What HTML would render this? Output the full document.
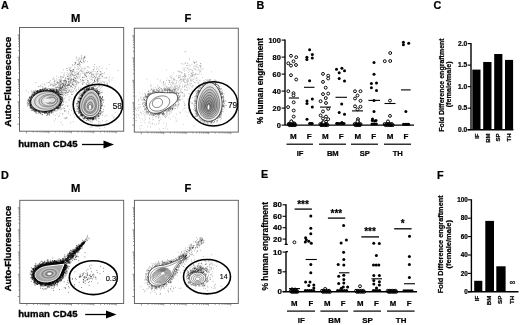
<!DOCTYPE html>
<html><head><meta charset="utf-8"><style>
html,body{margin:0;padding:0;background:#fff;width:520px;height:325px;overflow:hidden}
svg{display:block;will-change:transform}
text{font-family:"Liberation Sans", sans-serif;fill:#000;stroke:#000;stroke-width:0.22px;stroke-linejoin:round}
</style></head><body>
<svg width="520" height="325" viewBox="0 0 520 325">
<rect width="520" height="325" fill="#fff"/>
<text x="1" y="8.9" font-size="10.8" font-weight="bold" text-anchor="start">A</text>
<text x="256.5" y="8.9" font-size="10.8" font-weight="bold" text-anchor="start">B</text>
<text x="433.6" y="8.9" font-size="10.8" font-weight="bold" text-anchor="start">C</text>
<text x="1.1" y="178.5" font-size="10.8" font-weight="bold" text-anchor="start">D</text>
<text x="261.1" y="177.9" font-size="10.8" font-weight="bold" text-anchor="start">E</text>
<text x="437.1" y="179.1" font-size="10.8" font-weight="bold" text-anchor="start">F</text>
<g id="flowA">
<path d="M70.8 71.0h0M79.0 58.9h0M75.1 64.4h0M62.6 87.3h0M61.1 82.5h0M81.5 62.5h0M59.3 92.9h0M84.1 68.0h0M74.5 62.5h0M70.8 80.6h0M63.4 84.2h0M63.1 85.1h0M57.7 82.2h0M66.0 78.4h0M71.4 78.9h0M70.3 75.1h0M85.0 56.3h0M77.2 64.8h0M75.9 75.1h0M84.6 56.5h0M54.2 81.5h0M58.1 86.9h0M66.6 68.7h0M46.8 82.7h0M56.5 90.1h0M73.4 79.8h0M68.2 78.8h0M79.3 57.7h0M70.1 70.3h0M72.8 79.4h0M69.4 77.9h0M62.6 86.3h0M57.9 91.7h0M61.3 87.9h0M77.0 71.4h0M63.2 89.0h0M66.1 82.7h0M54.3 89.2h0M80.5 64.7h0M58.0 87.0h0M66.5 88.3h0M77.8 59.2h0M68.8 76.7h0M79.7 63.0h0M69.3 69.0h0M80.9 71.0h0M64.4 94.3h0M68.8 74.8h0M71.5 78.8h0M81.5 62.6h0M56.7 76.1h0M72.6 74.1h0M58.5 90.9h0M66.1 81.7h0M60.7 81.1h0M59.4 88.2h0M78.3 64.0h0M69.5 84.6h0M85.0 57.6h0M71.6 73.9h0M76.5 76.6h0M71.5 70.7h0M73.2 69.5h0M54.0 84.2h0M72.2 83.3h0M65.5 88.8h0M69.2 83.2h0M61.7 92.0h0M84.1 57.7h0M62.4 87.7h0M73.4 70.0h0M63.0 84.0h0M80.8 61.9h0M78.0 74.1h0M61.9 90.9h0M79.5 63.0h0M81.7 57.5h0M80.1 59.3h0M75.7 78.2h0M62.0 90.4h0M61.4 87.9h0M81.7 58.7h0M67.2 72.9h0M60.7 87.9h0M83.1 62.9h0M72.0 70.9h0M70.3 74.2h0M64.9 81.4h0M66.8 80.9h0M56.8 82.3h0M57.5 90.9h0M78.6 60.1h0M70.8 80.6h0M68.0 73.8h0M66.1 85.2h0M80.7 70.2h0M57.1 90.9h0M63.5 80.6h0M59.0 92.1h0M59.8 89.6h0M81.6 55.8h0M75.0 72.1h0M73.3 84.8h0M68.9 75.9h0M80.1 61.5h0M61.3 80.4h0M72.5 74.6h0M71.0 67.4h0M61.4 79.9h0M73.4 79.5h0M74.7 64.8h0M84.5 62.1h0M65.6 92.9h0M83.3 59.5h0M60.0 93.5h0M81.9 71.0h0M78.0 64.2h0M58.0 87.7h0M62.4 77.2h0M78.8 64.5h0M63.4 95.8h0M75.5 74.4h0M75.5 63.5h0M66.7 74.9h0M74.4 67.2h0M62.9 87.5h0M60.6 87.1h0M65.9 82.9h0M61.9 88.9h0M63.8 82.2h0M83.1 58.3h0M71.7 75.0h0M64.4 82.9h0M64.6 86.7h0M87.7 61.5h0M69.3 80.8h0M84.4 57.0h0M64.3 73.0h0M70.7 77.4h0M76.7 57.2h0M72.6 64.7h0M73.8 76.1h0M69.1 81.8h0M80.4 61.3h0M61.1 76.6h0M81.4 58.9h0M56.4 89.1h0M69.0 81.5h0M76.3 81.7h0M83.8 58.7h0M59.8 84.1h0M75.4 62.5h0M74.1 70.2h0M75.0 68.3h0M69.5 69.8h0M84.3 57.5h0M60.7 80.6h0M69.7 83.8h0M65.0 90.2h0M62.4 94.2h0M60.0 86.0h0M83.3 60.8h0M79.2 63.0h0M58.2 88.9h0M71.0 72.6h0M64.4 75.2h0M67.5 70.5h0M75.9 72.7h0M63.2 83.8h0M84.2 58.2h0M71.1 81.0h0M67.8 68.6h0M70.7 70.4h0M61.6 88.5h0M60.1 92.1h0M65.3 79.8h0M79.7 68.7h0M79.2 64.8h0M72.7 65.6h0M56.3 87.4h0M83.9 61.4h0M79.5 65.9h0M76.1 58.1h0M73.7 79.5h0M83.5 61.0h0M63.3 94.9h0M56.9 90.6h0M57.1 91.0h0M58.7 83.1h0M71.0 92.5h0M60.5 87.5h0M75.6 78.3h0M56.1 89.7h0M72.1 74.2h0M54.8 84.2h0M73.2 69.5h0M61.7 94.4h0M59.8 81.0h0M85.4 60.7h0M71.1 76.7h0M75.9 62.5h0M72.3 70.0h0M70.9 72.0h0M61.0 87.7h0M69.6 73.3h0M55.4 89.2h0M77.5 64.4h0M81.2 56.1h0M76.8 60.3h0M58.4 91.1h0M67.5 85.4h0M59.1 80.1h0M59.6 89.9h0M70.8 71.0h0M75.6 63.3h0M66.8 86.1h0M79.0 61.3h0M82.0 68.1h0M57.2 87.4h0M78.1 67.3h0M80.4 61.0h0M58.7 85.7h0M72.8 75.8h0M72.6 71.6h0M73.9 74.4h0M59.1 90.2h0M70.7 68.7h0M72.6 72.0h0M79.1 64.1h0M80.8 66.8h0M58.6 91.1h0M55.6 99.0h0M50.6 84.0h0M68.9 91.4h0M50.3 89.8h0M55.5 85.1h0M64.5 80.1h0M62.3 92.9h0M61.5 92.4h0M53.6 86.0h0M59.5 105.2h0M63.7 89.0h0M65.4 86.9h0M72.7 94.5h0M51.8 84.9h0M52.9 85.7h0M73.3 85.4h0M53.0 85.2h0M67.9 94.4h0M47.6 104.7h0M61.6 97.0h0M56.5 90.9h0M50.8 90.2h0M77.7 81.8h0M58.9 84.3h0M50.4 95.1h0M64.5 85.8h0M60.0 81.4h0M64.4 86.2h0M81.1 87.1h0M61.1 83.3h0M62.2 83.6h0M59.7 90.0h0M60.1 94.8h0M65.2 87.8h0M60.9 83.7h0M57.5 90.4h0M62.1 90.2h0M59.7 79.8h0M60.3 79.4h0M59.6 88.2h0M51.0 98.4h0M65.4 84.4h0M60.6 86.7h0M57.2 90.4h0M61.5 89.6h0M57.6 94.0h0M65.4 84.5h0M64.1 91.1h0M55.3 97.7h0M67.8 85.9h0M65.1 80.8h0M65.7 90.4h0M68.8 84.5h0M56.6 97.2h0M77.0 83.9h0M60.6 77.5h0M70.9 79.9h0M49.0 102.4h0M49.7 88.7h0M65.5 95.5h0M63.5 89.4h0M83.2 83.2h0M63.4 85.5h0M53.6 90.1h0M69.5 85.4h0M69.6 89.9h0M59.5 90.2h0M72.3 84.5h0M73.9 81.6h0M64.3 89.5h0M51.8 84.3h0M68.8 82.4h0M60.6 76.4h0M60.2 85.4h0M50.3 80.6h0M66.2 92.1h0M65.3 81.0h0M67.8 89.6h0M45.5 101.4h0M71.4 86.0h0M81.1 81.4h0M68.3 85.6h0M68.3 79.0h0M68.2 90.4h0M77.9 73.9h0M65.4 87.2h0M74.1 78.1h0M71.4 73.1h0M63.0 86.2h0M74.5 86.3h0M51.1 90.5h0M64.8 81.0h0M58.5 99.6h0M70.3 85.4h0M65.7 93.5h0M67.6 92.4h0M55.4 87.3h0M63.7 81.6h0M70.7 83.3h0M58.9 91.7h0M66.1 92.2h0M58.9 87.6h0M82.0 89.3h0M79.0 74.7h0M72.4 91.8h0M60.4 82.2h0M67.5 87.4h0M52.9 83.2h0M57.7 97.4h0M59.2 89.7h0M68.9 87.6h0M64.6 90.2h0M57.5 89.5h0M62.3 97.1h0M62.0 82.8h0M61.7 87.0h0M63.7 74.6h0M56.4 90.3h0M86.1 75.7h0M67.0 89.9h0M78.3 73.0h0M67.1 93.7h0M71.0 86.2h0M68.9 97.8h0M79.0 78.7h0M61.9 72.7h0M68.6 81.4h0M70.6 86.6h0M56.1 80.2h0M64.7 80.5h0M60.4 85.1h0M53.7 77.4h0M74.4 80.1h0M80.3 88.7h0M58.2 77.6h0M54.2 85.6h0M61.8 89.3h0M52.5 99.2h0M55.7 96.1h0M63.0 85.2h0M62.4 83.9h0M54.3 81.8h0M71.9 94.7h0M83.8 80.6h0M67.3 78.8h0M74.7 77.4h0M63.4 85.1h0M64.0 83.5h0M60.2 81.5h0M71.2 98.6h0M63.6 85.3h0M71.4 86.2h0M56.5 91.5h0M72.4 81.9h0M71.8 92.4h0M60.6 90.3h0M67.2 95.9h0M49.0 94.2h0M63.9 92.1h0M74.6 88.9h0M57.0 98.6h0M60.4 84.6h0M65.2 78.6h0M49.3 96.3h0M52.2 91.7h0M68.8 85.3h0M75.2 75.9h0M51.5 91.4h0M54.0 85.7h0M65.5 80.5h0M54.1 100.6h0M65.6 88.3h0M68.2 88.3h0M70.0 91.5h0M69.4 85.3h0M62.2 76.9h0M62.9 85.8h0M61.2 78.6h0M76.7 77.0h0M50.1 85.2h0M62.7 87.2h0M60.4 90.6h0M62.7 92.2h0M59.9 90.0h0M81.7 92.2h0M56.3 89.7h0M62.2 94.5h0M55.2 90.4h0M61.0 81.7h0M56.6 89.4h0M44.9 91.5h0M62.7 89.1h0M56.9 78.9h0M64.9 92.4h0M68.5 82.4h0M61.3 94.0h0M56.5 84.0h0M65.1 97.3h0M71.0 90.1h0M65.3 93.1h0M60.2 88.8h0M85.1 75.1h0M61.2 88.5h0M71.9 89.7h0M54.9 80.8h0M63.1 87.7h0M70.8 91.4h0M70.3 87.9h0M60.8 96.4h0M82.4 77.4h0M67.3 85.2h0M73.7 71.4h0M66.0 88.8h0M68.4 79.7h0M66.0 82.9h0M65.3 84.7h0M57.0 92.5h0M67.3 76.5h0M65.9 90.5h0M58.3 93.0h0M62.1 97.3h0M88.7 81.9h0M66.3 90.7h0M66.2 85.8h0M70.6 71.0h0M72.1 79.7h0M75.4 78.7h0M61.4 91.2h0M70.2 81.9h0M66.4 80.8h0M53.8 102.5h0M70.4 82.6h0M69.5 90.4h0M59.1 85.4h0M68.3 92.6h0M60.0 99.5h0M56.3 84.6h0M73.3 78.3h0M54.7 91.9h0M76.0 86.1h0M63.6 90.3h0M67.4 78.9h0M67.3 83.8h0M59.4 86.8h0M65.6 85.7h0M59.5 87.3h0M73.5 80.5h0M75.7 86.4h0M77.8 93.0h0M62.4 94.5h0M70.0 96.4h0M69.2 67.2h0M60.9 94.7h0M73.3 84.8h0M66.3 88.5h0M69.2 81.9h0M63.4 69.7h0M65.4 77.6h0M70.7 79.4h0M60.3 92.9h0M55.2 87.1h0M54.1 94.9h0M72.4 87.8h0M68.1 91.6h0M64.8 85.5h0M73.0 87.5h0M61.7 86.9h0M64.2 87.3h0M62.8 95.9h0M64.0 90.4h0M60.7 92.4h0M66.1 81.8h0M80.4 76.0h0M80.9 80.1h0M59.0 88.1h0M68.2 83.8h0M64.2 84.4h0M51.7 95.4h0M51.1 100.5h0M57.2 86.9h0M64.5 88.5h0M48.4 86.2h0M49.8 82.8h0M64.5 98.9h0M60.2 95.1h0M56.7 95.3h0M62.6 87.6h0M75.7 90.8h0M66.8 85.4h0M60.5 94.3h0M66.5 91.2h0M71.4 94.3h0M50.2 96.1h0M69.7 79.3h0M58.5 89.4h0M55.9 94.5h0M86.2 77.1h0M54.0 88.4h0M66.1 93.0h0M56.7 87.6h0M74.4 84.9h0M58.1 83.0h0M51.6 91.8h0M52.5 102.4h0M62.5 91.9h0M82.4 80.6h0M60.4 96.7h0M70.1 75.9h0M58.0 91.0h0M59.6 102.0h0M44.1 94.8h0M62.3 86.5h0M67.2 86.3h0M67.9 92.5h0M50.2 98.4h0M60.6 90.7h0M63.0 80.5h0M63.6 93.4h0M64.8 80.9h0M88.0 84.8h0M56.1 95.8h0M85.3 75.1h0M65.7 83.8h0M60.4 88.2h0M64.1 92.6h0M60.6 86.3h0M56.5 92.7h0M58.1 90.3h0M73.6 81.7h0M89.5 78.3h0M84.3 77.1h0M82.7 83.3h0M76.6 89.3h0M82.8 73.7h0M78.0 75.9h0M84.0 73.4h0M93.1 69.7h0M61.1 81.7h0M65.0 84.6h0M95.3 78.0h0M69.9 78.3h0M101.4 73.7h0M86.2 83.9h0M109.7 76.9h0M86.0 79.5h0M88.5 72.4h0M74.2 81.9h0M75.0 80.9h0M89.7 90.9h0M75.8 80.2h0M83.4 81.0h0M92.8 71.7h0M72.9 71.6h0M76.4 84.2h0M82.3 72.1h0M80.6 79.5h0M87.5 72.9h0M77.9 68.6h0M76.5 91.1h0M62.7 83.6h0M85.3 75.1h0M76.3 80.4h0M83.8 77.6h0M66.1 83.6h0M74.8 77.8h0M87.4 80.8h0M91.4 72.1h0M95.1 81.5h0M97.5 81.9h0M82.3 77.5h0M88.9 67.5h0M84.9 74.3h0M77.0 69.4h0M75.6 80.9h0M94.4 80.5h0M82.9 77.2h0M77.0 83.1h0M82.9 82.3h0M100.4 71.8h0M68.2 78.3h0M67.8 76.2h0M96.7 74.8h0M71.1 86.9h0M95.1 71.7h0M77.0 78.4h0M88.0 80.6h0M97.6 80.8h0M97.9 81.6h0M87.1 67.1h0M83.4 80.2h0M82.3 84.4h0M78.7 74.0h0M98.9 76.8h0M88.0 82.5h0M94.7 76.3h0M59.5 82.6h0M77.7 74.0h0M88.3 84.0h0M77.1 73.3h0M102.1 68.5h0M72.9 83.6h0M86.6 72.6h0M90.4 72.5h0M75.7 82.2h0M89.9 71.8h0M86.9 76.3h0M109.1 64.3h0M96.9 73.0h0M84.3 82.5h0M95.0 82.1h0M85.9 73.5h0M80.0 82.7h0M92.3 83.9h0M90.1 82.5h0M98.6 73.7h0M67.6 76.4h0M73.8 91.9h0M78.6 87.8h0M93.0 85.7h0M93.2 74.0h0M82.3 79.2h0M84.6 74.4h0M87.0 87.2h0M68.5 85.3h0M75.9 82.2h0M91.8 74.8h0M88.0 66.4h0M93.2 70.8h0M90.2 76.9h0M58.2 82.6h0M89.3 86.0h0M87.2 78.5h0M73.7 90.9h0M101.0 72.0h0M78.6 69.6h0M97.8 90.2h0M93.3 82.7h0M87.1 70.6h0M94.0 66.5h0M82.6 80.3h0M93.2 77.3h0M86.1 72.4h0M72.0 82.8h0M74.6 73.1h0M71.1 79.6h0M63.8 76.7h0M69.0 84.6h0M92.0 87.9h0M68.5 79.3h0M92.1 73.7h0M84.4 88.8h0M78.4 72.6h0M72.3 84.4h0M84.1 69.2h0M75.8 84.4h0M88.1 72.4h0M91.0 79.1h0M66.6 82.3h0M86.7 73.3h0M63.3 83.7h0M94.3 84.3h0M68.8 100.2h0M75.4 87.3h0M97.6 79.3h0M83.0 70.9h0M88.4 71.8h0M66.1 102.6h0M94.4 85.8h0M78.4 89.4h0M102.1 81.3h0M81.3 71.3h0M77.8 66.2h0M68.2 84.3h0M74.3 80.5h0M86.9 89.3h0M96.1 73.3h0M93.8 69.5h0M82.7 84.3h0M71.8 80.7h0M71.8 83.2h0M97.8 68.2h0M84.3 72.2h0M70.7 75.0h0M102.5 86.3h0M87.1 72.3h0M89.9 73.7h0M92.1 76.9h0M87.9 80.5h0M77.7 77.7h0M66.9 81.4h0M70.3 82.0h0M75.2 81.8h0M85.3 68.4h0M74.4 75.5h0M94.5 85.1h0M91.3 73.1h0M94.7 64.5h0M96.7 69.2h0M63.3 102.5h0M96.7 66.8h0M85.1 76.2h0M81.9 69.3h0M78.6 83.0h0M88.6 84.0h0M89.6 91.0h0M77.8 81.9h0M63.4 77.5h0M94.5 68.1h0M88.9 75.8h0M73.5 79.6h0M78.2 77.0h0M92.4 79.1h0M76.7 74.9h0M86.4 76.5h0M99.1 89.5h0M91.8 74.9h0M80.6 73.8h0M73.4 75.4h0M79.4 76.9h0M90.2 73.2h0M79.6 71.8h0M100.5 75.2h0M102.4 76.4h0M97.5 71.5h0M96.3 90.8h0M74.9 88.8h0M100.8 74.6h0M93.8 82.6h0M78.6 82.6h0M94.7 76.5h0M96.2 79.3h0M100.9 82.3h0M91.3 90.1h0M107.1 83.7h0M97.8 79.5h0M103.4 82.1h0M89.7 83.8h0M117.9 70.5h0M106.1 81.9h0M99.3 87.0h0M92.7 80.8h0M109.0 79.0h0M97.4 80.6h0M97.3 87.9h0M94.4 84.5h0M92.3 83.4h0M99.4 66.7h0M100.0 74.5h0M97.3 87.9h0M93.1 74.6h0M108.9 80.6h0M109.5 81.7h0M94.6 79.7h0M107.6 84.8h0M100.0 80.3h0M99.3 77.0h0M111.9 80.0h0M93.0 77.5h0M104.5 83.3h0M99.2 76.6h0M100.1 71.4h0M92.0 84.1h0M97.0 81.9h0M107.5 83.3h0M100.1 90.9h0M104.1 78.2h0M104.5 82.1h0M94.7 80.4h0M99.0 69.9h0M98.9 78.5h0M97.3 71.5h0M97.8 79.8h0M100.6 74.2h0M103.9 73.8h0M98.6 86.7h0M95.7 77.4h0M106.6 78.0h0M98.2 81.1h0M106.5 68.7h0M94.9 74.8h0M93.3 75.6h0M94.8 81.5h0M94.5 80.6h0M102.5 76.3h0M100.8 88.4h0M102.0 76.7h0M99.6 75.3h0M101.7 84.4h0M95.0 78.9h0M106.8 77.5h0M101.2 74.8h0M95.0 77.4h0M113.1 78.0h0M96.8 77.2h0M99.0 83.3h0M101.1 90.3h0M101.3 87.2h0M101.7 83.0h0M91.3 79.4h0M99.6 78.8h0M87.1 84.4h0M97.7 77.8h0M98.5 78.9h0M102.4 73.6h0M94.4 81.5h0M100.9 78.1h0M96.6 75.8h0M99.6 85.9h0M93.7 87.6h0M105.1 77.7h0M104.7 72.7h0M89.6 73.6h0M97.5 78.4h0M96.9 80.5h0M87.2 82.5h0M91.5 76.7h0M97.5 74.2h0M91.8 75.0h0M99.9 82.9h0M55.6 84.0h0M42.1 84.3h0M54.5 79.9h0M62.4 86.1h0M42.2 89.4h0M60.3 89.4h0M60.5 88.5h0M62.3 93.0h0M49.0 93.8h0M51.6 88.3h0M40.8 86.8h0M57.8 82.7h0M56.5 89.4h0M52.8 79.2h0M49.0 90.6h0M42.4 88.4h0M26.2 90.7h0M43.4 91.5h0M31.6 90.8h0M47.6 91.2h0M40.7 85.5h0M72.4 84.7h0M42.9 86.9h0M39.8 92.8h0M67.3 85.2h0M32.7 92.7h0M61.1 91.3h0M61.6 84.5h0M48.3 82.5h0M35.8 91.9h0M43.3 97.1h0M50.7 85.4h0M58.0 95.2h0M54.9 83.1h0M53.7 93.5h0M45.1 84.9h0M60.2 88.6h0M39.0 86.5h0M42.4 89.2h0M51.1 92.6h0M57.1 81.7h0M54.1 91.6h0M54.6 92.1h0M44.5 84.2h0M59.3 83.7h0M28.4 92.1h0M42.8 86.8h0M36.0 82.7h0M38.4 86.6h0M53.7 78.8h0M57.5 83.3h0M39.3 90.7h0M49.3 81.9h0M68.4 84.6h0M52.5 88.8h0M64.1 86.2h0M60.1 85.0h0M61.2 84.9h0M46.4 95.6h0M53.2 88.4h0M82.9 114.2h0M58.5 116.4h0M55.5 118.8h0M74.6 108.6h0M60.0 113.1h0M65.1 106.1h0M69.5 99.7h0M61.5 109.6h0M62.8 113.8h0M55.2 115.5h0M63.6 108.1h0M54.1 104.9h0M67.9 106.2h0M65.5 118.4h0M73.3 121.4h0M62.6 105.5h0M73.2 113.9h0M74.0 112.1h0M74.6 117.1h0M70.7 115.0h0M68.2 113.4h0M66.8 117.9h0M60.9 122.4h0M64.2 117.9h0M64.3 110.5h0M81.3 110.1h0M54.8 107.7h0M62.5 124.9h0M66.7 117.6h0M57.0 114.1h0M70.4 122.8h0M59.4 115.6h0M67.4 105.9h0M64.8 110.4h0M46.4 115.6h0M69.3 109.4h0M54.3 120.9h0M67.1 118.1h0M76.3 108.9h0M71.5 110.6h0M64.5 111.5h0M65.0 118.7h0M66.0 111.1h0M62.8 114.0h0M57.8 109.0h0M64.6 108.6h0M64.1 108.3h0M81.0 120.0h0M68.6 111.7h0M82.5 113.9h0M99.1 121.2h0M103.1 125.6h0M99.8 128.4h0M91.2 122.8h0M90.0 127.3h0M96.7 119.8h0M109.2 125.0h0M88.9 118.6h0M86.1 120.5h0M99.0 118.6h0M93.2 118.5h0M92.5 122.1h0M115.2 112.3h0M98.8 118.3h0M104.9 116.2h0M98.5 115.8h0M107.0 120.4h0M98.4 121.5h0M97.5 113.8h0M106.0 121.2h0M98.5 123.9h0M112.2 115.6h0M92.2 126.2h0M114.2 117.0h0M88.2 117.4h0M95.0 113.7h0M100.3 114.9h0M87.9 123.7h0M93.2 119.7h0M106.3 123.3h0M96.6 120.2h0M91.7 127.0h0M106.5 115.6h0M100.0 122.9h0M104.8 127.3h0M113.7 117.8h0M99.1 114.9h0M102.5 120.6h0M79.1 117.3h0" stroke="#000" stroke-opacity="0.35" stroke-width="0.9" stroke-linecap="round" fill="none"/>
<path d="M31.1 101.8h0M49.8 111.8h0M49.8 111.1h0M35.2 109.4h0M47.4 89.7h0M61.2 103.0h0M51.9 90.2h0M63.0 98.0h0M30.1 97.9h0M37.6 111.1h0M47.5 111.1h0M52.1 110.6h0M40.9 110.4h0M53.0 89.6h0M62.4 99.8h0M47.3 89.6h0M37.7 91.6h0M62.5 101.3h0M59.3 104.9h0M43.1 91.6h0M37.7 90.6h0M41.7 111.2h0M53.0 92.1h0M49.5 111.4h0M31.4 110.3h0M57.5 108.3h0M35.8 91.9h0M58.6 106.8h0M51.8 111.1h0M45.3 89.9h0M30.1 103.4h0M37.9 93.2h0M42.6 89.4h0M33.5 95.4h0M51.8 112.2h0M40.4 91.9h0M56.3 107.9h0M45.3 111.2h0M30.1 108.3h0M56.9 108.0h0M57.8 107.8h0M37.0 92.5h0M44.0 91.4h0M36.5 110.7h0M34.9 111.1h0M50.0 112.2h0M29.3 101.1h0M32.2 96.4h0M58.7 94.5h0M60.8 103.1h0M57.0 92.1h0M62.0 98.3h0M38.7 113.3h0M42.6 91.5h0M50.8 89.2h0M36.8 93.8h0M43.1 111.6h0M34.0 92.4h0M55.3 89.1h0M58.5 109.1h0M31.2 104.5h0M60.5 101.1h0M51.9 91.3h0M46.7 91.0h0M60.8 103.3h0M44.1 88.1h0M39.6 91.8h0M55.8 108.9h0M29.1 100.4h0M39.7 91.5h0M39.9 110.5h0M30.4 102.2h0M61.6 97.0h0M35.8 93.0h0M27.3 102.7h0M60.4 105.6h0M57.6 110.1h0M52.5 91.6h0M43.5 90.3h0M51.1 91.1h0M31.5 96.0h0M31.3 96.5h0M29.9 100.1h0M43.1 89.7h0M39.8 111.8h0M30.8 103.0h0M30.4 106.2h0M37.2 92.2h0M49.2 110.3h0M61.5 102.4h0M58.2 106.3h0M52.6 111.1h0M53.7 90.1h0M41.3 89.5h0M44.6 90.3h0M31.2 107.5h0M57.6 107.8h0M31.9 105.3h0M53.1 91.7h0M29.8 102.2h0M34.5 92.8h0M35.9 112.7h0M54.7 109.8h0M33.2 91.4h0M30.9 104.2h0M38.7 110.9h0M46.6 112.4h0M39.7 89.6h0M40.7 112.9h0M32.6 97.3h0M46.6 111.6h0M44.8 91.0h0M36.5 109.7h0M30.1 104.6h0M58.1 94.2h0M42.5 92.1h0M43.5 90.4h0M39.6 111.9h0M51.2 91.7h0M36.3 109.7h0M62.2 98.7h0M56.4 91.3h0M37.3 93.2h0M50.9 89.9h0M29.9 99.0h0M42.9 90.0h0M56.6 108.4h0M60.5 98.9h0M48.6 91.5h0M54.7 109.2h0M46.8 112.1h0M32.4 97.2h0M45.3 88.3h0M56.1 111.2h0M59.3 96.5h0M39.3 111.0h0M61.9 98.9h0M44.7 89.6h0M27.8 104.9h0M37.3 110.8h0M59.8 108.5h0M58.7 105.9h0M35.0 93.9h0M46.1 90.5h0M56.8 93.0h0M37.3 111.6h0M58.2 94.5h0M43.5 110.6h0M58.4 95.7h0M58.4 92.5h0M54.1 110.4h0M53.8 90.5h0M40.9 91.2h0M41.0 92.0h0M51.6 90.4h0M30.7 100.2h0M29.5 102.3h0M38.1 110.1h0M53.8 91.6h0M56.7 92.3h0M53.7 108.9h0M46.0 87.7h0M44.7 111.1h0M53.2 114.1h0M50.9 112.0h0M31.8 97.1h0M44.4 111.8h0M47.2 115.5h0M57.5 107.0h0M40.1 110.6h0M45.6 88.1h0M62.5 101.9h0M28.3 105.0h0M34.0 95.3h0M60.6 104.0h0M42.3 114.8h0M56.7 93.4h0M60.6 99.0h0M52.3 91.3h0M52.5 109.3h0M44.5 89.4h0M30.5 106.6h0M53.2 110.7h0M29.7 104.7h0M58.3 93.1h0M55.1 90.7h0M35.4 108.8h0M60.4 105.8h0M56.5 91.4h0M61.7 98.0h0M29.6 102.1h0M48.3 110.5h0M30.5 99.1h0M40.1 92.2h0M31.6 104.0h0M38.5 111.3h0M46.6 111.8h0M42.4 114.5h0M60.0 103.6h0M46.2 112.4h0M60.8 94.7h0M61.3 100.3h0M42.7 90.5h0M47.3 90.0h0M34.2 109.0h0M33.3 96.1h0M48.5 111.0h0M37.3 91.1h0M40.9 89.9h0M43.3 90.6h0M27.3 103.7h0M60.4 96.7h0M53.6 92.2h0M31.3 96.8h0M39.3 92.3h0M44.9 113.2h0M59.4 94.8h0M36.5 93.7h0M56.0 93.1h0M43.4 110.9h0M61.3 97.8h0M58.1 107.9h0M30.4 100.4h0M56.4 107.1h0M51.7 110.8h0M45.7 90.5h0M59.7 105.5h0M36.4 109.7h0M51.0 110.7h0M52.3 91.6h0M60.1 107.1h0M39.0 111.9h0M52.5 90.8h0M39.6 91.9h0M40.1 89.8h0M59.9 98.5h0M61.0 101.5h0M37.7 90.8h0M44.3 90.3h0M44.1 90.4h0M41.4 91.5h0M58.9 105.1h0M59.5 107.0h0M46.3 90.6h0M33.6 94.1h0M45.2 112.0h0M63.3 100.2h0M31.2 99.7h0M57.6 106.4h0M43.7 90.8h0M38.8 111.3h0M48.9 90.8h0M57.7 106.6h0M28.7 103.7h0M57.6 107.6h0M46.7 90.2h0M32.0 98.3h0M48.1 113.2h0M59.7 96.4h0M38.9 91.0h0M39.6 111.9h0M53.0 92.2h0M35.4 111.9h0M58.8 94.8h0M43.0 112.4h0M59.7 98.2h0M59.4 104.6h0M43.5 90.1h0M43.4 112.3h0M33.0 108.7h0M35.9 93.3h0M63.3 104.3h0M48.2 111.0h0M57.1 106.6h0M43.2 90.4h0M49.6 113.1h0M29.3 102.6h0M40.4 111.0h0M47.8 111.5h0M59.8 93.7h0M27.4 102.1h0M36.1 93.0h0M40.4 90.8h0M50.7 90.3h0M45.6 111.6h0M59.0 105.9h0M32.1 105.4h0M53.5 112.0h0M61.0 101.3h0M58.0 93.7h0M34.3 92.9h0M33.2 108.8h0M55.5 108.7h0M45.1 90.7h0M28.1 99.2h0M52.5 111.1h0M60.3 98.4h0M59.3 95.3h0M57.5 94.6h0M50.6 90.0h0M30.8 100.0h0M42.1 111.6h0M35.3 90.4h0M53.8 108.7h0M34.3 94.5h0M59.2 104.8h0M61.7 101.1h0M40.8 90.0h0M38.8 111.2h0M39.9 90.3h0M47.0 89.9h0M50.4 91.6h0M34.4 94.1h0M52.8 90.2h0M37.1 92.6h0M58.9 93.7h0M55.8 92.4h0M61.0 103.0h0M45.1 111.9h0M35.5 111.7h0M46.9 111.1h0M52.1 109.9h0M54.3 92.2h0M61.5 101.8h0M52.2 110.6h0M45.6 89.0h0M48.7 111.0h0M46.3 113.1h0M60.7 96.5h0M45.5 90.9h0M30.9 108.1h0M55.0 108.5h0M45.0 112.6h0M60.3 98.3h0M47.8 90.3h0M59.8 104.9h0M40.8 91.0h0M36.5 110.8h0M41.9 90.1h0M42.8 111.7h0M54.9 107.5h0M60.5 101.2h0M43.0 111.6h0M53.5 90.4h0M56.0 92.5h0M38.5 91.9h0M44.2 89.7h0M51.4 112.9h0M38.4 111.0h0M56.5 91.0h0M60.7 98.3h0M32.0 107.2h0M47.0 90.9h0M59.3 93.5h0M61.8 99.3h0M43.1 112.0h0M37.5 92.6h0M35.1 110.8h0M31.0 105.2h0M30.3 106.2h0M44.6 111.4h0M62.0 100.8h0M46.0 89.4h0M39.9 91.0h0M52.1 90.1h0M54.6 109.9h0M48.2 113.0h0M33.5 96.1h0M59.1 94.1h0M31.4 105.1h0M50.5 111.3h0M31.9 94.7h0M59.7 96.2h0M54.3 91.2h0M55.9 93.4h0M32.7 110.5h0M46.0 112.4h0M53.9 91.1h0M47.1 90.3h0M52.3 91.7h0M34.9 110.2h0M43.4 111.7h0M47.5 113.5h0M54.1 90.7h0M57.5 93.2h0M37.9 110.6h0M54.2 91.9h0M35.9 110.5h0M31.6 107.2h0M30.1 96.2h0M49.3 113.0h0M45.1 111.5h0M46.5 111.4h0M45.8 110.9h0M30.8 101.0h0M57.2 107.1h0M46.5 90.2h0M52.8 110.1h0M32.3 106.5h0M36.0 94.0h0M55.0 108.6h0M34.5 108.6h0M30.8 96.7h0M31.5 99.3h0M55.8 92.8h0M47.1 91.6h0M57.3 108.4h0M51.0 90.5h0M30.4 98.0h0M39.1 92.3h0M54.4 110.3h0M29.9 105.5h0M40.8 92.0h0M47.9 90.5h0M48.6 88.5h0M49.2 112.7h0M50.7 91.3h0M32.2 97.8h0M37.6 91.1h0M52.6 91.3h0M33.8 109.7h0M59.3 92.0h0M55.0 90.9h0M48.8 91.4h0M35.9 110.6h0M28.9 99.8h0M52.6 109.9h0M44.8 90.4h0M56.7 90.1h0M53.4 110.4h0M43.4 90.9h0M40.0 91.5h0M59.7 102.3h0M58.2 92.7h0M30.4 104.7h0M45.1 111.6h0M60.9 102.0h0M46.9 89.5h0M39.0 111.8h0M30.4 101.1h0M51.2 110.7h0M33.1 94.3h0M35.5 109.6h0M48.8 90.9h0M37.9 93.0h0M42.5 91.3h0M46.4 112.1h0M60.9 105.8h0M56.3 89.2h0M58.7 94.9h0M36.1 93.2h0M57.2 94.2h0M40.9 89.7h0M34.1 94.9h0M34.4 108.3h0M38.7 110.8h0M31.1 103.6h0M48.7 112.4h0M33.0 109.0h0M29.1 102.1h0M61.1 101.9h0M35.5 110.0h0M44.2 112.5h0M36.4 94.5h0M49.7 90.0h0M33.9 93.7h0M37.5 92.4h0M34.5 95.4h0M46.0 110.6h0M36.7 109.9h0M52.2 90.5h0M60.7 94.4h0M51.7 110.5h0M62.4 100.2h0M61.2 95.1h0M53.6 89.5h0M33.2 94.5h0M49.9 88.8h0M32.5 94.2h0M57.1 91.7h0M46.8 111.3h0M32.1 107.3h0M37.2 90.6h0M48.8 111.0h0M41.5 90.6h0M45.6 111.2h0M40.8 91.1h0M48.9 91.1h0M33.7 108.1h0M60.9 99.1h0M36.2 93.8h0M44.8 88.5h0M59.7 101.0h0M56.6 107.7h0M41.1 91.3h0M59.6 94.7h0M34.8 93.1h0M57.7 92.4h0M60.8 104.8h0M55.2 93.1h0M54.3 92.4h0M34.3 92.3h0M31.2 110.0h0M40.8 91.7h0M47.0 112.9h0M37.5 91.2h0M40.3 91.5h0M30.6 99.4h0M46.0 113.8h0M61.8 99.6h0M51.5 112.7h0M51.5 89.3h0M49.7 112.5h0M58.8 105.5h0M47.5 114.5h0M28.6 101.0h0M33.4 96.2h0M54.9 91.6h0M52.7 91.4h0M60.1 96.9h0M55.0 92.6h0M30.7 107.6h0M55.9 110.5h0M61.7 94.7h0M48.5 112.1h0M33.5 92.5h0M45.2 111.3h0M50.3 89.3h0M50.3 110.3h0M33.8 108.1h0M48.9 110.6h0M53.5 91.3h0M35.1 93.9h0M35.1 94.0h0M41.4 111.3h0M52.6 110.5h0M52.9 91.0h0M45.5 90.9h0M43.1 89.8h0M60.5 99.8h0M31.5 97.5h0M51.5 111.0h0M34.0 94.6h0M43.4 112.5h0M30.4 101.7h0M30.2 107.2h0M29.6 97.1h0M57.1 94.3h0M49.7 90.7h0M33.8 109.4h0M49.6 90.8h0M52.8 92.4h0M46.6 89.0h0M29.2 97.8h0M55.9 93.3h0M29.7 103.8h0M57.3 107.9h0M45.0 112.9h0M36.8 91.7h0M36.6 110.2h0M33.5 108.8h0M34.9 108.9h0M51.3 111.6h0M58.0 107.2h0M62.5 104.9h0M38.1 91.4h0M40.3 113.6h0M31.6 106.4h0M57.9 95.1h0M34.9 92.8h0M49.0 90.6h0M45.3 90.2h0M59.3 95.7h0M59.5 105.1h0M35.4 110.3h0M58.7 96.2h0M30.2 106.0h0M58.7 95.8h0M51.5 110.5h0M59.6 104.7h0M56.5 91.8h0M33.5 110.8h0M30.5 101.8h0M58.6 95.0h0M49.5 114.6h0M59.8 97.1h0M35.2 109.9h0M47.5 114.4h0M48.2 111.7h0M29.5 101.1h0M30.3 105.7h0M55.5 92.7h0M60.5 104.1h0M61.1 103.3h0M54.8 111.1h0M33.3 95.4h0M47.1 88.5h0M30.8 104.1h0M34.1 94.6h0M36.4 93.7h0M62.5 101.7h0M46.6 110.9h0M61.3 99.3h0M40.4 112.8h0M58.8 95.4h0M29.1 103.5h0M48.7 112.2h0M62.9 99.6h0M49.3 111.9h0M40.2 113.8h0M30.9 107.9h0M31.9 106.7h0M30.7 98.9h0M29.8 105.3h0M61.4 102.8h0M45.3 111.3h0M59.8 96.9h0M61.7 102.3h0M42.8 91.4h0M30.5 104.5h0M41.5 91.7h0M39.9 112.0h0M36.2 113.0h0M30.3 101.4h0M55.9 94.1h0M40.0 110.6h0M58.1 106.0h0M61.0 102.7h0M55.0 91.5h0M42.2 111.2h0M56.7 107.4h0M32.8 94.6h0M52.2 91.2h0M33.2 95.3h0M54.2 109.8h0M33.6 110.0h0M44.9 111.7h0M62.2 100.7h0M59.5 96.9h0M30.0 106.8h0M55.4 108.7h0M55.1 92.4h0M62.6 98.4h0M49.6 90.5h0M46.8 113.0h0M51.3 110.6h0M29.6 100.5h0M31.7 95.9h0M53.7 93.4h0M60.2 97.4h0M56.7 94.1h0M39.6 111.9h0M32.8 95.8h0M56.3 108.2h0M30.2 100.9h0M59.7 105.9h0M56.3 108.0h0M57.1 108.7h0M42.3 112.6h0M41.8 114.1h0M40.6 91.8h0M60.7 107.4h0M57.2 107.7h0M37.0 91.9h0M38.9 92.8h0M40.7 90.0h0M42.1 91.9h0M38.1 92.4h0M31.2 98.4h0M43.7 91.3h0M61.9 108.6h0M49.3 110.9h0M43.8 90.6h0M51.1 111.3h0M30.4 100.7h0M46.1 111.7h0M32.7 108.2h0M50.8 91.4h0M36.6 91.4h0M31.9 107.4h0M45.0 110.7h0M48.9 90.4h0M36.6 91.0h0M32.2 108.0h0M53.5 91.5h0M40.1 91.7h0M62.2 97.5h0M37.9 92.8h0M56.8 93.2h0M29.5 97.9h0M41.0 90.9h0M51.9 90.2h0M58.8 106.9h0M27.4 105.9h0M33.7 95.4h0M61.5 105.2h0M47.5 90.7h0M42.1 90.4h0M58.8 94.8h0M36.8 110.1h0M30.4 105.5h0M58.4 91.9h0M34.0 109.5h0M51.4 90.7h0M32.3 109.6h0M39.6 112.3h0M44.6 112.8h0M49.6 111.2h0M32.9 107.8h0M53.4 109.6h0M50.8 89.4h0M61.0 97.8h0M57.8 106.9h0M59.7 104.7h0M61.0 99.9h0M58.9 94.1h0M59.6 105.8h0M38.6 91.0h0M42.3 112.6h0M51.2 111.9h0M46.5 111.6h0M39.5 91.1h0M63.9 101.5h0M53.7 90.6h0M31.7 97.6h0M47.3 110.8h0M50.3 111.3h0M36.0 91.1h0M35.3 93.3h0M41.0 111.8h0M39.8 112.1h0M30.2 105.6h0M57.5 92.8h0M28.6 99.2h0M52.0 90.4h0M34.7 91.4h0M32.2 98.1h0M29.8 103.8h0M38.6 90.9h0M28.5 103.9h0M42.1 89.8h0M52.6 112.3h0M40.4 111.5h0M54.5 90.2h0M35.0 110.0h0M52.5 89.3h0M58.3 94.8h0M31.5 96.6h0M58.7 108.5h0M44.7 88.7h0M37.8 92.3h0M44.0 111.4h0M53.2 91.0h0M30.7 104.5h0M60.3 105.0h0M59.2 105.4h0M49.0 114.2h0M34.1 94.6h0M49.0 91.5h0M60.1 109.9h0M61.3 101.5h0M34.5 94.4h0M34.2 109.0h0M31.5 108.3h0M49.5 90.8h0M58.8 92.0h0M61.3 96.8h0M47.2 90.9h0M61.7 99.6h0M54.2 108.6h0M31.9 95.0h0M60.1 96.3h0M58.7 106.0h0M29.4 101.3h0M35.2 109.7h0M35.1 108.6h0M44.9 112.9h0M44.9 112.6h0M47.6 111.9h0M58.3 107.7h0M30.7 97.5h0M30.6 107.7h0M41.7 91.5h0M35.3 93.1h0M60.6 94.6h0M39.1 111.5h0M55.3 91.6h0M35.8 110.9h0M36.8 91.9h0M48.7 90.2h0M34.4 110.5h0M31.0 108.1h0M33.8 91.0h0M56.8 107.4h0M30.9 100.2h0M58.7 107.3h0M48.9 110.1h0M34.9 94.7h0M60.6 97.1h0M61.3 99.4h0M45.5 112.6h0M54.6 109.4h0M28.6 101.7h0M31.5 107.7h0M36.3 111.3h0M46.2 90.5h0M40.5 89.9h0M31.7 97.7h0M34.2 92.4h0M31.8 96.6h0M38.4 92.4h0M58.1 94.4h0M61.8 93.2h0M60.3 98.2h0M52.7 91.6h0M58.5 108.5h0M31.7 106.0h0M46.9 90.2h0M42.9 112.6h0M35.2 95.4h0M59.9 104.5h0M50.9 113.6h0M34.0 111.1h0M59.7 105.2h0M32.7 109.1h0M48.5 114.1h0M54.1 89.5h0M41.1 112.4h0M36.7 110.3h0M48.8 90.5h0M29.9 97.5h0M60.1 103.9h0M49.4 112.3h0M31.8 92.1h0M50.7 110.6h0M47.1 111.9h0M34.7 94.7h0M31.0 103.3h0M45.1 112.8h0M29.7 97.2h0M34.6 93.0h0M61.2 103.2h0M44.4 113.1h0M41.5 112.1h0M54.7 91.6h0M60.4 104.2h0M38.4 112.8h0M50.6 110.9h0M40.5 91.2h0M49.6 90.8h0M59.9 104.1h0M53.9 90.1h0M40.0 91.8h0M49.6 115.1h0M57.0 93.2h0M43.1 111.2h0M47.7 90.0h0M58.8 105.3h0M31.7 106.4h0M30.0 102.2h0M55.4 93.1h0M51.6 91.1h0M30.6 98.7h0M60.2 104.0h0M32.7 108.0h0M36.2 110.4h0M62.8 98.8h0M38.9 91.1h0M34.3 109.6h0M37.2 110.1h0M45.9 90.5h0M58.8 107.6h0M50.1 89.8h0M37.7 92.0h0M32.8 107.6h0M40.8 89.9h0M34.4 111.6h0M55.0 109.5h0M33.0 110.1h0M60.2 103.9h0M60.1 108.0h0M31.8 108.6h0M50.2 91.3h0M50.1 110.6h0M30.4 102.1h0M60.8 97.2h0M50.7 90.8h0M57.5 92.0h0M38.3 91.1h0M32.3 95.6h0M32.3 95.7h0M32.2 93.8h0M30.6 106.0h0M37.9 110.5h0M47.7 113.2h0M59.2 105.2h0M37.2 110.8h0M45.7 91.6h0M29.7 98.1h0M53.5 110.1h0M50.0 89.5h0M60.1 103.1h0M58.6 93.9h0M36.6 92.0h0M30.8 97.7h0M33.8 108.5h0M50.3 90.7h0M61.4 99.7h0M60.5 100.3h0M27.4 100.4h0M42.2 110.9h0M34.5 110.0h0M30.4 99.4h0M60.4 103.0h0M62.1 98.1h0M39.2 92.5h0M58.8 107.9h0M43.3 88.4h0M29.0 100.0h0M39.4 91.1h0M43.3 91.7h0M60.9 98.8h0M56.4 107.8h0M60.6 99.4h0M30.4 105.2h0M51.1 111.8h0M36.8 111.7h0M36.8 113.2h0M56.7 92.2h0M28.9 100.7h0M60.3 106.1h0M41.5 90.3h0M30.6 103.4h0M49.7 90.9h0M61.4 104.1h0M53.8 90.4h0M55.5 92.4h0M62.3 100.6h0M31.3 105.1h0M56.2 108.0h0M30.7 100.2h0M59.5 107.6h0M55.4 91.8h0M51.5 110.0h0M37.6 92.3h0M37.0 92.9h0M41.1 111.3h0M49.4 112.0h0M57.5 91.7h0M60.3 103.6h0" stroke="#000" stroke-opacity="0.45" stroke-width="0.9" stroke-linecap="round" fill="none"/>
<path d="M60.02 99.67 L60.05 100.18 L60.05 100.69 L60.00 101.20 L59.91 101.71 L59.79 102.22 L59.62 102.73 L59.42 103.23 L59.18 103.73 L58.90 104.22 L58.58 104.70 L58.23 105.17 L57.84 105.64 L57.42 106.08 L56.97 106.52 L56.48 106.94 L55.97 107.35 L55.43 107.74 L54.85 108.11 L54.26 108.46 L53.64 108.79 L53.00 109.10 L52.33 109.39 L51.65 109.66 L50.95 109.90 L50.24 110.12 L49.51 110.32 L48.77 110.49 L48.03 110.63 L47.27 110.75 L46.51 110.85 L45.75 110.91 L44.99 110.95 L44.23 110.97 L43.47 110.95 L42.72 110.91 L41.98 110.85 L41.24 110.75 L40.52 110.63 L39.81 110.49 L39.12 110.32 L38.44 110.12 L37.79 109.90 L37.15 109.66 L36.54 109.39 L35.95 109.10 L35.39 108.79 L34.85 108.46 L34.35 108.10 L33.87 107.73 L33.43 107.35 L33.02 106.94 L32.65 106.52 L32.31 106.08 L32.00 105.63 L31.74 105.17 L31.51 104.70 L31.32 104.22 L31.17 103.73 L31.05 103.23 L30.98 102.73 L30.95 102.22 L30.95 101.71 L31.00 101.20 L31.09 100.69 L31.21 100.18 L31.38 99.67 L31.58 99.17 L31.82 98.67 L32.10 98.18 L32.42 97.70 L32.77 97.23 L33.16 96.76 L33.58 96.32 L34.03 95.88 L34.52 95.46 L35.03 95.05 L35.57 94.66 L36.15 94.29 L36.74 93.94 L37.36 93.61 L38.00 93.30 L38.67 93.01 L39.35 92.74 L40.05 92.50 L40.76 92.28 L41.49 92.08 L42.23 91.91 L42.97 91.77 L43.73 91.65 L44.49 91.55 L45.25 91.49 L46.01 91.45 L46.77 91.43 L47.53 91.45 L48.28 91.49 L49.02 91.55 L49.76 91.65 L50.48 91.77 L51.19 91.91 L51.88 92.08 L52.56 92.28 L53.21 92.50 L53.85 92.74 L54.46 93.01 L55.05 93.30 L55.61 93.61 L56.15 93.94 L56.65 94.30 L57.13 94.67 L57.57 95.05 L57.98 95.46 L58.35 95.88 L58.69 96.32 L59.00 96.77 L59.26 97.23 L59.49 97.70 L59.68 98.18 L59.83 98.67 L59.95 99.17Z" fill="#d6d6d6" fill-opacity="1" stroke="#000" stroke-opacity="0.9" stroke-width="0.9" stroke-linejoin="round"/>
<path d="M59.00 99.78 L59.03 100.25 L59.03 100.73 L58.98 101.20 L58.90 101.68 L58.79 102.15 L58.63 102.62 L58.44 103.09 L58.22 103.55 L57.96 104.01 L57.67 104.46 L57.34 104.90 L56.98 105.33 L56.59 105.74 L56.17 106.15 L55.72 106.54 L55.24 106.92 L54.73 107.28 L54.20 107.62 L53.65 107.95 L53.07 108.26 L52.47 108.55 L51.85 108.82 L51.22 109.07 L50.57 109.29 L49.91 109.50 L49.23 109.68 L48.54 109.84 L47.85 109.97 L47.15 110.09 L46.44 110.17 L45.73 110.23 L45.03 110.27 L44.32 110.28 L43.61 110.27 L42.92 110.23 L42.22 110.17 L41.54 110.08 L40.87 109.97 L40.21 109.84 L39.56 109.68 L38.94 109.50 L38.33 109.29 L37.73 109.07 L37.17 108.82 L36.62 108.55 L36.10 108.26 L35.60 107.95 L35.13 107.62 L34.69 107.28 L34.28 106.91 L33.90 106.54 L33.55 106.15 L33.23 105.74 L32.95 105.32 L32.70 104.89 L32.49 104.45 L32.31 104.01 L32.17 103.55 L32.06 103.09 L32.00 102.62 L31.97 102.15 L31.97 101.67 L32.02 101.20 L32.10 100.72 L32.21 100.25 L32.37 99.78 L32.56 99.31 L32.78 98.85 L33.04 98.39 L33.33 97.94 L33.66 97.50 L34.02 97.07 L34.41 96.66 L34.83 96.25 L35.28 95.86 L35.76 95.48 L36.27 95.12 L36.80 94.78 L37.35 94.45 L37.93 94.14 L38.53 93.85 L39.15 93.58 L39.78 93.33 L40.43 93.11 L41.09 92.90 L41.77 92.72 L42.46 92.56 L43.15 92.43 L43.85 92.31 L44.56 92.23 L45.27 92.17 L45.97 92.13 L46.68 92.12 L47.39 92.13 L48.08 92.17 L48.78 92.23 L49.46 92.32 L50.13 92.43 L50.79 92.56 L51.44 92.72 L52.06 92.90 L52.67 93.11 L53.27 93.33 L53.83 93.58 L54.38 93.85 L54.90 94.14 L55.40 94.45 L55.87 94.78 L56.31 95.12 L56.72 95.49 L57.10 95.86 L57.45 96.25 L57.77 96.66 L58.05 97.08 L58.30 97.51 L58.51 97.95 L58.69 98.39 L58.83 98.85 L58.94 99.31Z" fill="none" fill-opacity="1" stroke="#fff" stroke-opacity="0.95" stroke-width="0.8" stroke-linejoin="round"/>
<path d="M59.03 99.69 L59.05 100.12 L59.05 100.54 L59.01 100.97 L58.94 101.40 L58.83 101.82 L58.69 102.25 L58.52 102.67 L58.32 103.08 L58.09 103.49 L57.83 103.89 L57.53 104.29 L57.21 104.67 L56.86 105.05 L56.48 105.41 L56.07 105.76 L55.64 106.10 L55.19 106.43 L54.71 106.74 L54.22 107.03 L53.70 107.31 L53.16 107.57 L52.61 107.81 L52.04 108.03 L51.45 108.24 L50.86 108.42 L50.25 108.58 L49.64 108.73 L49.01 108.85 L48.38 108.95 L47.75 109.02 L47.11 109.08 L46.48 109.11 L45.84 109.12 L45.21 109.11 L44.58 109.08 L43.96 109.02 L43.35 108.95 L42.74 108.85 L42.15 108.72 L41.57 108.58 L41.01 108.42 L40.46 108.23 L39.93 108.03 L39.42 107.81 L38.93 107.57 L38.46 107.31 L38.01 107.03 L37.59 106.73 L37.20 106.42 L36.83 106.10 L36.48 105.76 L36.17 105.41 L35.89 105.05 L35.63 104.67 L35.41 104.28 L35.22 103.89 L35.06 103.49 L34.93 103.08 L34.84 102.66 L34.78 102.24 L34.75 101.82 L34.76 101.39 L34.80 100.97 L34.87 100.54 L34.97 100.12 L35.11 99.69 L35.28 99.27 L35.48 98.86 L35.72 98.45 L35.98 98.05 L36.27 97.65 L36.60 97.27 L36.95 96.89 L37.33 96.53 L37.73 96.17 L38.16 95.84 L38.61 95.51 L39.09 95.20 L39.59 94.91 L40.11 94.63 L40.64 94.37 L41.20 94.13 L41.77 93.91 L42.35 93.70 L42.95 93.52 L43.55 93.35 L44.17 93.21 L44.79 93.09 L45.42 92.99 L46.06 92.91 L46.69 92.86 L47.33 92.82 L47.96 92.81 L48.60 92.82 L49.22 92.86 L49.84 92.91 L50.46 92.99 L51.06 93.09 L51.65 93.21 L52.23 93.36 L52.80 93.52 L53.34 93.70 L53.87 93.91 L54.39 94.13 L54.88 94.37 L55.35 94.63 L55.79 94.91 L56.21 95.20 L56.61 95.51 L56.98 95.84 L57.32 96.18 L57.63 96.53 L57.92 96.89 L58.17 97.27 L58.39 97.65 L58.59 98.05 L58.75 98.45 L58.87 98.86 L58.97 99.27Z" fill="none" fill-opacity="1" stroke="#222" stroke-opacity="0.85" stroke-width="0.5" stroke-linejoin="round"/>
<path d="M58.45 99.71 L58.48 100.08 L58.47 100.46 L58.44 100.84 L58.38 101.22 L58.28 101.59 L58.16 101.97 L58.01 102.34 L57.83 102.71 L57.62 103.07 L57.39 103.43 L57.13 103.78 L56.84 104.12 L56.53 104.45 L56.20 104.77 L55.84 105.09 L55.46 105.39 L55.06 105.67 L54.63 105.95 L54.19 106.21 L53.73 106.45 L53.26 106.68 L52.77 106.90 L52.26 107.10 L51.74 107.28 L51.22 107.44 L50.68 107.58 L50.13 107.71 L49.58 107.82 L49.02 107.91 L48.46 107.97 L47.90 108.02 L47.33 108.05 L46.77 108.06 L46.21 108.05 L45.65 108.02 L45.10 107.97 L44.56 107.91 L44.03 107.82 L43.50 107.71 L42.99 107.58 L42.49 107.44 L42.00 107.28 L41.53 107.09 L41.08 106.90 L40.64 106.68 L40.23 106.45 L39.83 106.21 L39.46 105.95 L39.11 105.67 L38.78 105.38 L38.48 105.08 L38.20 104.77 L37.95 104.45 L37.72 104.12 L37.53 103.77 L37.36 103.42 L37.21 103.07 L37.10 102.71 L37.02 102.34 L36.97 101.97 L36.94 101.59 L36.95 101.21 L36.98 100.83 L37.04 100.46 L37.14 100.08 L37.26 99.70 L37.41 99.33 L37.59 98.96 L37.80 98.60 L38.03 98.24 L38.29 97.90 L38.58 97.55 L38.89 97.22 L39.22 96.90 L39.58 96.59 L39.96 96.29 L40.36 96.00 L40.79 95.72 L41.23 95.46 L41.69 95.22 L42.16 94.99 L42.65 94.77 L43.16 94.58 L43.68 94.40 L44.20 94.23 L44.74 94.09 L45.29 93.96 L45.84 93.85 L46.40 93.77 L46.96 93.70 L47.52 93.65 L48.09 93.62 L48.65 93.61 L49.21 93.62 L49.77 93.65 L50.32 93.70 L50.86 93.77 L51.39 93.86 L51.92 93.96 L52.43 94.09 L52.93 94.23 L53.42 94.40 L53.89 94.58 L54.34 94.78 L54.78 94.99 L55.19 95.22 L55.59 95.47 L55.96 95.73 L56.31 96.00 L56.64 96.29 L56.94 96.59 L57.22 96.90 L57.47 97.22 L57.70 97.56 L57.89 97.90 L58.06 98.25 L58.21 98.60 L58.32 98.97 L58.40 99.33Z" fill="none" fill-opacity="1" stroke="#fff" stroke-opacity="0.85" stroke-width="0.5" stroke-linejoin="round"/>
<path d="M57.88 99.72 L57.90 100.05 L57.90 100.37 L57.87 100.70 L57.81 101.03 L57.73 101.36 L57.63 101.69 L57.50 102.01 L57.34 102.33 L57.16 102.65 L56.96 102.96 L56.73 103.27 L56.48 103.56 L56.21 103.85 L55.91 104.13 L55.60 104.41 L55.27 104.67 L54.92 104.92 L54.55 105.16 L54.17 105.39 L53.77 105.60 L53.35 105.80 L52.92 105.99 L52.48 106.16 L52.03 106.32 L51.57 106.46 L51.10 106.58 L50.63 106.69 L50.15 106.79 L49.66 106.87 L49.17 106.93 L48.68 106.97 L48.19 106.99 L47.70 107.00 L47.21 106.99 L46.73 106.97 L46.25 106.92 L45.77 106.86 L45.31 106.79 L44.85 106.69 L44.40 106.58 L43.97 106.46 L43.54 106.32 L43.13 106.16 L42.74 105.99 L42.36 105.80 L42.00 105.60 L41.65 105.38 L41.33 105.16 L41.02 104.92 L40.73 104.67 L40.47 104.40 L40.23 104.13 L40.01 103.85 L39.81 103.56 L39.64 103.26 L39.49 102.96 L39.37 102.65 L39.27 102.33 L39.20 102.01 L39.15 101.69 L39.13 101.36 L39.14 101.03 L39.17 100.70 L39.22 100.37 L39.30 100.04 L39.41 99.72 L39.54 99.39 L39.70 99.07 L39.88 98.76 L40.08 98.44 L40.31 98.14 L40.56 97.84 L40.83 97.55 L41.12 97.27 L41.43 97.00 L41.76 96.74 L42.12 96.49 L42.48 96.25 L42.87 96.02 L43.27 95.81 L43.68 95.61 L44.11 95.42 L44.55 95.25 L45.00 95.09 L45.46 94.95 L45.93 94.82 L46.41 94.71 L46.89 94.62 L47.37 94.54 L47.86 94.48 L48.35 94.44 L48.85 94.41 L49.34 94.40 L49.82 94.41 L50.31 94.44 L50.79 94.48 L51.26 94.54 L51.73 94.62 L52.19 94.71 L52.63 94.82 L53.07 94.95 L53.49 95.09 L53.90 95.25 L54.30 95.42 L54.68 95.61 L55.04 95.81 L55.38 96.02 L55.71 96.25 L56.02 96.49 L56.30 96.74 L56.57 97.00 L56.81 97.27 L57.03 97.55 L57.22 97.84 L57.39 98.14 L57.54 98.45 L57.67 98.76 L57.76 99.07 L57.84 99.39Z" fill="none" fill-opacity="1" stroke="#222" stroke-opacity="0.85" stroke-width="0.5" stroke-linejoin="round"/>
<path d="M57.31 99.73 L57.33 100.01 L57.33 100.29 L57.30 100.57 L57.25 100.85 L57.18 101.13 L57.09 101.41 L56.98 101.69 L56.85 101.96 L56.69 102.23 L56.52 102.50 L56.33 102.76 L56.11 103.01 L55.88 103.26 L55.63 103.50 L55.37 103.73 L55.08 103.95 L54.78 104.17 L54.47 104.37 L54.14 104.56 L53.80 104.75 L53.45 104.92 L53.08 105.08 L52.71 105.22 L52.32 105.36 L51.93 105.48 L51.53 105.59 L51.13 105.68 L50.71 105.76 L50.30 105.82 L49.88 105.88 L49.46 105.91 L49.04 105.93 L48.63 105.94 L48.21 105.93 L47.80 105.91 L47.39 105.88 L46.98 105.82 L46.59 105.76 L46.20 105.68 L45.81 105.58 L45.44 105.48 L45.08 105.36 L44.73 105.22 L44.40 105.07 L44.07 104.92 L43.76 104.74 L43.47 104.56 L43.19 104.37 L42.93 104.16 L42.69 103.95 L42.46 103.73 L42.26 103.49 L42.07 103.26 L41.90 103.01 L41.76 102.75 L41.63 102.49 L41.52 102.23 L41.44 101.96 L41.38 101.69 L41.34 101.41 L41.32 101.13 L41.32 100.85 L41.35 100.57 L41.40 100.29 L41.47 100.01 L41.56 99.73 L41.67 99.45 L41.80 99.18 L41.96 98.91 L42.13 98.64 L42.32 98.38 L42.54 98.13 L42.77 97.88 L43.02 97.64 L43.28 97.41 L43.57 97.19 L43.87 96.97 L44.18 96.77 L44.51 96.58 L44.85 96.39 L45.20 96.22 L45.57 96.06 L45.94 95.92 L46.33 95.78 L46.72 95.66 L47.12 95.55 L47.52 95.46 L47.94 95.38 L48.35 95.32 L48.77 95.26 L49.19 95.23 L49.61 95.21 L50.02 95.20 L50.44 95.21 L50.85 95.23 L51.26 95.26 L51.67 95.32 L52.06 95.38 L52.45 95.46 L52.84 95.56 L53.21 95.66 L53.57 95.78 L53.92 95.92 L54.25 96.07 L54.58 96.22 L54.89 96.40 L55.18 96.58 L55.46 96.77 L55.72 96.98 L55.96 97.19 L56.19 97.41 L56.39 97.65 L56.58 97.88 L56.75 98.13 L56.89 98.39 L57.02 98.65 L57.13 98.91 L57.21 99.18 L57.27 99.45Z" fill="none" fill-opacity="1" stroke="#222" stroke-opacity="0.85" stroke-width="0.5" stroke-linejoin="round"/>
<path d="M56.74 99.74 L56.75 99.97 L56.75 100.21 L56.73 100.44 L56.69 100.67 L56.63 100.90 L56.56 101.13 L56.47 101.36 L56.36 101.59 L56.23 101.81 L56.08 102.03 L55.92 102.25 L55.75 102.46 L55.56 102.66 L55.35 102.86 L55.13 103.05 L54.90 103.23 L54.65 103.41 L54.39 103.58 L54.12 103.74 L53.84 103.89 L53.54 104.03 L53.24 104.16 L52.93 104.29 L52.61 104.40 L52.29 104.50 L51.96 104.59 L51.62 104.66 L51.28 104.73 L50.94 104.78 L50.59 104.83 L50.25 104.86 L49.90 104.87 L49.55 104.88 L49.21 104.87 L48.87 104.86 L48.53 104.83 L48.20 104.78 L47.87 104.73 L47.54 104.66 L47.23 104.59 L46.92 104.50 L46.62 104.40 L46.33 104.29 L46.05 104.16 L45.79 104.03 L45.53 103.89 L45.29 103.74 L45.06 103.58 L44.84 103.41 L44.64 103.23 L44.46 103.05 L44.28 102.86 L44.13 102.66 L43.99 102.45 L43.87 102.24 L43.77 102.03 L43.68 101.81 L43.61 101.59 L43.56 101.36 L43.53 101.13 L43.51 100.90 L43.51 100.67 L43.54 100.44 L43.57 100.20 L43.63 99.97 L43.71 99.74 L43.80 99.51 L43.91 99.29 L44.04 99.06 L44.18 98.84 L44.34 98.63 L44.52 98.42 L44.71 98.21 L44.91 98.02 L45.13 97.82 L45.37 97.64 L45.62 97.46 L45.88 97.29 L46.15 97.13 L46.43 96.98 L46.72 96.84 L47.02 96.71 L47.33 96.59 L47.65 96.48 L47.98 96.38 L48.31 96.29 L48.64 96.21 L48.98 96.14 L49.33 96.09 L49.67 96.05 L50.02 96.02 L50.36 96.00 L50.71 95.99 L51.05 96.00 L51.40 96.02 L51.74 96.05 L52.07 96.09 L52.40 96.14 L52.72 96.21 L53.04 96.29 L53.34 96.38 L53.64 96.48 L53.93 96.59 L54.21 96.71 L54.48 96.84 L54.73 96.98 L54.98 97.14 L55.21 97.30 L55.42 97.46 L55.62 97.64 L55.81 97.83 L55.98 98.02 L56.13 98.22 L56.27 98.42 L56.39 98.63 L56.50 98.85 L56.59 99.06 L56.65 99.29 L56.71 99.51Z" fill="none" fill-opacity="1" stroke="#fff" stroke-opacity="0.85" stroke-width="0.5" stroke-linejoin="round"/>
<path d="M56.17 99.75 L56.18 99.94 L56.18 100.12 L56.16 100.30 L56.13 100.49 L56.08 100.67 L56.02 100.85 L55.95 101.04 L55.86 101.21 L55.76 101.39 L55.65 101.56 L55.52 101.73 L55.38 101.90 L55.23 102.06 L55.07 102.22 L54.89 102.37 L54.71 102.52 L54.51 102.66 L54.31 102.79 L54.09 102.92 L53.87 103.04 L53.64 103.15 L53.40 103.25 L53.15 103.35 L52.90 103.44 L52.65 103.52 L52.38 103.59 L52.12 103.65 L51.85 103.70 L51.58 103.74 L51.31 103.78 L51.03 103.80 L50.76 103.82 L50.48 103.82 L50.21 103.82 L49.94 103.80 L49.67 103.78 L49.41 103.74 L49.15 103.70 L48.89 103.65 L48.64 103.59 L48.40 103.52 L48.16 103.44 L47.93 103.35 L47.71 103.25 L47.50 103.15 L47.30 103.04 L47.11 102.92 L46.93 102.79 L46.75 102.66 L46.60 102.52 L46.45 102.37 L46.31 102.22 L46.19 102.06 L46.08 101.90 L45.99 101.73 L45.90 101.56 L45.83 101.39 L45.78 101.21 L45.74 101.03 L45.71 100.85 L45.70 100.67 L45.70 100.49 L45.72 100.30 L45.75 100.12 L45.80 99.94 L45.86 99.75 L45.93 99.57 L46.02 99.39 L46.12 99.22 L46.23 99.04 L46.36 98.87 L46.50 98.71 L46.65 98.55 L46.81 98.39 L46.99 98.24 L47.17 98.09 L47.37 97.95 L47.57 97.82 L47.79 97.69 L48.01 97.57 L48.24 97.46 L48.48 97.35 L48.73 97.26 L48.98 97.17 L49.23 97.09 L49.50 97.02 L49.76 96.96 L50.03 96.91 L50.30 96.86 L50.57 96.83 L50.85 96.81 L51.12 96.79 L51.40 96.79 L51.67 96.79 L51.94 96.81 L52.21 96.83 L52.47 96.86 L52.73 96.91 L52.99 96.96 L53.24 97.02 L53.48 97.09 L53.72 97.17 L53.95 97.26 L54.17 97.36 L54.38 97.46 L54.58 97.57 L54.77 97.69 L54.95 97.82 L55.13 97.95 L55.28 98.09 L55.43 98.24 L55.57 98.39 L55.69 98.55 L55.80 98.71 L55.89 98.87 L55.98 99.04 L56.05 99.22 L56.10 99.39 L56.14 99.57Z" fill="none" fill-opacity="1" stroke="#222" stroke-opacity="0.85" stroke-width="0.5" stroke-linejoin="round"/>
<path d="M55.60 99.77 L55.60 99.90 L55.60 100.04 L55.59 100.17 L55.57 100.31 L55.53 100.44 L55.49 100.58 L55.44 100.71 L55.37 100.84 L55.30 100.97 L55.21 101.10 L55.12 101.22 L55.02 101.35 L54.91 101.47 L54.79 101.58 L54.66 101.69 L54.52 101.80 L54.38 101.90 L54.23 102.00 L54.07 102.09 L53.90 102.18 L53.73 102.27 L53.56 102.34 L53.38 102.41 L53.19 102.48 L53.00 102.54 L52.81 102.59 L52.61 102.63 L52.42 102.67 L52.22 102.70 L52.02 102.73 L51.81 102.75 L51.61 102.76 L51.41 102.76 L51.21 102.76 L51.01 102.74 L50.81 102.73 L50.62 102.70 L50.43 102.67 L50.24 102.63 L50.06 102.59 L49.88 102.54 L49.70 102.48 L49.53 102.41 L49.37 102.34 L49.22 102.26 L49.07 102.18 L48.93 102.09 L48.79 102.00 L48.67 101.90 L48.55 101.80 L48.44 101.69 L48.34 101.58 L48.25 101.46 L48.17 101.35 L48.10 101.22 L48.04 101.10 L47.99 100.97 L47.95 100.84 L47.92 100.71 L47.90 100.58 L47.89 100.44 L47.89 100.31 L47.91 100.17 L47.93 100.04 L47.96 99.90 L48.00 99.77 L48.06 99.63 L48.12 99.50 L48.20 99.37 L48.28 99.24 L48.37 99.12 L48.48 99.00 L48.59 98.88 L48.71 98.76 L48.84 98.65 L48.97 98.54 L49.12 98.44 L49.27 98.34 L49.43 98.25 L49.59 98.16 L49.76 98.08 L49.94 98.00 L50.12 97.93 L50.30 97.86 L50.49 97.81 L50.68 97.75 L50.88 97.71 L51.08 97.67 L51.28 97.64 L51.48 97.61 L51.68 97.60 L51.88 97.59 L52.08 97.58 L52.28 97.59 L52.48 97.60 L52.68 97.61 L52.88 97.64 L53.07 97.67 L53.25 97.71 L53.44 97.75 L53.62 97.81 L53.79 97.87 L53.96 97.93 L54.12 98.00 L54.28 98.08 L54.43 98.16 L54.57 98.25 L54.70 98.34 L54.83 98.44 L54.95 98.54 L55.05 98.65 L55.15 98.76 L55.24 98.88 L55.32 99.00 L55.39 99.12 L55.46 99.24 L55.51 99.37 L55.55 99.50 L55.58 99.63Z" fill="none" fill-opacity="1" stroke="#222" stroke-opacity="0.85" stroke-width="0.5" stroke-linejoin="round"/>
<path d="M55.02 99.78 L55.03 99.86 L55.03 99.95 L55.02 100.04 L55.01 100.13 L54.98 100.21 L54.96 100.30 L54.92 100.38 L54.88 100.47 L54.83 100.55 L54.78 100.63 L54.72 100.71 L54.65 100.79 L54.58 100.87 L54.50 100.94 L54.42 101.01 L54.33 101.08 L54.24 101.15 L54.15 101.21 L54.04 101.27 L53.94 101.33 L53.83 101.38 L53.72 101.43 L53.60 101.48 L53.48 101.52 L53.36 101.55 L53.24 101.59 L53.11 101.62 L52.98 101.64 L52.86 101.66 L52.73 101.68 L52.60 101.69 L52.47 101.70 L52.34 101.70 L52.21 101.70 L52.08 101.69 L51.96 101.68 L51.83 101.66 L51.71 101.64 L51.59 101.62 L51.47 101.59 L51.36 101.55 L51.24 101.52 L51.14 101.48 L51.03 101.43 L50.93 101.38 L50.84 101.33 L50.75 101.27 L50.66 101.21 L50.58 101.15 L50.50 101.08 L50.43 101.01 L50.37 100.94 L50.31 100.87 L50.26 100.79 L50.22 100.71 L50.18 100.63 L50.14 100.55 L50.12 100.47 L50.10 100.38 L50.09 100.30 L50.08 100.21 L50.08 100.12 L50.09 100.04 L50.10 99.95 L50.13 99.86 L50.15 99.78 L50.19 99.69 L50.23 99.61 L50.28 99.52 L50.33 99.44 L50.39 99.36 L50.46 99.28 L50.53 99.21 L50.61 99.13 L50.69 99.06 L50.78 98.99 L50.87 98.93 L50.96 98.86 L51.07 98.80 L51.17 98.75 L51.28 98.69 L51.39 98.65 L51.51 98.60 L51.63 98.56 L51.75 98.52 L51.87 98.49 L52.00 98.46 L52.13 98.43 L52.25 98.41 L52.38 98.40 L52.51 98.39 L52.64 98.38 L52.77 98.38 L52.90 98.38 L53.03 98.39 L53.15 98.40 L53.28 98.41 L53.40 98.43 L53.52 98.46 L53.64 98.49 L53.75 98.52 L53.87 98.56 L53.97 98.60 L54.08 98.65 L54.18 98.69 L54.27 98.75 L54.36 98.80 L54.45 98.86 L54.53 98.93 L54.61 98.99 L54.68 99.06 L54.74 99.13 L54.80 99.21 L54.85 99.28 L54.89 99.36 L54.93 99.44 L54.97 99.53 L54.99 99.61 L55.01 99.69Z" fill="none" fill-opacity="1" stroke="#fff" stroke-opacity="0.85" stroke-width="0.5" stroke-linejoin="round"/>
<ellipse cx="47" cy="100.6" rx="3" ry="1.8" fill="#fff" fill-opacity="0.8" transform="rotate(-10 47 100.6)"/>
<path d="M99.0 113.7h0M78.0 109.8h0M94.3 118.3h0M84.8 91.5h0M88.0 89.5h0M89.5 88.0h0M80.4 114.7h0M82.2 96.4h0M93.4 118.2h0M80.4 98.7h0M89.0 89.9h0M90.7 118.7h0M86.8 88.3h0M79.9 112.9h0M95.3 91.0h0M87.8 89.8h0M80.4 108.7h0M79.9 112.1h0M79.9 104.4h0M82.1 115.5h0M99.7 93.0h0M84.9 91.6h0M78.8 113.0h0M79.4 103.3h0M100.4 96.2h0M100.6 110.4h0M80.4 115.7h0M77.9 106.2h0M80.1 111.2h0M99.8 113.2h0M95.6 119.2h0M80.3 100.4h0M88.5 88.4h0M88.4 89.5h0M85.0 91.8h0M85.6 91.7h0M102.6 105.0h0M92.1 117.1h0M82.9 115.7h0M88.9 119.1h0M79.7 113.2h0M80.5 111.0h0M83.4 114.9h0M98.2 94.9h0M100.6 101.1h0M81.7 94.4h0M88.0 118.3h0M78.7 107.7h0M81.0 95.4h0M86.6 89.4h0M86.5 89.1h0M101.9 103.5h0M85.2 92.7h0M78.2 102.8h0M102.5 97.6h0M98.9 115.3h0M100.8 108.5h0M100.5 108.6h0M100.0 110.4h0M96.9 117.2h0M93.3 88.3h0M80.8 95.9h0M89.9 89.1h0M81.1 99.1h0M81.0 115.9h0M94.5 89.2h0M95.2 116.5h0M81.7 114.2h0M80.1 110.4h0M84.5 89.4h0M92.1 89.1h0M80.5 98.4h0M80.7 93.9h0M87.0 118.3h0M81.5 96.1h0M99.5 91.5h0M78.4 109.0h0M90.9 89.1h0M79.4 102.9h0M79.7 102.5h0M82.2 95.7h0M98.4 115.4h0M92.3 118.6h0M80.4 100.9h0M83.6 89.5h0M87.7 89.7h0M92.6 118.0h0M82.6 117.0h0M98.6 116.9h0M83.4 91.8h0M79.1 109.9h0M87.7 119.9h0M91.9 117.8h0M101.8 100.2h0M76.5 103.9h0M82.8 118.3h0M91.8 118.2h0M88.9 90.0h0M98.1 94.1h0M81.7 97.0h0M100.1 97.3h0M102.7 100.2h0M79.2 109.0h0M95.5 118.2h0M79.1 108.1h0M78.7 107.9h0M89.9 118.5h0M78.5 105.2h0M91.6 89.3h0M79.1 105.2h0M78.2 101.5h0M93.5 117.5h0M84.4 93.1h0M89.8 118.4h0M78.9 97.2h0M81.1 97.8h0M91.0 89.1h0M100.6 99.2h0M100.8 98.6h0M79.3 103.0h0M88.5 118.5h0M90.2 118.2h0M94.8 89.7h0M92.2 85.8h0M94.8 90.3h0M97.2 92.3h0M80.1 98.2h0M99.4 96.8h0M84.5 92.6h0M83.1 93.5h0M98.5 91.5h0M84.8 92.6h0M93.3 87.1h0M101.2 98.8h0M79.2 112.1h0M91.3 89.0h0M85.2 117.4h0M79.6 105.0h0M99.3 95.0h0M101.0 100.6h0M92.5 88.3h0M98.1 93.4h0M82.9 95.8h0M89.8 120.9h0M101.4 105.9h0M91.9 87.4h0M91.8 87.9h0M89.5 87.5h0M79.3 96.3h0M84.2 91.9h0M88.4 89.3h0M79.2 101.0h0M84.7 91.8h0M91.7 118.4h0M79.3 101.0h0M83.4 94.0h0M81.1 98.7h0M88.8 120.5h0M82.2 90.4h0M102.3 115.2h0M96.1 88.7h0M93.2 88.6h0M82.0 114.7h0M91.7 117.6h0M85.1 90.8h0M93.0 89.5h0M82.3 114.8h0M79.7 106.0h0M85.1 93.3h0M85.7 117.8h0M80.7 112.4h0M80.5 98.7h0M84.4 118.7h0M98.5 113.5h0M98.6 92.3h0M79.1 107.5h0M102.3 92.2h0M80.6 98.8h0M82.0 114.5h0M84.6 118.4h0M100.3 96.5h0M100.9 108.0h0M100.8 92.8h0M85.5 91.6h0M86.6 118.3h0M79.5 101.5h0M95.4 89.9h0M84.0 119.6h0M79.9 104.8h0M88.8 89.1h0M101.9 105.4h0M101.3 92.7h0M97.5 92.9h0M93.3 118.2h0M92.1 117.7h0M97.3 91.9h0M79.4 102.1h0M90.1 118.7h0M102.0 105.9h0M92.2 119.2h0M85.5 91.8h0M89.8 87.2h0M81.9 115.1h0M101.1 98.1h0M79.9 102.6h0M78.6 102.0h0M80.4 111.8h0M79.7 111.1h0M81.3 114.7h0M96.8 92.1h0M77.9 108.6h0M91.2 118.4h0M80.0 108.4h0M102.2 98.2h0M83.9 94.3h0M100.8 112.9h0M79.0 110.0h0M79.3 106.2h0M101.6 105.8h0M101.1 113.0h0M79.1 99.0h0M84.1 117.9h0M92.5 118.8h0M86.7 120.4h0M86.7 90.2h0M80.5 114.4h0M87.5 90.4h0M97.4 90.6h0M82.0 98.3h0M82.7 115.0h0M84.4 92.5h0M84.6 90.2h0M94.2 88.9h0M97.8 115.4h0M98.2 95.6h0M79.3 94.7h0M88.0 89.1h0M103.3 109.6h0M83.2 94.2h0M80.3 99.8h0M86.4 84.2h0M102.7 96.5h0M102.7 99.7h0M92.8 89.3h0M83.8 118.2h0M101.6 103.2h0M82.6 95.2h0M88.4 89.3h0M83.7 91.0h0M93.2 118.4h0M98.5 93.6h0M84.6 92.6h0M92.3 119.1h0M80.7 113.5h0M79.6 109.1h0M81.2 112.4h0M80.9 112.2h0M96.8 89.2h0M101.8 112.0h0M90.9 86.8h0M97.7 114.6h0M82.1 95.1h0M97.4 90.5h0M80.3 98.6h0M100.7 111.1h0M93.6 118.7h0M80.0 100.0h0M100.6 100.7h0M81.7 90.0h0M86.0 88.2h0M82.5 97.2h0M84.2 116.3h0M81.4 94.7h0M76.2 111.2h0M96.7 90.2h0M93.3 118.8h0M84.8 92.8h0M88.5 88.2h0M97.4 116.6h0M98.5 93.2h0M90.4 119.1h0M82.5 116.0h0M82.0 95.0h0M96.4 92.3h0M79.6 104.6h0M94.0 118.2h0M81.8 95.1h0M82.0 96.9h0M81.6 112.4h0M101.3 98.7h0M77.6 100.9h0M94.8 117.2h0M83.6 92.7h0M79.3 106.7h0M76.5 103.8h0M96.1 118.3h0M79.5 116.2h0M82.5 114.9h0M92.9 118.4h0M82.0 93.4h0M103.2 99.9h0M96.7 116.3h0M76.3 106.1h0M89.5 118.7h0M87.4 89.0h0M89.1 118.8h0M95.4 117.7h0M87.6 118.7h0M98.2 114.7h0M87.7 86.7h0M87.4 118.3h0M79.7 111.7h0M87.1 118.5h0M81.3 113.1h0M85.4 116.9h0M81.7 115.3h0M88.0 89.3h0M86.0 91.2h0M81.3 116.0h0M100.7 114.5h0M87.8 119.6h0M99.3 93.8h0M102.7 112.1h0M92.7 118.9h0M88.3 119.8h0M99.0 91.6h0M100.7 100.9h0M81.6 98.5h0M93.5 87.9h0M80.8 99.2h0M79.0 103.2h0M79.0 108.5h0M88.6 118.8h0M102.0 104.2h0M77.3 111.6h0M83.2 93.0h0M82.0 97.5h0M101.4 101.5h0M89.9 118.8h0M96.9 115.8h0M77.6 103.0h0M82.7 92.8h0M82.4 94.1h0M93.4 89.9h0M98.1 92.8h0M86.7 89.6h0M98.0 92.2h0M99.1 92.9h0M100.8 104.8h0M94.0 88.4h0M83.2 92.4h0M91.9 88.3h0M80.2 97.3h0M98.9 113.5h0M98.6 95.1h0M82.0 96.5h0M78.9 106.9h0M94.1 119.6h0M96.1 118.1h0M99.1 96.5h0M96.2 91.5h0M92.9 119.7h0M97.2 90.1h0M78.8 111.1h0M82.1 93.9h0M82.2 95.1h0M78.8 112.3h0M78.3 101.4h0M84.5 93.2h0M96.8 92.3h0M93.6 119.3h0M91.7 119.1h0M80.2 112.5h0M93.2 88.8h0M79.3 102.4h0M83.6 118.6h0M94.0 86.4h0M94.0 118.9h0M88.1 89.5h0M92.0 87.4h0M100.2 113.3h0M81.1 98.6h0M81.1 96.2h0M85.9 117.2h0M79.2 107.0h0M101.9 99.6h0M81.8 113.7h0M82.9 115.6h0M80.6 111.8h0M89.9 118.5h0M93.4 119.0h0M87.3 90.4h0M83.3 93.1h0M90.5 117.7h0M77.7 103.6h0M86.2 118.1h0M96.9 93.2h0M81.5 114.5h0M82.5 94.6h0M100.6 97.4h0M91.0 118.7h0M77.8 104.2h0M83.4 92.8h0M87.5 118.9h0M86.3 89.8h0M89.6 89.2h0M81.8 97.0h0M100.0 93.6h0M77.9 105.6h0M102.4 96.6h0M80.3 98.1h0M82.2 95.1h0M80.7 95.5h0M86.3 118.3h0M84.3 92.5h0M99.0 93.3h0M84.3 91.0h0M96.7 91.1h0M84.0 115.3h0M79.6 110.7h0M95.8 116.5h0M84.5 117.3h0M90.5 118.5h0M94.9 117.4h0M85.6 89.2h0M82.8 96.2h0M96.5 91.6h0M90.9 121.5h0M92.9 88.8h0M80.1 98.4h0M101.9 102.1h0M80.0 102.6h0M100.8 106.7h0M84.3 117.5h0M86.5 90.2h0M81.0 98.4h0M86.6 91.2h0M104.1 106.3h0M90.5 118.2h0M79.6 98.7h0M84.4 92.9h0M79.7 109.2h0M92.8 120.1h0M85.0 117.7h0M92.7 87.6h0M88.9 88.2h0M89.8 118.7h0M103.9 100.1h0M101.3 108.2h0M90.8 119.9h0M79.2 108.3h0M95.4 90.7h0M78.9 98.0h0M85.0 90.3h0M81.0 113.9h0M95.0 116.9h0M79.6 110.5h0M80.4 98.2h0M99.4 116.2h0M89.1 89.2h0M81.1 113.0h0M78.2 107.3h0M97.9 91.6h0M78.4 117.1h0M100.4 100.8h0M86.7 88.5h0M98.4 116.5h0M79.1 107.5h0M101.8 105.3h0M79.6 110.6h0M78.8 101.7h0M95.1 90.2h0M83.9 116.3h0M84.0 93.0h0M84.3 91.6h0M80.2 101.9h0M83.0 95.5h0M77.3 106.6h0M82.7 95.6h0M79.7 106.9h0M100.1 97.4h0M98.6 113.0h0M98.8 94.5h0M91.1 88.1h0M88.0 87.7h0M80.9 115.0h0M79.7 103.0h0M78.0 101.5h0M89.8 88.9h0M78.9 104.8h0M83.4 93.4h0M92.0 118.2h0M100.6 110.5h0M84.8 90.7h0M78.8 113.3h0M84.9 92.5h0M88.1 118.3h0M86.4 90.1h0M77.4 109.2h0M96.0 88.6h0M87.5 118.4h0M82.6 116.1h0M82.8 94.7h0M100.6 113.5h0M82.3 95.8h0M103.5 102.3h0M88.4 89.6h0M93.2 117.3h0M100.9 111.4h0M80.0 108.3h0M79.2 106.2h0M78.3 98.4h0M78.7 106.9h0M93.7 117.5h0M84.6 88.9h0M88.1 117.8h0M85.5 118.6h0M95.7 86.4h0M85.3 90.0h0M89.6 89.6h0M102.6 97.4h0M98.7 93.5h0M92.4 119.8h0M78.7 102.0h0M80.8 98.8h0M87.1 118.8h0M80.0 112.4h0M80.8 99.0h0M100.9 107.4h0M88.7 89.0h0M82.0 115.1h0M86.1 89.9h0M89.5 89.3h0M79.9 93.3h0M103.1 111.7h0M79.3 98.1h0M81.7 115.5h0M87.5 88.2h0M87.4 88.6h0M79.4 103.3h0M89.6 88.2h0M98.2 116.0h0M95.9 91.2h0M101.7 102.1h0M96.3 91.2h0M78.5 111.4h0M80.3 98.9h0M93.0 119.2h0M79.2 100.1h0M98.2 94.1h0M86.0 90.9h0M98.1 91.6h0M101.7 98.3h0M78.0 103.0h0" stroke="#000" stroke-opacity="0.5" stroke-width="0.9" stroke-linecap="round" fill="none"/>
<path d="M100.64 104.67 L100.64 105.40 L100.60 106.13 L100.54 106.86 L100.45 107.57 L100.33 108.28 L100.17 108.97 L99.99 109.64 L99.77 110.30 L99.53 110.94 L99.26 111.56 L98.95 112.16 L98.62 112.73 L98.26 113.27 L97.87 113.79 L97.45 114.28 L97.01 114.75 L96.54 115.17 L96.05 115.57 L95.54 115.94 L95.01 116.26 L94.46 116.56 L93.89 116.82 L93.31 117.04 L92.72 117.22 L92.12 117.37 L91.51 117.48 L90.89 117.55 L90.27 117.58 L89.65 117.57 L89.04 117.52 L88.42 117.44 L87.82 117.32 L87.22 117.16 L86.63 116.96 L86.06 116.73 L85.50 116.46 L84.96 116.16 L84.43 115.82 L83.93 115.45 L83.46 115.05 L83.01 114.62 L82.58 114.16 L82.19 113.67 L81.82 113.15 L81.48 112.61 L81.18 112.04 L80.90 111.45 L80.66 110.84 L80.45 110.21 L80.28 109.56 L80.14 108.90 L80.03 108.23 L79.96 107.54 L79.92 106.84 L79.92 106.13 L79.94 105.42 L80.00 104.70 L80.09 103.98 L80.21 103.26 L80.36 102.53 L80.53 101.82 L80.73 101.10 L80.96 100.40 L81.21 99.70 L81.49 99.01 L81.78 98.33 L82.10 97.67 L82.43 97.03 L82.78 96.40 L83.15 95.79 L83.53 95.20 L83.93 94.63 L84.33 94.09 L84.75 93.58 L85.17 93.09 L85.61 92.62 L86.05 92.19 L86.49 91.79 L86.94 91.42 L87.40 91.08 L87.86 90.78 L88.31 90.51 L88.77 90.28 L89.23 90.08 L89.69 89.92 L90.15 89.79 L90.61 89.71 L91.06 89.66 L91.52 89.65 L91.96 89.68 L92.41 89.74 L92.85 89.85 L93.28 89.99 L93.71 90.17 L94.13 90.38 L94.55 90.64 L94.96 90.93 L95.36 91.25 L95.75 91.61 L96.14 92.00 L96.51 92.43 L96.87 92.88 L97.23 93.37 L97.57 93.88 L97.90 94.42 L98.21 94.99 L98.51 95.58 L98.80 96.20 L99.06 96.83 L99.31 97.49 L99.55 98.16 L99.76 98.85 L99.95 99.55 L100.12 100.26 L100.27 100.98 L100.40 101.71 L100.50 102.45 L100.57 103.19 L100.62 103.93Z" fill="#bdbdbd" fill-opacity="1" stroke="#000" stroke-opacity="0.9" stroke-width="0.9" stroke-linejoin="round"/>
<path d="M99.93 104.59 L99.93 105.28 L99.90 105.96 L99.84 106.63 L99.75 107.29 L99.64 107.95 L99.50 108.59 L99.32 109.22 L99.13 109.83 L98.90 110.43 L98.64 111.00 L98.36 111.56 L98.05 112.09 L97.71 112.60 L97.35 113.08 L96.96 113.54 L96.55 113.97 L96.12 114.36 L95.66 114.73 L95.19 115.07 L94.69 115.38 L94.18 115.65 L93.65 115.89 L93.12 116.10 L92.56 116.27 L92.00 116.40 L91.44 116.50 L90.86 116.57 L90.29 116.60 L89.71 116.59 L89.14 116.55 L88.57 116.47 L88.00 116.36 L87.45 116.21 L86.90 116.03 L86.37 115.81 L85.85 115.56 L85.34 115.28 L84.86 114.97 L84.39 114.62 L83.95 114.25 L83.53 113.85 L83.14 113.42 L82.77 112.96 L82.43 112.48 L82.11 111.98 L81.83 111.45 L81.57 110.90 L81.35 110.33 L81.16 109.75 L81.00 109.15 L80.87 108.53 L80.77 107.90 L80.70 107.26 L80.66 106.61 L80.66 105.95 L80.68 105.29 L80.74 104.62 L80.82 103.95 L80.93 103.28 L81.07 102.61 L81.23 101.94 L81.42 101.28 L81.63 100.62 L81.86 99.97 L82.12 99.33 L82.39 98.70 L82.69 98.09 L83.00 97.49 L83.32 96.90 L83.66 96.34 L84.02 95.79 L84.39 95.26 L84.76 94.76 L85.15 94.28 L85.55 93.82 L85.95 93.39 L86.36 92.99 L86.77 92.62 L87.19 92.27 L87.62 91.96 L88.04 91.68 L88.47 91.43 L88.89 91.21 L89.32 91.03 L89.75 90.88 L90.18 90.76 L90.60 90.68 L91.02 90.64 L91.44 90.63 L91.86 90.65 L92.27 90.71 L92.68 90.81 L93.09 90.94 L93.49 91.11 L93.88 91.31 L94.27 91.54 L94.65 91.81 L95.02 92.12 L95.39 92.45 L95.74 92.81 L96.09 93.21 L96.43 93.63 L96.76 94.08 L97.07 94.56 L97.38 95.07 L97.67 95.59 L97.95 96.14 L98.21 96.72 L98.46 97.31 L98.70 97.92 L98.91 98.54 L99.11 99.18 L99.29 99.83 L99.45 100.50 L99.59 101.17 L99.70 101.85 L99.80 102.53 L99.87 103.22 L99.91 103.90Z" fill="none" fill-opacity="1" stroke="#fff" stroke-opacity="0.95" stroke-width="0.8" stroke-linejoin="round"/>
<path d="M98.73 105.05 L98.72 105.65 L98.70 106.25 L98.64 106.85 L98.57 107.43 L98.47 108.01 L98.34 108.58 L98.19 109.13 L98.02 109.67 L97.82 110.19 L97.59 110.70 L97.34 111.19 L97.07 111.66 L96.77 112.11 L96.45 112.53 L96.11 112.94 L95.75 113.32 L95.36 113.67 L94.96 113.99 L94.54 114.29 L94.11 114.56 L93.66 114.80 L93.19 115.01 L92.72 115.19 L92.23 115.35 L91.74 115.47 L91.24 115.55 L90.73 115.61 L90.22 115.64 L89.72 115.63 L89.21 115.59 L88.71 115.52 L88.21 115.42 L87.72 115.29 L87.24 115.13 L86.77 114.94 L86.31 114.72 L85.86 114.47 L85.44 114.20 L85.03 113.90 L84.64 113.57 L84.27 113.21 L83.92 112.83 L83.59 112.43 L83.29 112.01 L83.01 111.56 L82.76 111.10 L82.54 110.61 L82.34 110.11 L82.17 109.60 L82.03 109.07 L81.92 108.52 L81.83 107.97 L81.77 107.40 L81.74 106.83 L81.73 106.25 L81.75 105.67 L81.80 105.08 L81.87 104.49 L81.97 103.89 L82.09 103.30 L82.24 102.71 L82.40 102.13 L82.59 101.55 L82.79 100.98 L83.02 100.41 L83.26 99.86 L83.52 99.32 L83.79 98.79 L84.08 98.27 L84.38 97.77 L84.70 97.29 L85.02 96.82 L85.35 96.38 L85.69 95.96 L86.04 95.55 L86.40 95.18 L86.76 94.82 L87.12 94.49 L87.49 94.19 L87.87 93.91 L88.24 93.66 L88.62 93.44 L88.99 93.25 L89.37 93.09 L89.75 92.96 L90.12 92.86 L90.50 92.78 L90.87 92.74 L91.24 92.74 L91.61 92.76 L91.97 92.81 L92.33 92.90 L92.69 93.01 L93.04 93.16 L93.39 93.34 L93.73 93.55 L94.07 93.78 L94.40 94.05 L94.72 94.34 L95.03 94.67 L95.34 95.01 L95.64 95.39 L95.93 95.79 L96.21 96.21 L96.47 96.65 L96.73 97.12 L96.98 97.60 L97.21 98.11 L97.43 98.63 L97.64 99.16 L97.83 99.72 L98.00 100.28 L98.16 100.85 L98.30 101.44 L98.42 102.03 L98.53 102.63 L98.61 103.23 L98.67 103.84 L98.71 104.44Z" fill="none" fill-opacity="1" stroke="#222" stroke-opacity="0.85" stroke-width="0.5" stroke-linejoin="round"/>
<path d="M97.56 105.28 L97.55 105.81 L97.53 106.33 L97.48 106.84 L97.42 107.35 L97.33 107.85 L97.22 108.34 L97.09 108.82 L96.94 109.29 L96.77 109.74 L96.57 110.18 L96.36 110.60 L96.12 111.01 L95.86 111.40 L95.59 111.77 L95.29 112.11 L94.98 112.44 L94.64 112.75 L94.30 113.03 L93.93 113.29 L93.56 113.52 L93.17 113.73 L92.76 113.91 L92.35 114.07 L91.93 114.20 L91.50 114.30 L91.07 114.38 L90.63 114.43 L90.19 114.45 L89.75 114.45 L89.32 114.41 L88.88 114.35 L88.45 114.27 L88.02 114.15 L87.61 114.02 L87.20 113.85 L86.80 113.66 L86.42 113.45 L86.05 113.21 L85.69 112.94 L85.36 112.66 L85.03 112.35 L84.73 112.02 L84.45 111.67 L84.19 111.31 L83.95 110.92 L83.73 110.52 L83.54 110.10 L83.37 109.67 L83.22 109.22 L83.10 108.76 L83.00 108.29 L82.92 107.81 L82.87 107.32 L82.85 106.83 L82.84 106.33 L82.86 105.82 L82.90 105.31 L82.96 104.80 L83.05 104.28 L83.15 103.77 L83.28 103.26 L83.42 102.75 L83.58 102.25 L83.76 101.76 L83.96 101.27 L84.16 100.79 L84.39 100.32 L84.63 99.86 L84.88 99.41 L85.14 98.98 L85.41 98.56 L85.69 98.16 L85.98 97.78 L86.27 97.41 L86.57 97.06 L86.88 96.74 L87.19 96.43 L87.51 96.14 L87.83 95.88 L88.15 95.64 L88.48 95.43 L88.80 95.23 L89.13 95.07 L89.46 94.93 L89.78 94.81 L90.11 94.73 L90.43 94.66 L90.76 94.63 L91.08 94.62 L91.39 94.64 L91.71 94.69 L92.02 94.76 L92.33 94.86 L92.63 94.99 L92.93 95.14 L93.23 95.32 L93.52 95.53 L93.81 95.76 L94.08 96.01 L94.36 96.29 L94.62 96.59 L94.88 96.92 L95.13 97.26 L95.37 97.63 L95.61 98.01 L95.83 98.42 L96.04 98.84 L96.24 99.27 L96.43 99.72 L96.61 100.19 L96.78 100.67 L96.93 101.15 L97.07 101.65 L97.19 102.16 L97.29 102.67 L97.38 103.19 L97.45 103.71 L97.51 104.23 L97.54 104.76Z" fill="none" fill-opacity="1" stroke="#fff" stroke-opacity="0.85" stroke-width="0.5" stroke-linejoin="round"/>
<path d="M96.39 105.52 L96.38 105.96 L96.36 106.40 L96.32 106.83 L96.27 107.26 L96.20 107.69 L96.10 108.10 L95.99 108.51 L95.86 108.90 L95.72 109.28 L95.55 109.66 L95.37 110.01 L95.17 110.36 L94.95 110.68 L94.72 111.00 L94.47 111.29 L94.20 111.57 L93.92 111.82 L93.63 112.06 L93.32 112.28 L93.00 112.48 L92.67 112.66 L92.34 112.81 L91.99 112.94 L91.63 113.05 L91.27 113.14 L90.90 113.21 L90.54 113.25 L90.16 113.27 L89.79 113.26 L89.42 113.23 L89.05 113.18 L88.69 113.11 L88.33 113.02 L87.98 112.90 L87.63 112.76 L87.30 112.60 L86.97 112.42 L86.66 112.21 L86.36 111.99 L86.07 111.75 L85.80 111.49 L85.55 111.21 L85.31 110.92 L85.09 110.61 L84.89 110.28 L84.71 109.94 L84.54 109.59 L84.40 109.22 L84.27 108.85 L84.17 108.46 L84.08 108.06 L84.02 107.66 L83.98 107.24 L83.95 106.82 L83.95 106.40 L83.97 105.97 L84.00 105.54 L84.05 105.11 L84.13 104.67 L84.21 104.24 L84.32 103.81 L84.44 103.38 L84.58 102.96 L84.73 102.54 L84.89 102.13 L85.07 101.72 L85.26 101.32 L85.46 100.94 L85.67 100.56 L85.89 100.19 L86.12 99.84 L86.36 99.50 L86.60 99.18 L86.85 98.87 L87.10 98.57 L87.36 98.29 L87.63 98.04 L87.90 97.79 L88.17 97.57 L88.44 97.37 L88.71 97.19 L88.99 97.03 L89.26 96.89 L89.54 96.77 L89.82 96.67 L90.09 96.60 L90.37 96.54 L90.64 96.52 L90.91 96.51 L91.18 96.53 L91.44 96.57 L91.71 96.63 L91.97 96.71 L92.23 96.82 L92.48 96.95 L92.73 97.10 L92.98 97.28 L93.22 97.47 L93.45 97.69 L93.68 97.92 L93.91 98.18 L94.12 98.45 L94.34 98.74 L94.54 99.05 L94.74 99.37 L94.93 99.71 L95.11 100.07 L95.28 100.44 L95.44 100.82 L95.59 101.21 L95.73 101.62 L95.86 102.03 L95.97 102.45 L96.07 102.88 L96.16 103.31 L96.24 103.75 L96.30 104.19 L96.34 104.63 L96.37 105.08Z" fill="none" fill-opacity="1" stroke="#222" stroke-opacity="0.85" stroke-width="0.5" stroke-linejoin="round"/>
<path d="M95.22 105.75 L95.21 106.12 L95.20 106.47 L95.17 106.83 L95.12 107.18 L95.06 107.52 L94.98 107.86 L94.89 108.19 L94.79 108.52 L94.67 108.83 L94.54 109.13 L94.39 109.42 L94.22 109.70 L94.05 109.97 L93.85 110.23 L93.65 110.47 L93.43 110.69 L93.20 110.90 L92.96 111.10 L92.71 111.28 L92.45 111.44 L92.18 111.58 L91.91 111.71 L91.62 111.82 L91.33 111.91 L91.04 111.98 L90.74 112.03 L90.44 112.07 L90.13 112.08 L89.83 112.08 L89.53 112.05 L89.23 112.01 L88.93 111.95 L88.64 111.88 L88.35 111.78 L88.07 111.67 L87.79 111.53 L87.53 111.39 L87.27 111.22 L87.03 111.04 L86.79 110.84 L86.57 110.63 L86.37 110.40 L86.17 110.16 L85.99 109.91 L85.83 109.64 L85.68 109.37 L85.54 109.08 L85.42 108.78 L85.32 108.47 L85.24 108.15 L85.17 107.83 L85.12 107.50 L85.08 107.16 L85.06 106.82 L85.06 106.47 L85.07 106.12 L85.10 105.77 L85.14 105.42 L85.20 105.06 L85.27 104.71 L85.36 104.36 L85.46 104.01 L85.57 103.66 L85.69 103.32 L85.83 102.98 L85.97 102.65 L86.13 102.33 L86.29 102.01 L86.46 101.70 L86.64 101.40 L86.83 101.12 L87.02 100.84 L87.22 100.57 L87.43 100.32 L87.63 100.08 L87.85 99.85 L88.06 99.64 L88.28 99.45 L88.50 99.26 L88.73 99.10 L88.95 98.95 L89.17 98.82 L89.40 98.70 L89.62 98.61 L89.85 98.53 L90.07 98.47 L90.30 98.42 L90.52 98.40 L90.74 98.40 L90.96 98.41 L91.18 98.44 L91.40 98.49 L91.61 98.56 L91.82 98.65 L92.03 98.76 L92.23 98.88 L92.43 99.02 L92.63 99.18 L92.82 99.36 L93.01 99.55 L93.19 99.76 L93.37 99.98 L93.54 100.22 L93.71 100.47 L93.87 100.74 L94.02 101.01 L94.17 101.30 L94.31 101.60 L94.44 101.92 L94.56 102.24 L94.68 102.57 L94.78 102.90 L94.88 103.25 L94.96 103.60 L95.03 103.95 L95.09 104.31 L95.14 104.67 L95.18 105.03 L95.20 105.39Z" fill="none" fill-opacity="1" stroke="#222" stroke-opacity="0.85" stroke-width="0.5" stroke-linejoin="round"/>
<path d="M94.04 105.99 L94.04 106.27 L94.03 106.55 L94.01 106.82 L93.97 107.09 L93.92 107.36 L93.87 107.62 L93.80 107.88 L93.71 108.13 L93.62 108.37 L93.52 108.61 L93.40 108.84 L93.27 109.05 L93.14 109.26 L92.99 109.46 L92.83 109.64 L92.66 109.82 L92.49 109.98 L92.30 110.13 L92.10 110.27 L91.90 110.40 L91.69 110.51 L91.48 110.61 L91.26 110.69 L91.03 110.76 L90.80 110.82 L90.57 110.86 L90.34 110.88 L90.10 110.89 L89.87 110.89 L89.63 110.87 L89.40 110.84 L89.17 110.80 L88.94 110.74 L88.72 110.66 L88.50 110.57 L88.29 110.47 L88.08 110.36 L87.88 110.23 L87.70 110.09 L87.51 109.94 L87.34 109.77 L87.18 109.60 L87.03 109.41 L86.89 109.21 L86.76 109.01 L86.65 108.79 L86.54 108.57 L86.45 108.34 L86.37 108.10 L86.31 107.85 L86.25 107.60 L86.21 107.34 L86.19 107.08 L86.17 106.81 L86.17 106.55 L86.18 106.27 L86.20 106.00 L86.23 105.73 L86.28 105.45 L86.34 105.18 L86.40 104.91 L86.48 104.63 L86.56 104.37 L86.66 104.10 L86.76 103.84 L86.88 103.58 L87.00 103.33 L87.12 103.09 L87.26 102.85 L87.40 102.62 L87.54 102.39 L87.69 102.18 L87.85 101.97 L88.00 101.77 L88.17 101.59 L88.33 101.41 L88.50 101.25 L88.67 101.10 L88.84 100.96 L89.01 100.83 L89.18 100.71 L89.36 100.61 L89.53 100.52 L89.71 100.45 L89.88 100.38 L90.06 100.34 L90.23 100.30 L90.40 100.29 L90.58 100.28 L90.75 100.29 L90.91 100.32 L91.08 100.36 L91.25 100.41 L91.41 100.48 L91.57 100.56 L91.73 100.66 L91.88 100.77 L92.04 100.89 L92.19 101.03 L92.33 101.18 L92.47 101.34 L92.61 101.51 L92.75 101.70 L92.88 101.89 L93.00 102.10 L93.12 102.31 L93.23 102.54 L93.34 102.77 L93.44 103.01 L93.54 103.26 L93.63 103.52 L93.71 103.78 L93.78 104.04 L93.85 104.32 L93.90 104.59 L93.95 104.87 L93.99 105.15 L94.02 105.43 L94.04 105.71Z" fill="none" fill-opacity="1" stroke="#fff" stroke-opacity="0.85" stroke-width="0.5" stroke-linejoin="round"/>
<path d="M92.87 106.22 L92.87 106.42 L92.86 106.62 L92.85 106.82 L92.82 107.01 L92.79 107.20 L92.75 107.39 L92.70 107.57 L92.64 107.75 L92.57 107.92 L92.50 108.08 L92.42 108.25 L92.33 108.40 L92.23 108.55 L92.12 108.69 L92.01 108.82 L91.89 108.95 L91.77 109.06 L91.63 109.17 L91.50 109.27 L91.35 109.36 L91.20 109.43 L91.05 109.50 L90.89 109.56 L90.73 109.61 L90.57 109.65 L90.41 109.68 L90.24 109.70 L90.07 109.71 L89.91 109.71 L89.74 109.70 L89.57 109.67 L89.41 109.64 L89.25 109.60 L89.09 109.54 L88.93 109.48 L88.78 109.41 L88.64 109.33 L88.50 109.24 L88.36 109.14 L88.23 109.03 L88.11 108.91 L88.00 108.79 L87.89 108.65 L87.79 108.51 L87.70 108.37 L87.62 108.21 L87.54 108.06 L87.48 107.89 L87.42 107.72 L87.38 107.55 L87.34 107.37 L87.31 107.18 L87.29 107.00 L87.28 106.81 L87.28 106.62 L87.28 106.43 L87.30 106.23 L87.32 106.04 L87.36 105.84 L87.40 105.65 L87.44 105.45 L87.50 105.26 L87.56 105.07 L87.63 104.88 L87.70 104.70 L87.78 104.51 L87.87 104.34 L87.96 104.16 L88.05 103.99 L88.15 103.83 L88.25 103.67 L88.36 103.52 L88.47 103.37 L88.58 103.23 L88.70 103.10 L88.81 102.97 L88.93 102.86 L89.05 102.75 L89.17 102.65 L89.30 102.56 L89.42 102.47 L89.54 102.40 L89.67 102.34 L89.79 102.29 L89.92 102.24 L90.04 102.21 L90.16 102.19 L90.29 102.17 L90.41 102.17 L90.53 102.18 L90.65 102.19 L90.77 102.22 L90.89 102.26 L91.00 102.31 L91.12 102.37 L91.23 102.44 L91.34 102.51 L91.45 102.60 L91.55 102.70 L91.66 102.80 L91.76 102.92 L91.86 103.04 L91.95 103.17 L92.04 103.31 L92.13 103.46 L92.22 103.61 L92.30 103.77 L92.37 103.94 L92.45 104.11 L92.51 104.29 L92.58 104.47 L92.63 104.65 L92.69 104.84 L92.73 105.03 L92.77 105.23 L92.81 105.43 L92.83 105.63 L92.85 105.82 L92.87 106.02Z" fill="none" fill-opacity="1" stroke="#222" stroke-opacity="0.85" stroke-width="0.5" stroke-linejoin="round"/>
<path d="M91.70 106.46 L91.70 106.58 L91.70 106.69 L91.69 106.81 L91.67 106.92 L91.65 107.04 L91.63 107.15 L91.60 107.25 L91.56 107.36 L91.52 107.46 L91.48 107.56 L91.43 107.66 L91.38 107.75 L91.32 107.84 L91.26 107.92 L91.19 108.00 L91.12 108.07 L91.05 108.14 L90.97 108.20 L90.89 108.26 L90.80 108.31 L90.71 108.36 L90.62 108.40 L90.53 108.44 L90.44 108.47 L90.34 108.49 L90.24 108.51 L90.14 108.52 L90.04 108.52 L89.94 108.52 L89.85 108.52 L89.75 108.50 L89.65 108.48 L89.55 108.46 L89.46 108.43 L89.37 108.39 L89.28 108.35 L89.19 108.30 L89.11 108.24 L89.03 108.18 L88.95 108.12 L88.88 108.05 L88.81 107.98 L88.75 107.90 L88.69 107.82 L88.64 107.73 L88.59 107.64 L88.54 107.54 L88.51 107.45 L88.47 107.35 L88.44 107.24 L88.42 107.14 L88.41 107.03 L88.39 106.92 L88.39 106.81 L88.39 106.69 L88.39 106.58 L88.40 106.46 L88.41 106.35 L88.43 106.23 L88.46 106.12 L88.48 106.00 L88.52 105.89 L88.55 105.78 L88.59 105.66 L88.64 105.55 L88.69 105.45 L88.74 105.34 L88.79 105.24 L88.85 105.14 L88.90 105.04 L88.96 104.94 L89.03 104.85 L89.09 104.77 L89.16 104.68 L89.23 104.61 L89.30 104.53 L89.37 104.46 L89.44 104.40 L89.51 104.34 L89.58 104.29 L89.66 104.24 L89.73 104.19 L89.80 104.16 L89.88 104.12 L89.95 104.10 L90.02 104.08 L90.10 104.07 L90.17 104.06 L90.24 104.06 L90.31 104.06 L90.39 104.07 L90.46 104.09 L90.53 104.11 L90.59 104.14 L90.66 104.17 L90.73 104.21 L90.79 104.26 L90.86 104.31 L90.92 104.37 L90.98 104.43 L91.04 104.50 L91.10 104.57 L91.16 104.65 L91.21 104.73 L91.26 104.82 L91.31 104.91 L91.36 105.01 L91.41 105.10 L91.45 105.21 L91.49 105.31 L91.53 105.42 L91.56 105.53 L91.59 105.64 L91.62 105.75 L91.64 105.87 L91.66 105.99 L91.68 106.10 L91.69 106.22 L91.70 106.34Z" fill="none" fill-opacity="1" stroke="#222" stroke-opacity="0.85" stroke-width="0.5" stroke-linejoin="round"/>
<ellipse cx="90" cy="107.3" rx="1" ry="2.4" fill="#fff"/>
<ellipse cx="97.9" cy="105" rx="24.7" ry="20.6" transform="rotate(0 97.9 105)" stroke="#000" stroke-opacity="1" stroke-width="1.6" fill="none"/>
<text x="112.8" y="108.9" font-size="8.2" font-weight="normal" text-anchor="start" style="stroke-width:0.12px">58</text>
<rect x="19.5" y="27.5" width="104.2" height="103.69999999999999" fill="none" stroke="#555" stroke-width="0.9"/>
<path d="M26.50 131.50v1.8M33.25 131.50v1.1M37.20 131.50v1.1M40.00 131.50v1.1M42.18 131.50v1.1M43.95 131.50v1.1M45.45 131.50v1.1M46.76 131.50v1.1M47.90 131.50v1.1M48.93 131.50v1.8M55.68 131.50v1.1M59.63 131.50v1.1M62.43 131.50v1.1M64.61 131.50v1.1M66.38 131.50v1.1M67.88 131.50v1.1M69.18 131.50v1.1M70.33 131.50v1.1M71.36 131.50v1.8M78.11 131.50v1.1M82.06 131.50v1.1M84.86 131.50v1.1M87.03 131.50v1.1M88.81 131.50v1.1M90.31 131.50v1.1M91.61 131.50v1.1M92.76 131.50v1.1M93.79 131.50v1.8M100.54 131.50v1.1M104.49 131.50v1.1M107.29 131.50v1.1M109.46 131.50v1.1M111.24 131.50v1.1M112.74 131.50v1.1M114.04 131.50v1.1M115.19 131.50v1.1M116.21 131.50v1.8M19.20 124.20h-1.8M19.20 117.48h-1.1M19.20 113.56h-1.1M19.20 110.77h-1.1M19.20 108.61h-1.1M19.20 106.84h-1.1M19.20 105.35h-1.1M19.20 104.05h-1.1M19.20 102.91h-1.1M19.20 101.89h-1.8M19.20 95.17h-1.1M19.20 91.25h-1.1M19.20 88.46h-1.1M19.20 86.30h-1.1M19.20 84.53h-1.1M19.20 83.04h-1.1M19.20 81.74h-1.1M19.20 80.60h-1.1M19.20 79.58h-1.8M19.20 72.87h-1.1M19.20 68.94h-1.1M19.20 66.15h-1.1M19.20 63.99h-1.1M19.20 62.22h-1.1M19.20 60.73h-1.1M19.20 59.43h-1.1M19.20 58.29h-1.1M19.20 57.27h-1.8M19.20 50.56h-1.1M19.20 46.63h-1.1M19.20 43.84h-1.1M19.20 41.68h-1.1M19.20 39.91h-1.1M19.20 38.42h-1.1M19.20 37.12h-1.1M19.20 35.98h-1.1M19.20 34.96h-1.8" stroke="#444" stroke-width="0.55" fill="none"/>
<path d="M183.1 80.4h0M194.6 62.5h0M174.9 80.0h0M176.4 92.1h0M188.5 107.4h0M179.6 85.3h0M187.6 78.9h0M185.4 76.0h0M187.5 68.5h0M189.1 74.7h0M178.8 97.7h0M180.4 83.0h0M183.0 86.8h0M171.0 88.6h0M196.3 86.6h0M185.5 63.4h0M173.4 94.0h0M186.2 80.2h0M173.5 90.8h0M187.7 65.4h0M180.0 72.1h0M169.8 89.5h0M183.8 78.7h0M169.6 80.7h0M169.3 82.3h0M190.6 75.7h0M184.6 86.3h0M195.3 62.4h0M194.3 62.3h0M191.9 64.3h0M191.2 92.6h0M198.3 67.1h0M170.8 90.2h0M195.9 73.7h0M189.0 93.5h0M199.5 71.0h0M163.2 84.3h0M184.9 76.0h0M169.1 88.6h0M175.2 83.3h0M179.8 71.6h0M170.7 87.1h0M184.8 68.1h0M184.8 79.8h0M175.0 87.1h0M178.0 71.5h0M173.7 72.9h0M168.0 88.9h0M192.3 74.6h0M191.9 73.8h0M196.4 64.8h0M185.7 51.9h0M176.7 80.5h0M184.4 71.1h0M184.9 73.9h0M164.7 84.9h0M188.5 69.8h0M173.0 82.4h0M192.7 93.2h0M189.7 77.8h0M182.2 77.8h0M176.1 85.1h0M194.9 65.9h0M172.5 91.0h0M184.5 73.8h0M173.7 87.8h0M200.9 68.3h0M200.6 67.2h0M191.1 73.1h0M200.7 71.0h0M192.5 70.9h0M183.8 69.8h0M184.1 63.8h0M194.1 62.5h0M174.3 86.7h0M192.0 72.9h0M178.8 93.1h0M179.1 77.5h0M174.3 79.9h0M190.4 77.7h0M192.2 79.2h0M194.6 63.6h0M195.5 68.8h0M177.7 97.4h0M175.0 89.7h0M170.3 90.8h0M181.4 63.6h0M184.3 89.5h0M201.3 65.1h0M175.1 87.7h0M196.6 61.7h0M186.4 65.5h0M191.1 69.8h0M185.9 74.9h0M199.9 70.1h0M169.4 80.8h0M200.6 71.9h0M195.7 66.2h0M191.3 80.3h0M184.1 69.6h0M176.6 88.3h0M187.9 84.4h0M186.1 76.5h0M170.6 77.5h0M168.8 89.5h0M200.0 65.6h0M187.6 63.3h0M172.2 76.3h0M184.9 78.8h0M181.8 71.9h0M200.8 65.8h0M179.7 71.9h0M182.8 64.2h0M189.9 65.8h0M179.0 97.2h0M181.9 72.5h0M197.3 64.3h0M194.6 69.0h0M193.6 61.2h0M178.4 93.7h0M192.7 70.4h0M178.4 87.4h0M189.1 60.0h0M185.4 62.6h0M166.6 70.1h0M184.6 75.5h0M180.9 78.7h0M200.4 66.6h0M190.9 83.4h0M170.0 89.2h0M182.9 76.5h0M172.3 93.8h0M179.9 96.5h0M179.0 75.5h0M184.4 82.7h0M169.8 89.4h0M176.5 82.1h0M180.3 88.9h0M172.9 81.5h0M176.4 75.8h0M173.6 94.6h0M170.2 91.2h0M173.9 85.3h0M189.4 71.2h0M199.4 65.9h0M189.8 69.0h0M174.9 94.2h0M195.3 69.6h0M199.2 73.9h0M199.2 72.2h0M193.7 74.8h0M174.9 84.9h0M183.3 79.5h0M178.4 78.0h0M184.4 105.3h0M183.2 76.6h0M178.5 88.3h0M203.1 68.5h0M182.7 67.9h0M190.0 65.4h0M168.4 89.4h0M185.8 67.9h0M188.0 63.9h0M179.4 77.7h0M181.6 92.1h0M185.7 82.4h0M184.6 77.4h0M181.0 81.0h0M169.8 76.6h0M191.2 76.2h0M197.6 67.3h0M171.0 80.6h0M196.5 66.8h0M169.8 90.0h0M186.9 70.6h0M173.7 79.0h0M180.8 75.1h0M174.2 78.9h0M173.6 92.6h0M175.1 90.1h0M200.6 63.5h0M179.5 80.6h0M196.6 62.2h0M192.3 87.0h0M189.4 58.6h0M186.5 85.8h0M200.8 63.5h0M182.5 79.8h0M173.4 83.6h0M172.5 87.1h0M165.3 84.8h0M165.2 83.0h0M188.4 72.5h0M171.2 75.5h0M198.5 69.5h0M179.4 92.9h0M185.0 51.7h0M166.6 80.4h0M177.4 86.9h0M179.0 84.6h0M169.9 91.9h0M180.4 91.9h0M195.2 82.7h0M178.4 77.0h0M163.6 83.4h0M192.7 97.7h0M173.9 80.2h0M165.9 90.6h0M172.3 95.4h0M178.2 70.7h0M187.9 81.4h0M161.1 100.5h0M161.3 83.1h0M147.2 95.8h0M183.9 94.9h0M164.2 88.0h0M192.0 80.6h0M190.5 85.3h0M170.9 87.6h0M171.5 86.0h0M156.9 92.0h0M158.0 94.4h0M168.5 88.1h0M164.2 89.5h0M194.5 82.7h0M158.0 90.7h0M177.5 86.1h0M164.9 89.1h0M170.8 91.5h0M171.9 78.6h0M147.0 79.2h0M181.7 93.1h0M187.9 85.4h0M185.3 85.0h0M163.3 81.5h0M154.6 89.8h0M184.4 95.8h0M160.9 94.1h0M170.7 84.3h0M139.8 92.7h0M144.9 94.1h0M165.1 89.5h0M165.7 93.5h0M154.6 99.0h0M141.9 97.2h0M172.3 83.8h0M143.9 100.2h0M158.4 97.3h0M179.4 86.7h0M169.0 95.7h0M171.9 83.0h0M171.0 92.5h0M171.0 90.2h0M165.1 89.9h0M150.9 85.5h0M183.9 81.6h0M168.6 80.4h0M168.7 84.5h0M211.6 71.8h0M154.1 99.4h0M181.8 73.1h0M172.8 94.0h0M149.8 98.9h0M157.9 86.4h0M161.4 88.7h0M149.6 108.6h0M159.4 87.5h0M180.5 86.0h0M187.6 82.9h0M173.1 89.0h0M169.7 88.1h0M168.5 100.0h0M156.2 89.6h0M163.1 94.6h0M175.1 93.7h0M147.3 97.0h0M164.4 89.0h0M167.0 78.0h0M171.9 89.7h0M145.5 95.3h0M190.7 81.4h0M176.2 86.2h0M153.7 88.0h0M163.4 99.1h0M178.9 82.5h0M182.6 85.1h0M157.6 95.3h0M151.1 84.7h0M184.5 74.2h0M173.5 79.0h0M166.8 88.9h0M157.4 79.2h0M165.8 90.2h0M153.7 93.2h0M181.6 81.8h0M169.7 82.3h0M174.4 92.1h0M206.8 85.0h0M176.3 96.3h0M154.0 100.2h0M158.3 88.6h0M184.6 86.8h0M185.6 76.3h0M170.9 85.8h0M160.6 80.2h0M182.2 87.3h0M150.6 86.3h0M156.5 101.5h0M165.6 88.5h0M175.2 88.0h0M172.4 93.3h0M174.1 93.6h0M149.7 95.2h0M162.5 92.0h0M166.2 86.5h0M163.9 96.8h0M157.5 85.1h0M178.3 93.1h0M163.9 91.8h0M154.8 92.2h0M185.9 90.1h0M169.7 87.8h0M143.7 98.4h0M176.5 94.1h0M199.0 84.0h0M180.7 79.8h0M187.5 90.0h0M189.6 88.3h0M177.1 96.6h0M158.9 96.3h0M183.2 81.2h0M151.3 97.1h0M170.9 93.0h0M176.7 83.1h0M174.9 95.0h0M162.3 89.8h0M152.4 99.2h0M195.5 74.4h0M181.0 92.0h0M159.2 90.2h0M151.3 89.8h0M171.7 93.0h0M171.3 94.4h0M169.6 82.6h0M191.9 90.9h0M160.3 102.9h0M175.6 88.9h0M193.4 68.2h0M145.2 100.5h0M163.2 85.7h0M191.8 86.7h0M148.1 91.5h0M183.8 96.7h0M138.6 99.5h0M160.0 81.7h0M163.5 81.7h0M162.8 101.4h0M177.4 92.4h0M178.1 89.6h0M181.4 79.5h0M164.4 96.3h0M156.9 90.5h0M189.1 93.9h0M158.2 87.9h0M177.8 89.2h0M159.4 96.2h0M177.1 88.3h0M215.0 85.9h0M182.5 92.6h0M215.0 84.3h0M188.0 79.8h0M192.7 75.4h0M193.8 79.4h0M191.9 75.8h0M197.1 70.4h0M197.1 78.3h0M193.9 66.6h0M202.1 69.8h0M187.2 81.4h0M188.7 76.2h0M179.2 76.1h0M193.5 81.5h0M190.6 79.3h0M194.8 74.9h0M187.9 87.8h0M187.3 84.3h0M192.7 85.4h0M188.5 80.8h0M194.2 77.1h0M194.1 74.5h0M191.8 76.3h0M196.7 77.8h0M184.1 76.4h0M191.7 73.8h0M200.1 80.2h0M197.2 74.5h0M189.9 83.2h0M183.8 80.0h0M192.8 75.8h0M192.8 73.0h0M193.6 72.3h0M184.8 85.1h0M188.1 67.9h0M198.0 74.4h0M171.5 77.9h0M197.7 80.0h0M202.4 77.6h0M195.8 73.3h0M193.2 85.8h0M195.2 79.0h0M180.6 76.4h0M184.7 82.1h0M187.9 80.0h0M186.4 87.5h0M185.4 78.9h0M207.8 79.3h0M187.1 81.3h0M198.1 82.5h0M180.6 79.3h0M179.7 87.6h0M192.7 76.0h0M196.3 80.6h0M185.3 86.2h0M190.9 69.6h0M200.6 85.8h0M199.7 80.9h0M187.0 82.9h0M203.3 82.3h0M201.8 74.4h0M198.3 82.9h0M148.9 106.5h0M171.8 101.4h0M161.7 103.4h0M165.3 110.0h0M172.8 103.0h0M167.8 99.5h0M178.4 98.1h0M195.5 101.4h0M167.9 96.4h0M156.4 106.7h0M162.9 98.3h0M140.2 106.8h0M166.6 109.6h0M187.5 99.2h0M184.0 108.3h0M149.8 99.3h0M159.8 87.2h0M172.3 100.2h0M198.7 90.8h0M182.4 96.0h0M182.5 93.0h0M177.3 98.8h0M146.7 104.4h0M172.9 107.6h0M195.2 109.9h0M174.4 90.1h0M139.9 107.9h0M158.8 120.7h0M170.0 109.2h0M197.5 96.5h0M162.3 94.6h0M169.2 114.3h0M190.3 101.7h0M148.4 98.1h0M135.6 108.1h0M188.2 78.6h0M138.9 114.5h0M179.0 104.8h0M179.7 103.6h0M176.1 121.7h0M184.6 96.1h0M147.1 103.5h0M158.8 105.6h0M151.9 112.1h0M164.4 108.1h0M164.1 110.7h0M141.0 122.4h0M170.7 108.4h0M176.5 114.3h0M178.3 105.7h0M158.4 88.5h0M167.5 101.1h0M159.4 129.1h0M188.5 112.1h0M187.1 89.8h0M145.0 112.5h0M159.2 122.2h0M168.3 106.2h0M172.2 101.2h0M165.4 97.7h0M162.5 99.9h0M167.6 90.1h0M167.4 94.7h0M158.3 94.6h0M203.0 85.6h0M197.2 93.5h0M171.9 101.4h0M157.0 114.7h0M179.8 100.4h0M147.5 126.9h0M191.9 103.7h0M158.2 108.2h0M166.5 116.5h0M144.6 106.6h0M149.4 119.1h0M199.7 100.7h0M175.8 117.8h0M157.1 96.0h0M185.0 108.0h0M161.0 119.7h0M167.0 86.6h0M170.7 103.6h0M201.3 101.3h0M160.2 109.5h0M167.6 90.3h0M166.0 101.3h0M194.0 126.2h0M140.8 97.1h0M146.6 99.7h0M150.2 106.5h0M184.5 89.9h0M187.1 116.1h0M167.5 115.4h0M184.3 104.9h0M177.8 106.8h0M154.6 124.8h0M163.0 93.7h0M153.3 90.2h0M165.2 115.7h0M139.7 118.2h0M206.0 104.9h0M140.1 98.3h0M156.2 92.6h0M138.8 104.4h0M160.9 111.1h0M141.7 125.5h0M185.9 111.8h0M152.5 123.3h0M158.7 123.5h0M184.5 94.0h0M156.6 124.2h0M183.8 101.5h0M168.2 106.4h0M148.4 104.1h0M150.4 101.7h0M172.5 94.4h0M178.6 104.6h0M180.0 112.3h0M189.4 108.9h0M177.9 101.8h0M174.6 94.8h0M159.7 112.7h0M163.3 109.3h0M144.1 120.3h0M152.8 109.7h0M164.3 114.1h0M155.5 95.5h0M140.6 112.2h0M190.8 80.0h0M138.5 110.1h0M188.9 105.7h0M170.9 109.3h0M176.9 120.2h0M175.1 91.3h0M154.7 107.7h0M147.5 103.6h0M152.8 98.7h0M177.5 99.7h0M141.5 99.5h0M166.6 125.8h0M170.4 119.2h0M172.0 82.4h0M170.8 95.6h0M135.9 96.4h0M198.4 85.8h0M152.6 117.5h0M175.8 86.5h0M161.3 99.8h0M160.7 112.6h0M152.1 102.6h0M191.6 83.7h0M156.9 110.1h0M138.4 100.6h0M137.7 108.6h0M152.1 113.7h0M184.4 103.4h0M156.5 108.0h0M164.0 92.4h0M185.6 105.1h0M178.5 89.7h0M183.3 124.4h0M175.0 89.1h0M164.6 104.1h0M168.0 102.0h0M173.4 99.2h0M167.9 97.4h0M166.7 114.6h0M154.6 112.3h0M145.7 102.5h0M160.2 117.7h0M149.5 118.3h0M182.8 110.1h0M142.4 94.2h0M180.3 90.5h0M175.0 98.4h0M165.6 128.0h0M195.7 110.4h0M136.3 110.3h0M164.7 103.6h0M189.2 85.0h0M170.3 105.4h0M150.1 123.4h0M138.2 107.2h0M163.4 82.5h0M180.4 112.8h0M175.9 106.0h0M144.7 122.6h0M167.3 129.1h0M159.6 120.4h0M138.4 116.0h0M136.0 120.9h0M136.4 114.2h0M141.0 112.6h0M156.5 112.0h0M153.6 109.4h0M167.9 111.5h0M163.2 128.5h0M148.4 122.6h0M145.0 117.8h0M142.0 118.9h0M136.1 120.5h0M173.1 116.5h0M140.0 128.9h0M163.7 122.3h0M145.7 119.2h0M157.1 105.3h0M158.1 114.3h0M166.6 123.4h0M143.0 111.7h0M153.2 119.4h0M145.8 114.7h0M158.3 118.0h0M165.1 116.9h0M140.0 104.6h0M160.8 113.4h0M146.6 113.6h0M139.8 126.7h0M156.3 114.1h0M152.8 119.9h0M141.5 114.0h0M146.4 130.7h0M151.7 103.3h0M160.6 131.3h0M150.0 121.6h0M143.8 113.7h0M135.6 108.9h0M136.6 117.7h0M154.8 111.4h0M151.4 114.8h0M144.6 115.7h0M151.4 109.1h0M152.2 123.9h0M168.9 117.3h0M162.4 116.1h0M164.4 116.2h0M155.6 113.6h0M150.6 127.1h0M135.9 115.4h0" stroke="#000" stroke-opacity="0.3" stroke-width="0.84" stroke-linecap="round" fill="none"/>
<path d="M178.1 101.1h0M155.8 116.2h0M164.7 114.7h0M162.1 92.3h0M162.2 112.3h0M164.8 90.2h0M174.9 93.2h0M145.4 96.2h0M150.4 93.4h0M180.0 99.6h0M154.2 115.2h0M158.4 113.7h0M152.3 92.4h0M176.9 102.1h0M165.2 89.0h0M155.6 87.8h0M169.7 90.3h0M168.0 110.3h0M146.0 111.4h0M145.1 93.6h0M164.1 90.6h0M161.9 112.2h0M182.2 99.0h0M172.5 90.0h0M158.2 114.0h0M143.8 102.5h0M145.2 109.4h0M162.8 92.3h0M153.5 115.6h0M155.2 114.5h0M154.6 114.3h0M172.7 108.1h0M169.5 108.3h0M144.5 99.6h0M176.7 91.1h0M172.5 108.9h0M162.1 90.9h0M169.8 113.6h0M177.8 105.0h0M168.0 108.4h0M153.0 115.1h0M167.1 88.8h0M172.6 108.8h0M144.4 99.3h0M158.8 117.2h0M156.5 114.0h0M166.3 109.8h0M165.9 110.5h0M176.0 104.6h0M166.9 90.1h0M158.1 113.9h0M149.8 93.5h0M174.0 104.4h0M148.3 95.4h0M163.0 114.0h0M178.0 98.9h0M172.3 109.9h0M153.3 91.3h0M174.9 92.4h0M169.9 111.6h0M177.8 92.5h0M164.2 111.5h0M145.7 96.5h0M169.3 90.9h0M149.0 95.2h0M163.5 112.7h0M172.8 92.2h0M163.3 114.0h0M161.9 113.6h0M145.2 100.8h0M171.7 108.1h0M158.2 115.6h0M148.0 111.7h0M145.4 94.7h0M146.9 96.1h0M181.5 89.1h0M161.8 112.0h0M148.6 94.8h0M145.1 104.2h0M166.4 112.5h0M142.7 103.0h0M162.3 111.9h0M176.0 92.6h0M153.7 90.3h0M170.1 111.0h0M164.8 110.9h0M172.6 108.7h0M160.9 88.7h0M154.2 91.1h0M143.9 98.1h0M153.5 91.9h0M169.6 89.7h0M167.6 92.3h0M145.9 97.4h0M153.4 114.9h0M154.9 92.0h0M146.0 96.0h0M157.2 92.0h0M176.4 94.3h0M171.0 107.0h0M146.1 96.6h0M150.7 89.9h0M146.0 101.7h0M173.8 91.7h0M145.3 103.8h0M160.0 114.5h0M153.2 114.1h0M146.7 112.6h0M157.7 90.2h0M170.2 108.6h0M174.9 91.0h0M169.9 92.5h0M161.5 113.0h0M175.5 103.3h0M173.0 108.8h0M162.3 92.5h0M146.2 109.3h0M169.2 109.5h0M170.6 107.3h0M162.3 114.6h0M148.2 111.8h0M153.0 89.4h0M161.5 92.1h0M143.9 106.6h0M168.5 110.1h0M149.1 114.6h0M167.5 92.2h0M145.3 105.4h0M177.4 90.6h0M158.1 117.7h0M147.6 111.5h0M178.0 100.2h0M175.1 90.8h0M177.8 98.4h0M149.3 93.4h0M145.7 98.0h0M144.9 109.3h0M170.4 109.5h0M147.0 96.9h0M173.6 104.9h0M159.7 90.9h0M154.1 115.4h0M169.4 90.3h0M144.2 102.7h0M168.2 109.0h0M144.7 104.6h0M165.7 117.4h0M145.2 107.7h0M147.4 94.7h0M163.6 88.8h0M159.5 114.3h0M178.2 95.8h0M154.2 91.4h0M168.4 90.9h0M162.8 90.7h0M167.1 113.1h0M160.3 113.4h0M163.3 112.3h0M169.1 110.6h0M163.5 115.1h0M146.3 112.0h0M161.7 90.1h0M162.9 90.9h0M146.1 105.7h0M150.3 114.0h0M171.0 112.3h0M158.4 115.8h0M171.6 110.8h0M165.1 91.0h0M175.6 104.7h0M159.8 91.7h0M148.5 95.8h0M167.3 91.2h0M156.8 113.5h0M150.8 93.4h0M144.0 99.4h0M158.6 91.5h0M159.6 113.8h0M150.6 113.6h0M162.2 91.7h0M146.3 107.3h0M179.4 96.7h0M167.8 110.7h0M169.0 109.2h0M176.6 93.5h0M154.7 113.8h0M148.5 113.0h0M179.6 96.0h0M164.7 87.8h0M146.4 110.1h0M166.4 110.9h0M169.4 92.2h0M151.7 88.2h0M172.9 89.7h0M177.3 93.5h0M156.6 116.2h0M165.6 110.5h0M179.1 100.4h0M148.1 111.7h0M174.0 105.7h0M152.0 113.2h0M143.5 97.3h0M144.8 96.2h0M152.1 114.6h0M163.8 113.3h0M161.1 92.3h0M148.6 93.3h0M146.4 97.7h0M165.9 90.4h0M150.3 112.5h0M155.5 92.0h0M160.5 92.3h0M155.3 114.0h0M154.9 91.6h0M159.7 89.7h0M163.0 114.4h0M153.3 114.2h0M144.4 110.1h0M142.3 100.2h0M166.8 87.3h0M172.5 106.5h0M166.9 89.6h0M163.6 114.3h0M158.5 91.3h0M174.5 108.8h0M152.5 90.6h0M150.8 92.9h0M158.2 113.8h0M172.6 108.8h0M176.9 105.7h0M171.1 90.4h0M167.9 110.1h0M144.8 108.4h0M171.1 90.9h0M143.1 99.2h0M161.1 88.8h0M159.4 113.4h0M164.2 92.6h0M161.4 112.4h0M156.7 89.2h0M173.5 106.0h0M169.8 90.5h0M177.3 101.6h0M171.0 92.7h0M175.5 108.5h0M163.8 113.4h0M166.2 111.4h0M176.3 93.0h0M146.1 100.9h0M155.6 114.2h0M147.3 93.5h0M171.8 91.5h0M158.6 113.6h0M145.7 105.3h0M163.6 110.9h0M148.5 93.9h0M146.6 107.1h0M144.3 99.4h0M145.0 100.3h0M164.3 113.9h0M148.1 110.7h0M171.0 109.1h0M151.1 114.1h0M169.9 108.3h0M147.0 97.2h0M171.3 107.1h0M160.5 113.0h0M178.5 97.8h0M166.2 113.9h0M180.3 95.2h0M147.6 94.9h0M152.1 114.9h0M157.1 89.6h0M156.4 91.2h0M148.4 91.4h0M168.7 89.8h0M174.2 89.8h0M155.9 91.8h0M151.7 89.4h0M178.5 93.6h0M145.6 103.0h0M179.6 97.9h0M148.1 94.7h0M148.8 90.8h0M149.2 94.5h0M154.2 114.0h0M157.0 113.9h0M143.5 106.3h0M157.0 113.5h0M178.8 100.1h0M172.4 91.1h0M173.6 104.3h0M171.8 108.7h0M145.0 104.9h0M167.3 90.8h0M148.1 113.0h0M147.0 108.1h0M147.0 107.7h0M172.7 109.8h0M173.0 108.0h0M146.1 103.9h0M174.9 89.8h0M159.6 113.4h0M146.3 96.4h0M159.7 89.7h0M180.3 99.6h0M163.3 112.8h0M153.8 90.8h0M156.2 113.2h0M177.8 107.8h0M151.2 93.5h0M144.1 100.3h0M172.9 91.8h0M155.9 116.9h0M143.6 106.0h0M162.3 113.8h0M158.3 91.9h0M148.6 112.9h0M152.6 92.0h0M173.5 89.0h0M168.5 109.9h0M167.7 90.0h0M167.4 88.8h0M176.2 92.8h0M147.2 114.0h0M178.1 96.0h0M146.9 96.1h0M169.4 92.1h0M174.7 106.4h0M178.0 103.8h0M146.3 107.9h0M177.9 99.9h0M159.2 114.7h0M162.5 114.1h0M178.7 95.0h0M175.9 88.8h0M178.0 95.1h0M148.4 93.3h0M147.3 96.5h0M148.9 94.3h0M149.2 92.1h0M147.4 96.7h0M172.7 92.2h0M151.6 93.4h0M145.2 106.2h0M174.2 89.2h0M142.8 104.0h0M169.1 110.1h0M164.8 111.2h0M145.1 109.1h0M159.9 91.3h0M166.3 90.2h0M162.2 113.5h0M171.8 108.3h0M170.8 106.6h0M146.1 110.9h0M142.6 104.2h0M146.2 103.4h0M172.0 91.2h0M146.4 108.9h0M144.3 102.3h0M168.1 87.5h0M160.8 113.0h0M146.7 97.7h0M174.1 105.7h0M146.8 111.2h0M178.2 102.2h0M143.9 103.4h0M149.5 94.7h0M173.7 92.6h0M145.9 103.1h0M168.9 108.7h0M162.0 89.9h0M168.1 89.4h0M159.4 113.8h0M163.8 113.2h0M157.9 114.3h0M154.7 90.2h0M167.7 92.0h0M170.1 107.4h0M178.5 99.3h0M157.2 114.5h0M174.2 92.5h0M147.6 112.6h0M157.8 90.8h0M168.9 108.0h0M157.8 114.2h0M146.1 105.5h0M171.4 92.1h0M149.4 115.7h0M173.4 107.0h0M170.2 108.0h0M161.2 91.8h0M150.5 113.9h0M144.7 97.4h0M145.6 104.8h0M175.3 104.8h0M175.3 105.4h0M153.1 90.6h0M167.6 109.1h0M152.5 92.2h0M154.5 113.2h0M162.5 113.5h0M153.3 91.6h0M159.2 116.1h0M170.3 108.3h0M164.5 90.0h0M169.0 110.8h0M166.0 109.9h0M179.0 99.5h0M167.8 112.0h0M158.5 113.4h0M149.7 112.5h0M155.0 114.1h0M148.6 94.8h0M152.2 115.6h0M145.7 108.7h0M180.0 97.1h0M149.0 111.4h0M158.2 91.1h0" stroke="#000" stroke-opacity="0.35" stroke-width="0.84" stroke-linecap="round" fill="none"/>
<path d="M146.50 104.00 L146.47 102.83 L146.51 101.73 L146.63 100.70 L146.83 99.73 L147.10 98.83 L147.44 97.99 L147.85 97.21 L148.32 96.50 L148.85 95.84 L149.44 95.25 L150.08 94.72 L150.78 94.24 L151.54 93.83 L152.33 93.47 L153.18 93.17 L154.07 92.93 L155.00 92.74 L155.96 92.61 L156.97 92.53 L158.00 92.50 L158.75 92.51 L159.50 92.53 L160.25 92.54 L160.99 92.56 L161.73 92.58 L162.47 92.59 L163.21 92.60 L163.94 92.62 L164.66 92.64 L165.38 92.65 L166.08 92.66 L166.78 92.68 L167.48 92.69 L168.16 92.71 L168.83 92.72 L169.49 92.74 L170.14 92.75 L170.77 92.77 L171.39 92.78 L172.00 92.80 L172.58 92.84 L173.13 92.91 L173.65 93.01 L174.14 93.13 L174.59 93.28 L175.01 93.46 L175.40 93.66 L175.76 93.88 L176.08 94.14 L176.38 94.41 L176.64 94.71 L176.87 95.04 L177.07 95.39 L177.23 95.76 L177.37 96.16 L177.48 96.58 L177.55 97.03 L177.60 97.50 L177.61 97.99 L177.60 98.50 L177.53 99.03 L177.39 99.56 L177.17 100.11 L176.89 100.65 L176.55 101.20 L176.14 101.76 L175.68 102.32 L175.16 102.88 L174.59 103.44 L173.98 104.00 L173.32 104.56 L172.62 105.12 L171.88 105.68 L171.11 106.24 L170.32 106.80 L169.49 107.35 L168.64 107.89 L167.78 108.44 L166.89 108.97 L166.00 109.50 L165.26 109.94 L164.53 110.35 L163.81 110.75 L163.11 111.11 L162.41 111.45 L161.73 111.77 L161.05 112.06 L160.38 112.32 L159.72 112.55 L159.06 112.75 L158.41 112.92 L157.76 113.06 L157.11 113.17 L156.46 113.25 L155.80 113.30 L155.15 113.31 L154.50 113.28 L153.84 113.23 L153.17 113.13 L152.50 113.00 L151.92 112.83 L151.37 112.63 L150.85 112.39 L150.37 112.11 L149.92 111.80 L149.50 111.47 L149.11 111.10 L148.75 110.70 L148.42 110.27 L148.11 109.81 L147.84 109.33 L147.59 108.82 L147.37 108.29 L147.17 107.74 L147.00 107.16 L146.86 106.57 L146.73 105.95 L146.63 105.32 L146.56 104.67Z" fill="#fff" fill-opacity="1" stroke="#000" stroke-opacity="0.9" stroke-width="0.75" stroke-linejoin="round"/>
<path d="M169.34 99.57 L169.46 99.91 L169.56 100.27 L169.63 100.63 L169.67 101.00 L169.68 101.38 L169.67 101.76 L169.63 102.15 L169.56 102.55 L169.46 102.94 L169.34 103.34 L169.19 103.74 L169.02 104.13 L168.82 104.53 L168.59 104.92 L168.34 105.31 L168.06 105.69 L167.76 106.07 L167.44 106.44 L167.10 106.80 L166.74 107.15 L166.36 107.50 L165.96 107.83 L165.54 108.15 L165.10 108.46 L164.65 108.75 L164.19 109.03 L163.71 109.30 L163.23 109.54 L162.73 109.78 L162.22 109.99 L161.71 110.19 L161.19 110.37 L160.67 110.53 L160.14 110.67 L159.61 110.79 L159.09 110.89 L158.56 110.97 L158.04 111.03 L157.52 111.07 L157.00 111.09 L156.50 111.09 L156.00 111.06 L155.51 111.02 L155.03 110.96 L154.57 110.87 L154.12 110.77 L153.68 110.64 L153.27 110.50 L152.86 110.33 L152.48 110.15 L152.12 109.95 L151.77 109.73 L151.45 109.50 L151.15 109.25 L150.87 108.98 L150.62 108.70 L150.39 108.40 L150.19 108.09 L150.02 107.77 L149.86 107.43 L149.74 107.09 L149.64 106.73 L149.57 106.37 L149.53 106.00 L149.52 105.62 L149.53 105.24 L149.57 104.85 L149.64 104.45 L149.74 104.06 L149.86 103.66 L150.01 103.26 L150.18 102.87 L150.38 102.47 L150.61 102.08 L150.86 101.69 L151.14 101.31 L151.44 100.93 L151.76 100.56 L152.10 100.20 L152.46 99.85 L152.84 99.50 L153.24 99.17 L153.66 98.85 L154.10 98.54 L154.55 98.25 L155.01 97.97 L155.49 97.70 L155.97 97.46 L156.47 97.22 L156.98 97.01 L157.49 96.81 L158.01 96.63 L158.53 96.47 L159.06 96.33 L159.59 96.21 L160.11 96.11 L160.64 96.03 L161.16 95.97 L161.68 95.93 L162.20 95.91 L162.70 95.91 L163.20 95.94 L163.69 95.98 L164.17 96.04 L164.63 96.13 L165.08 96.23 L165.52 96.36 L165.93 96.50 L166.34 96.67 L166.72 96.85 L167.08 97.05 L167.43 97.27 L167.75 97.50 L168.05 97.75 L168.33 98.02 L168.58 98.30 L168.81 98.60 L169.01 98.91 L169.18 99.23Z" fill="none" fill-opacity="1" stroke="#000" stroke-opacity="0.85" stroke-width="0.6" stroke-linejoin="round"/>
<path d="M162.09 100.25 L162.20 100.45 L162.29 100.66 L162.38 100.88 L162.45 101.10 L162.50 101.33 L162.55 101.56 L162.57 101.79 L162.59 102.03 L162.59 102.27 L162.57 102.51 L162.55 102.75 L162.51 103.00 L162.45 103.24 L162.38 103.48 L162.30 103.72 L162.21 103.96 L162.10 104.19 L161.98 104.43 L161.84 104.65 L161.70 104.88 L161.54 105.09 L161.38 105.30 L161.20 105.51 L161.01 105.71 L160.81 105.89 L160.61 106.08 L160.39 106.25 L160.17 106.41 L159.94 106.57 L159.70 106.71 L159.46 106.84 L159.21 106.97 L158.95 107.08 L158.70 107.18 L158.44 107.27 L158.17 107.34 L157.91 107.41 L157.64 107.46 L157.38 107.50 L157.11 107.53 L156.85 107.54 L156.58 107.54 L156.32 107.53 L156.06 107.50 L155.81 107.47 L155.56 107.42 L155.32 107.36 L155.08 107.28 L154.85 107.20 L154.62 107.10 L154.41 106.99 L154.20 106.87 L154.00 106.74 L153.81 106.60 L153.64 106.45 L153.47 106.28 L153.31 106.11 L153.17 105.93 L153.03 105.75 L152.91 105.55 L152.80 105.35 L152.71 105.14 L152.62 104.92 L152.55 104.70 L152.50 104.47 L152.45 104.24 L152.43 104.01 L152.41 103.77 L152.41 103.53 L152.43 103.29 L152.45 103.05 L152.49 102.80 L152.55 102.56 L152.62 102.32 L152.70 102.08 L152.79 101.84 L152.90 101.61 L153.02 101.37 L153.16 101.15 L153.30 100.93 L153.46 100.71 L153.62 100.50 L153.80 100.29 L153.99 100.09 L154.19 99.91 L154.39 99.72 L154.61 99.55 L154.83 99.39 L155.06 99.23 L155.30 99.09 L155.54 98.96 L155.79 98.83 L156.05 98.72 L156.30 98.62 L156.56 98.53 L156.83 98.46 L157.09 98.39 L157.36 98.34 L157.62 98.30 L157.89 98.28 L158.15 98.26 L158.42 98.26 L158.68 98.27 L158.94 98.30 L159.19 98.33 L159.44 98.38 L159.68 98.44 L159.92 98.52 L160.15 98.60 L160.38 98.70 L160.59 98.81 L160.80 98.93 L161.00 99.06 L161.19 99.20 L161.36 99.35 L161.53 99.52 L161.69 99.69 L161.83 99.87 L161.97 100.05Z" fill="none" fill-opacity="1" stroke="#000" stroke-opacity="0.85" stroke-width="0.6" stroke-linejoin="round"/>
<path d="M223.3 102.3h0M206.4 121.5h0M223.2 95.9h0M198.1 114.7h0M222.3 93.5h0M221.2 112.3h0M202.4 119.8h0M219.4 86.8h0M221.0 93.3h0M215.5 83.6h0M201.6 84.0h0M202.8 119.9h0M222.2 100.7h0M197.0 94.9h0M217.6 83.9h0M196.9 112.9h0M221.9 96.4h0M198.8 90.3h0M204.5 82.1h0M218.5 116.7h0M196.6 111.3h0M220.6 112.4h0M198.4 118.8h0M196.3 95.5h0M203.9 123.6h0M224.4 103.6h0M196.5 110.4h0M211.1 81.0h0M195.1 116.4h0M212.1 82.1h0M196.4 114.2h0M197.3 97.0h0M202.3 123.3h0M221.2 111.3h0M213.1 82.7h0M194.0 100.9h0M216.6 80.9h0M215.2 80.0h0M213.1 81.4h0M197.3 115.0h0M203.7 123.1h0M211.6 122.1h0M196.4 105.8h0M198.7 92.4h0M219.8 88.7h0M223.1 102.2h0M207.3 82.0h0M197.6 95.9h0M204.7 121.2h0M196.3 93.3h0M204.9 122.0h0M221.2 89.1h0M210.9 121.6h0M194.8 111.9h0M212.0 121.0h0M212.5 122.2h0M211.0 82.8h0M214.4 121.7h0M201.3 119.8h0M223.3 106.7h0M222.4 92.9h0M221.8 91.9h0M196.0 116.6h0M224.2 93.9h0M211.5 122.4h0M208.6 122.4h0M197.0 97.0h0M212.5 121.5h0M220.4 93.1h0M223.5 99.7h0M219.8 115.1h0M195.5 107.4h0M195.8 110.4h0M226.0 101.2h0M223.5 101.4h0M222.4 109.0h0M222.7 97.9h0M200.5 87.9h0M194.0 105.9h0M195.7 109.1h0M219.6 87.5h0M219.5 115.5h0M196.8 113.5h0M221.1 113.2h0M197.3 112.9h0M215.1 83.4h0M218.2 85.9h0M218.5 116.6h0M209.3 121.7h0M204.0 82.7h0M217.7 120.5h0M222.6 107.8h0M221.3 88.6h0M224.8 105.4h0M220.8 91.4h0M197.8 92.6h0M196.9 113.6h0M203.8 120.6h0M197.9 113.8h0M220.0 92.0h0M197.3 94.5h0M219.6 117.3h0M196.2 95.7h0M202.1 121.5h0M222.5 92.4h0M217.6 117.8h0M196.1 103.0h0M225.9 105.2h0M207.3 122.4h0M205.9 83.6h0M197.8 90.4h0M221.5 94.4h0M217.7 117.5h0M194.9 106.4h0M221.4 113.7h0M204.5 84.1h0M221.4 113.3h0M222.9 93.8h0M196.2 103.7h0M196.2 97.9h0M198.2 116.6h0M197.8 112.0h0M220.0 89.9h0M210.0 79.7h0M196.5 114.9h0M216.5 84.5h0M196.1 116.0h0M223.2 111.7h0M211.6 121.9h0M195.3 110.5h0M195.2 108.9h0M217.2 120.6h0M205.4 84.3h0M210.0 121.3h0M199.6 87.0h0M195.3 99.5h0M198.9 86.5h0M220.7 91.6h0M203.8 80.4h0M198.3 90.5h0M202.7 84.5h0M195.3 100.9h0M223.5 102.4h0M217.2 84.6h0M218.1 118.8h0M217.9 117.7h0M195.7 109.1h0M222.1 94.5h0M219.3 116.8h0M210.3 122.2h0M223.9 102.6h0M209.3 81.6h0M196.6 97.9h0M216.8 118.6h0M222.4 106.3h0M200.2 120.0h0M215.5 119.9h0M222.7 90.3h0M194.8 100.2h0M195.9 101.7h0M198.1 90.5h0M192.0 102.8h0M210.5 123.8h0M207.9 82.2h0M208.4 82.0h0M222.2 92.9h0M192.3 103.5h0M219.9 115.3h0M221.1 99.3h0M224.1 103.8h0M217.5 118.0h0M204.4 83.1h0M220.1 89.2h0M223.0 96.7h0M197.5 92.7h0M206.1 121.1h0M223.5 106.6h0M207.7 80.6h0M199.3 88.3h0M220.7 114.3h0M209.1 79.6h0M222.4 97.0h0M216.6 122.1h0M197.9 91.6h0M195.6 111.5h0M198.9 90.8h0M221.1 114.6h0M221.0 91.7h0M204.2 121.8h0M199.0 87.8h0M211.2 122.9h0M217.2 121.4h0M221.4 98.2h0M207.6 122.8h0M221.9 98.1h0M218.9 89.3h0M198.0 96.6h0M197.0 96.4h0M223.8 105.9h0M212.0 82.3h0M203.6 85.8h0M196.1 92.6h0M215.9 84.5h0M195.2 105.5h0M197.5 115.0h0M208.7 80.9h0M194.2 102.2h0M198.4 91.8h0M218.5 117.8h0M214.5 121.5h0M215.4 119.5h0M215.2 83.4h0M222.7 101.7h0M223.9 99.8h0M194.3 96.7h0M214.3 80.2h0M220.3 114.8h0M201.5 118.7h0M223.4 96.1h0M203.7 121.7h0M217.2 118.3h0M196.1 109.2h0M211.4 82.9h0M225.5 100.5h0M222.9 106.3h0M200.3 89.7h0M218.7 86.4h0M216.6 84.4h0M222.0 93.9h0M201.2 88.0h0M218.5 87.5h0M197.0 111.9h0M197.8 93.2h0M195.8 97.3h0M193.4 109.5h0M194.6 108.2h0M205.1 83.8h0M220.7 119.7h0M217.8 86.2h0M205.1 81.8h0M214.1 122.7h0M199.8 117.5h0M219.7 86.5h0M194.4 110.5h0M217.7 87.9h0M196.5 112.9h0M224.2 101.7h0M196.7 113.9h0M223.4 100.9h0M196.9 114.8h0M195.7 110.8h0M216.7 120.1h0M213.3 83.3h0M222.6 111.2h0M212.9 81.8h0M196.0 102.3h0M219.0 88.8h0M199.7 90.7h0M223.4 97.1h0M196.2 101.1h0M212.5 124.2h0M221.3 94.8h0M220.0 92.3h0M218.6 85.8h0M197.5 92.0h0M207.6 123.0h0M222.9 104.1h0M215.9 84.5h0M199.9 86.1h0M194.3 108.3h0M196.0 101.4h0M214.0 82.4h0M211.2 121.6h0M222.1 104.9h0M221.5 112.0h0M222.9 101.4h0M213.6 122.4h0M223.7 100.1h0M222.8 105.4h0M200.5 84.3h0M196.7 99.4h0M196.1 102.9h0M222.4 103.0h0M198.0 96.0h0M199.6 91.0h0M218.5 85.6h0M218.0 85.1h0M216.0 84.3h0M222.7 108.9h0M220.8 89.9h0M194.7 100.1h0M219.4 90.4h0M221.2 93.1h0M221.4 111.0h0M196.2 111.7h0M194.6 101.8h0M198.3 91.7h0M221.4 96.6h0M222.9 106.6h0M196.1 91.1h0M195.2 103.5h0M219.4 116.2h0M202.8 84.2h0M206.5 80.8h0M221.8 115.2h0M220.8 113.2h0M195.2 103.8h0M223.8 98.2h0M217.9 85.4h0M201.9 86.5h0M197.4 113.0h0M221.4 97.5h0M194.9 105.2h0M221.3 118.6h0M198.7 92.7h0M221.1 112.2h0M219.7 88.8h0M196.5 101.9h0M208.5 82.5h0M218.3 87.9h0M215.0 81.1h0M215.8 81.9h0M213.9 82.0h0M195.3 115.2h0M223.4 105.2h0M208.2 123.9h0M198.8 86.3h0M201.9 120.1h0M224.5 101.1h0M200.6 121.5h0M205.3 83.2h0M220.4 115.2h0M194.7 106.4h0M214.9 84.1h0M221.5 93.2h0M221.4 110.4h0M215.3 83.7h0M223.5 98.8h0M223.4 105.3h0M215.7 84.6h0M224.7 107.6h0M202.7 85.9h0M223.6 101.0h0M221.0 111.3h0M209.4 80.2h0M220.9 114.1h0M196.5 93.8h0M197.6 119.5h0M196.6 96.5h0M210.5 79.7h0M213.9 119.9h0M202.6 123.4h0M220.1 114.1h0M196.2 112.1h0M221.4 111.6h0M221.3 105.6h0M205.9 79.5h0M203.8 82.9h0M222.4 105.9h0M201.3 87.9h0M203.1 85.4h0M197.5 119.5h0M204.6 121.0h0M211.3 123.2h0M198.7 92.0h0M221.2 116.9h0M195.1 96.7h0M196.9 112.1h0M195.2 100.9h0M210.7 81.1h0M211.7 121.8h0M202.0 120.3h0M194.0 104.5h0M200.5 120.0h0M203.1 85.5h0M220.0 117.0h0M221.0 94.1h0M222.0 96.7h0M219.7 114.8h0M194.8 103.5h0M199.3 118.5h0M200.2 118.2h0M214.6 121.6h0M195.1 98.5h0M215.9 83.1h0M210.0 122.1h0M213.9 82.9h0M209.2 80.6h0M198.3 88.9h0M219.5 91.2h0M196.1 91.2h0M215.6 82.7h0M223.8 97.0h0M219.3 88.5h0M196.7 94.2h0M204.3 122.8h0M198.8 91.9h0M206.3 82.9h0M205.7 82.0h0M195.1 113.6h0M209.7 81.9h0M200.7 118.9h0M218.8 115.1h0M222.5 98.2h0M222.3 94.1h0M196.3 110.3h0M197.2 97.4h0M222.9 104.3h0M221.4 97.7h0M199.3 117.1h0M198.1 90.7h0M219.5 116.4h0M220.4 117.3h0M198.7 93.8h0M201.5 84.8h0M223.5 100.3h0M203.7 82.9h0M199.4 91.5h0M197.8 91.7h0M206.2 122.5h0M197.0 116.1h0M199.2 90.0h0M220.3 117.1h0M203.5 120.3h0M216.8 118.1h0M224.4 106.6h0M195.9 107.5h0M197.8 115.4h0M195.4 95.8h0M195.3 113.3h0M222.0 110.3h0M219.9 88.6h0M223.3 106.7h0M226.6 105.6h0M223.7 105.3h0M215.6 80.9h0M197.7 115.8h0M223.7 97.4h0M202.3 119.9h0M196.4 111.8h0M204.1 84.3h0M222.0 97.4h0M221.7 93.7h0M197.1 116.3h0M203.2 85.3h0M222.9 109.6h0M197.2 95.2h0M200.3 88.2h0M205.3 123.1h0M200.8 87.1h0" stroke="#000" stroke-opacity="0.35" stroke-width="0.84" stroke-linecap="round" fill="none"/>
<path d="M221.88 102.66 L221.90 103.67 L221.89 104.68 L221.84 105.68 L221.76 106.67 L221.63 107.65 L221.47 108.61 L221.27 109.55 L221.04 110.48 L220.77 111.37 L220.45 112.25 L220.11 113.09 L219.72 113.91 L219.30 114.69 L218.85 115.43 L218.36 116.14 L217.84 116.81 L217.30 117.44 L216.72 118.02 L216.11 118.57 L215.48 119.06 L214.83 119.51 L214.15 119.91 L213.46 120.26 L212.75 120.56 L212.02 120.81 L211.29 121.01 L210.54 121.15 L209.79 121.25 L209.04 121.29 L208.29 121.27 L207.54 121.21 L206.80 121.09 L206.06 120.92 L205.34 120.70 L204.63 120.42 L203.93 120.10 L203.26 119.73 L202.60 119.30 L201.97 118.84 L201.37 118.32 L200.80 117.76 L200.25 117.16 L199.73 116.52 L199.25 115.84 L198.81 115.12 L198.40 114.36 L198.02 113.57 L197.69 112.75 L197.39 111.90 L197.14 111.03 L196.92 110.13 L196.74 109.20 L196.60 108.26 L196.50 107.30 L196.44 106.33 L196.42 105.34 L196.44 104.35 L196.50 103.35 L196.59 102.35 L196.72 101.34 L196.88 100.34 L197.07 99.34 L197.30 98.35 L197.56 97.37 L197.85 96.40 L198.16 95.44 L198.50 94.51 L198.87 93.59 L199.26 92.70 L199.67 91.83 L200.10 90.99 L200.55 90.18 L201.02 89.40 L201.50 88.66 L202.00 87.95 L202.51 87.28 L203.03 86.65 L203.56 86.06 L204.10 85.52 L204.65 85.02 L205.20 84.57 L205.76 84.16 L206.32 83.80 L206.89 83.49 L207.46 83.24 L208.03 83.03 L208.60 82.87 L209.17 82.77 L209.74 82.72 L210.31 82.73 L210.88 82.78 L211.44 82.89 L211.99 83.05 L212.55 83.27 L213.09 83.53 L213.63 83.85 L214.16 84.21 L214.69 84.63 L215.20 85.09 L215.70 85.60 L216.20 86.15 L216.68 86.75 L217.14 87.39 L217.59 88.07 L218.03 88.79 L218.45 89.55 L218.85 90.34 L219.24 91.16 L219.60 92.01 L219.94 92.89 L220.26 93.80 L220.55 94.73 L220.82 95.68 L221.06 96.64 L221.28 97.63 L221.46 98.62 L221.61 99.62 L221.74 100.63 L221.83 101.65Z" fill="#e4e4e4" fill-opacity="1" stroke="#000" stroke-opacity="0.95" stroke-width="0.85" stroke-linejoin="round"/>
<path d="M221.13 102.62 L221.15 103.57 L221.14 104.52 L221.09 105.46 L221.01 106.39 L220.89 107.31 L220.74 108.21 L220.56 109.10 L220.33 109.97 L220.08 110.81 L219.79 111.63 L219.46 112.43 L219.10 113.19 L218.70 113.93 L218.28 114.63 L217.82 115.29 L217.33 115.92 L216.82 116.51 L216.27 117.06 L215.70 117.57 L215.11 118.04 L214.49 118.46 L213.86 118.84 L213.21 119.16 L212.54 119.45 L211.86 119.68 L211.17 119.87 L210.47 120.00 L209.76 120.09 L209.06 120.13 L208.35 120.12 L207.65 120.06 L206.95 119.94 L206.26 119.78 L205.58 119.57 L204.91 119.32 L204.26 119.01 L203.62 118.66 L203.01 118.27 L202.41 117.83 L201.85 117.34 L201.31 116.82 L200.79 116.25 L200.31 115.65 L199.86 115.01 L199.44 114.33 L199.05 113.62 L198.70 112.88 L198.39 112.11 L198.11 111.31 L197.87 110.48 L197.66 109.64 L197.49 108.77 L197.36 107.88 L197.27 106.98 L197.22 106.07 L197.20 105.14 L197.21 104.21 L197.27 103.27 L197.35 102.32 L197.47 101.38 L197.62 100.44 L197.81 99.50 L198.02 98.57 L198.26 97.64 L198.53 96.73 L198.83 95.84 L199.15 94.96 L199.50 94.10 L199.86 93.26 L200.25 92.44 L200.65 91.65 L201.08 90.89 L201.52 90.16 L201.97 89.46 L202.44 88.79 L202.91 88.16 L203.40 87.57 L203.90 87.02 L204.41 86.51 L204.93 86.04 L205.45 85.61 L205.97 85.23 L206.50 84.89 L207.03 84.60 L207.57 84.36 L208.11 84.17 L208.64 84.02 L209.18 83.93 L209.72 83.88 L210.25 83.88 L210.78 83.94 L211.31 84.04 L211.83 84.19 L212.35 84.39 L212.86 84.64 L213.37 84.94 L213.87 85.28 L214.36 85.67 L214.85 86.10 L215.32 86.58 L215.78 87.10 L216.23 87.67 L216.67 88.27 L217.10 88.91 L217.51 89.58 L217.90 90.29 L218.28 91.04 L218.64 91.81 L218.98 92.61 L219.30 93.44 L219.60 94.29 L219.88 95.17 L220.13 96.06 L220.36 96.97 L220.56 97.89 L220.73 98.82 L220.87 99.76 L220.99 100.71 L221.07 101.67Z" fill="none" fill-opacity="1" stroke="#fff" stroke-opacity="0.9" stroke-width="0.7" stroke-linejoin="round"/>
<path d="M219.58 103.35 L219.59 104.18 L219.58 105.02 L219.54 105.84 L219.47 106.66 L219.37 107.46 L219.24 108.26 L219.07 109.04 L218.88 109.80 L218.65 110.54 L218.40 111.26 L218.11 111.96 L217.79 112.63 L217.45 113.27 L217.07 113.89 L216.67 114.47 L216.24 115.02 L215.79 115.54 L215.31 116.02 L214.81 116.47 L214.29 116.88 L213.75 117.25 L213.20 117.58 L212.62 117.87 L212.04 118.12 L211.44 118.32 L210.83 118.49 L210.22 118.61 L209.60 118.68 L208.98 118.72 L208.36 118.71 L207.74 118.65 L207.13 118.55 L206.52 118.41 L205.93 118.23 L205.34 118.00 L204.77 117.74 L204.21 117.43 L203.67 117.08 L203.15 116.69 L202.65 116.27 L202.18 115.81 L201.73 115.31 L201.30 114.78 L200.91 114.22 L200.54 113.63 L200.20 113.00 L199.89 112.35 L199.62 111.67 L199.37 110.97 L199.16 110.25 L198.98 109.51 L198.83 108.75 L198.72 107.97 L198.64 107.18 L198.59 106.38 L198.57 105.56 L198.59 104.74 L198.63 103.92 L198.71 103.09 L198.81 102.26 L198.95 101.43 L199.11 100.61 L199.30 99.79 L199.51 98.98 L199.75 98.18 L200.01 97.40 L200.29 96.62 L200.59 95.87 L200.91 95.13 L201.25 94.42 L201.61 93.72 L201.98 93.05 L202.36 92.41 L202.76 91.80 L203.17 91.21 L203.59 90.66 L204.02 90.14 L204.46 89.66 L204.90 89.21 L205.36 88.80 L205.81 88.42 L206.27 88.09 L206.74 87.79 L207.21 87.54 L207.68 87.32 L208.15 87.15 L208.62 87.03 L209.09 86.94 L209.56 86.90 L210.03 86.90 L210.49 86.95 L210.96 87.04 L211.42 87.17 L211.87 87.35 L212.32 87.57 L212.77 87.83 L213.21 88.13 L213.64 88.47 L214.06 88.85 L214.48 89.27 L214.88 89.73 L215.28 90.22 L215.66 90.75 L216.04 91.31 L216.40 91.91 L216.74 92.53 L217.08 93.18 L217.39 93.86 L217.69 94.57 L217.97 95.29 L218.23 96.04 L218.48 96.81 L218.70 97.59 L218.90 98.39 L219.07 99.20 L219.23 100.02 L219.35 100.84 L219.45 101.68 L219.53 102.51Z" fill="#000" fill-opacity="0.07" stroke="#111" stroke-opacity="0.8" stroke-width="0.55" stroke-linejoin="round"/>
<path d="M218.06 103.80 L218.08 104.52 L218.07 105.24 L218.03 105.95 L217.97 106.65 L217.88 107.34 L217.77 108.03 L217.63 108.70 L217.46 109.35 L217.27 109.99 L217.05 110.61 L216.80 111.21 L216.53 111.79 L216.23 112.34 L215.91 112.87 L215.56 113.37 L215.19 113.85 L214.80 114.30 L214.39 114.71 L213.96 115.10 L213.51 115.45 L213.05 115.77 L212.57 116.05 L212.08 116.30 L211.57 116.51 L211.06 116.69 L210.54 116.83 L210.01 116.93 L209.48 117.00 L208.94 117.03 L208.41 117.02 L207.88 116.97 L207.35 116.89 L206.83 116.77 L206.31 116.61 L205.81 116.41 L205.32 116.18 L204.84 115.92 L204.37 115.62 L203.93 115.29 L203.50 114.92 L203.09 114.53 L202.70 114.10 L202.33 113.64 L201.99 113.16 L201.68 112.65 L201.39 112.11 L201.12 111.55 L200.88 110.97 L200.67 110.36 L200.49 109.74 L200.33 109.10 L200.21 108.45 L200.11 107.78 L200.04 107.10 L200.00 106.41 L199.98 105.71 L200.00 105.00 L200.04 104.29 L200.10 103.58 L200.19 102.87 L200.31 102.15 L200.45 101.44 L200.61 100.74 L200.79 100.04 L200.99 99.36 L201.22 98.68 L201.46 98.01 L201.72 97.36 L202.00 96.73 L202.29 96.11 L202.60 95.52 L202.91 94.94 L203.25 94.39 L203.59 93.86 L203.94 93.36 L204.30 92.88 L204.67 92.44 L205.05 92.02 L205.43 91.63 L205.82 91.28 L206.22 90.96 L206.61 90.67 L207.01 90.41 L207.41 90.19 L207.82 90.01 L208.22 89.86 L208.63 89.76 L209.04 89.68 L209.44 89.65 L209.84 89.65 L210.24 89.69 L210.64 89.77 L211.04 89.88 L211.43 90.03 L211.82 90.22 L212.20 90.44 L212.58 90.70 L212.95 91.00 L213.31 91.33 L213.67 91.69 L214.02 92.08 L214.36 92.51 L214.69 92.96 L215.01 93.45 L215.32 93.96 L215.62 94.49 L215.91 95.05 L216.18 95.64 L216.44 96.24 L216.68 96.87 L216.91 97.51 L217.11 98.17 L217.30 98.85 L217.48 99.53 L217.63 100.23 L217.76 100.93 L217.87 101.65 L217.96 102.36 L218.02 103.08Z" fill="#000" fill-opacity="0.07" stroke="#111" stroke-opacity="0.8" stroke-width="0.55" stroke-linejoin="round"/>
<path d="M216.54 104.26 L216.56 104.86 L216.55 105.46 L216.52 106.05 L216.47 106.64 L216.40 107.22 L216.30 107.80 L216.18 108.36 L216.04 108.91 L215.88 109.44 L215.69 109.96 L215.49 110.46 L215.26 110.95 L215.01 111.41 L214.74 111.86 L214.45 112.28 L214.14 112.68 L213.81 113.05 L213.47 113.40 L213.11 113.72 L212.73 114.01 L212.34 114.28 L211.94 114.52 L211.53 114.73 L211.11 114.91 L210.68 115.06 L210.24 115.17 L209.80 115.26 L209.35 115.31 L208.90 115.34 L208.46 115.33 L208.01 115.29 L207.57 115.22 L207.13 115.12 L206.70 114.99 L206.28 114.82 L205.86 114.63 L205.46 114.41 L205.07 114.16 L204.70 113.88 L204.34 113.57 L204.00 113.24 L203.67 112.88 L203.37 112.50 L203.08 112.10 L202.81 111.67 L202.57 111.22 L202.35 110.75 L202.15 110.26 L201.97 109.75 L201.82 109.23 L201.69 108.70 L201.58 108.15 L201.50 107.59 L201.44 107.02 L201.41 106.44 L201.40 105.85 L201.41 105.26 L201.44 104.67 L201.49 104.07 L201.57 103.47 L201.67 102.87 L201.78 102.28 L201.92 101.69 L202.07 101.11 L202.24 100.53 L202.43 99.96 L202.63 99.41 L202.85 98.86 L203.08 98.33 L203.33 97.81 L203.58 97.31 L203.85 96.83 L204.13 96.37 L204.42 95.93 L204.71 95.50 L205.02 95.11 L205.33 94.73 L205.64 94.38 L205.96 94.06 L206.29 93.76 L206.62 93.49 L206.95 93.25 L207.29 93.03 L207.62 92.85 L207.96 92.70 L208.30 92.58 L208.64 92.48 L208.98 92.42 L209.32 92.39 L209.66 92.40 L209.99 92.43 L210.33 92.49 L210.66 92.59 L210.99 92.72 L211.31 92.87 L211.63 93.06 L211.95 93.28 L212.26 93.53 L212.57 93.80 L212.87 94.10 L213.16 94.43 L213.45 94.79 L213.72 95.17 L213.99 95.58 L214.25 96.00 L214.50 96.45 L214.74 96.92 L214.97 97.41 L215.18 97.92 L215.39 98.45 L215.58 98.98 L215.75 99.54 L215.91 100.10 L216.05 100.68 L216.18 101.26 L216.29 101.85 L216.38 102.45 L216.46 103.05 L216.51 103.65Z" fill="#000" fill-opacity="0.07" stroke="#111" stroke-opacity="0.8" stroke-width="0.55" stroke-linejoin="round"/>
<path d="M215.03 104.71 L215.04 105.19 L215.03 105.68 L215.01 106.16 L214.97 106.63 L214.91 107.10 L214.83 107.56 L214.74 108.02 L214.62 108.46 L214.49 108.89 L214.34 109.31 L214.18 109.72 L213.99 110.11 L213.79 110.48 L213.57 110.84 L213.34 111.18 L213.09 111.50 L212.83 111.80 L212.55 112.08 L212.26 112.34 L211.95 112.58 L211.64 112.80 L211.32 112.99 L210.98 113.16 L210.64 113.30 L210.29 113.42 L209.94 113.52 L209.58 113.59 L209.23 113.63 L208.86 113.65 L208.50 113.64 L208.14 113.61 L207.79 113.55 L207.43 113.47 L207.09 113.37 L206.75 113.24 L206.41 113.08 L206.09 112.90 L205.77 112.70 L205.47 112.47 L205.18 112.23 L204.91 111.96 L204.64 111.67 L204.40 111.36 L204.17 111.03 L203.95 110.69 L203.75 110.33 L203.58 109.95 L203.41 109.55 L203.27 109.14 L203.15 108.72 L203.04 108.29 L202.96 107.85 L202.89 107.40 L202.85 106.94 L202.82 106.47 L202.81 106.00 L202.82 105.52 L202.84 105.04 L202.89 104.56 L202.95 104.08 L203.03 103.59 L203.12 103.11 L203.23 102.64 L203.35 102.17 L203.49 101.70 L203.64 101.25 L203.81 100.80 L203.98 100.36 L204.17 99.93 L204.37 99.51 L204.57 99.11 L204.79 98.72 L205.01 98.35 L205.24 97.99 L205.48 97.65 L205.73 97.33 L205.98 97.02 L206.23 96.74 L206.49 96.48 L206.75 96.24 L207.02 96.02 L207.29 95.83 L207.56 95.66 L207.83 95.51 L208.10 95.39 L208.38 95.29 L208.65 95.21 L208.93 95.16 L209.20 95.14 L209.47 95.14 L209.74 95.17 L210.01 95.22 L210.28 95.30 L210.55 95.40 L210.81 95.53 L211.07 95.68 L211.32 95.85 L211.57 96.05 L211.82 96.27 L212.06 96.52 L212.30 96.79 L212.53 97.07 L212.75 97.38 L212.97 97.71 L213.18 98.05 L213.38 98.41 L213.57 98.79 L213.76 99.19 L213.93 99.60 L214.09 100.02 L214.25 100.46 L214.39 100.90 L214.52 101.36 L214.63 101.82 L214.74 102.29 L214.82 102.77 L214.90 103.25 L214.96 103.74 L215.00 104.22Z" fill="#000" fill-opacity="0.07" stroke="#111" stroke-opacity="0.8" stroke-width="0.55" stroke-linejoin="round"/>
<path d="M213.51 105.16 L213.52 105.53 L213.51 105.90 L213.50 106.26 L213.47 106.63 L213.42 106.98 L213.36 107.33 L213.29 107.68 L213.20 108.01 L213.10 108.34 L212.99 108.66 L212.86 108.97 L212.72 109.27 L212.57 109.55 L212.41 109.82 L212.23 110.08 L212.04 110.33 L211.84 110.56 L211.63 110.77 L211.40 110.97 L211.17 111.15 L210.94 111.31 L210.69 111.46 L210.44 111.59 L210.18 111.70 L209.91 111.79 L209.64 111.86 L209.37 111.91 L209.10 111.95 L208.82 111.96 L208.55 111.96 L208.28 111.93 L208.01 111.89 L207.74 111.83 L207.47 111.75 L207.21 111.65 L206.96 111.53 L206.71 111.39 L206.48 111.24 L206.25 111.07 L206.02 110.88 L205.81 110.67 L205.62 110.45 L205.43 110.22 L205.25 109.97 L205.09 109.71 L204.94 109.43 L204.80 109.14 L204.68 108.85 L204.57 108.54 L204.48 108.22 L204.40 107.89 L204.33 107.55 L204.28 107.21 L204.25 106.86 L204.23 106.50 L204.22 106.14 L204.23 105.78 L204.25 105.41 L204.28 105.05 L204.33 104.68 L204.39 104.31 L204.46 103.95 L204.54 103.59 L204.63 103.23 L204.74 102.88 L204.85 102.53 L204.98 102.19 L205.11 101.85 L205.25 101.53 L205.40 101.21 L205.56 100.90 L205.73 100.61 L205.90 100.32 L206.07 100.05 L206.25 99.79 L206.44 99.55 L206.63 99.32 L206.82 99.10 L207.02 98.91 L207.22 98.72 L207.42 98.56 L207.63 98.41 L207.83 98.28 L208.04 98.17 L208.25 98.07 L208.46 98.00 L208.66 97.94 L208.87 97.90 L209.08 97.88 L209.29 97.89 L209.49 97.91 L209.70 97.95 L209.90 98.01 L210.10 98.08 L210.30 98.18 L210.50 98.29 L210.69 98.43 L210.88 98.58 L211.07 98.75 L211.26 98.93 L211.44 99.14 L211.61 99.36 L211.78 99.59 L211.95 99.84 L212.11 100.10 L212.26 100.38 L212.41 100.66 L212.55 100.96 L212.68 101.28 L212.80 101.60 L212.92 101.93 L213.03 102.27 L213.12 102.61 L213.21 102.97 L213.29 103.32 L213.36 103.69 L213.41 104.05 L213.46 104.42 L213.49 104.79Z" fill="#000" fill-opacity="0.07" stroke="#111" stroke-opacity="0.8" stroke-width="0.55" stroke-linejoin="round"/>
<path d="M212.00 105.61 L212.00 105.87 L212.00 106.12 L211.99 106.37 L211.96 106.62 L211.93 106.86 L211.89 107.10 L211.84 107.34 L211.78 107.57 L211.72 107.79 L211.64 108.01 L211.55 108.22 L211.46 108.43 L211.35 108.62 L211.24 108.81 L211.12 108.99 L210.99 109.15 L210.85 109.31 L210.70 109.46 L210.55 109.59 L210.39 109.72 L210.23 109.83 L210.06 109.93 L209.89 110.02 L209.71 110.09 L209.53 110.15 L209.35 110.20 L209.16 110.24 L208.97 110.26 L208.79 110.27 L208.60 110.27 L208.41 110.25 L208.22 110.22 L208.04 110.18 L207.86 110.12 L207.68 110.06 L207.51 109.97 L207.34 109.88 L207.18 109.78 L207.02 109.66 L206.87 109.53 L206.72 109.39 L206.59 109.24 L206.46 109.08 L206.34 108.91 L206.23 108.73 L206.12 108.54 L206.03 108.34 L205.95 108.14 L205.87 107.93 L205.81 107.71 L205.75 107.48 L205.71 107.25 L205.68 107.02 L205.65 106.78 L205.64 106.53 L205.63 106.29 L205.64 106.04 L205.65 105.79 L205.67 105.54 L205.70 105.29 L205.74 105.03 L205.79 104.78 L205.85 104.54 L205.92 104.29 L205.99 104.05 L206.07 103.81 L206.15 103.58 L206.24 103.35 L206.34 103.12 L206.44 102.91 L206.55 102.70 L206.66 102.50 L206.78 102.30 L206.90 102.11 L207.02 101.94 L207.15 101.77 L207.28 101.61 L207.41 101.47 L207.55 101.33 L207.69 101.20 L207.83 101.09 L207.96 100.99 L208.11 100.90 L208.25 100.82 L208.39 100.76 L208.53 100.71 L208.68 100.67 L208.82 100.64 L208.96 100.63 L209.10 100.63 L209.24 100.65 L209.38 100.67 L209.52 100.71 L209.66 100.77 L209.80 100.83 L209.93 100.91 L210.07 101.00 L210.20 101.11 L210.32 101.22 L210.45 101.35 L210.57 101.49 L210.69 101.64 L210.81 101.80 L210.92 101.97 L211.03 102.15 L211.14 102.34 L211.24 102.53 L211.33 102.74 L211.42 102.95 L211.51 103.17 L211.59 103.40 L211.66 103.63 L211.73 103.87 L211.79 104.11 L211.84 104.36 L211.89 104.60 L211.93 104.86 L211.96 105.11 L211.98 105.36Z" fill="#000" fill-opacity="0.07" stroke="#111" stroke-opacity="0.8" stroke-width="0.55" stroke-linejoin="round"/>
<path d="M210.48 106.07 L210.48 106.20 L210.48 106.34 L210.47 106.48 L210.46 106.61 L210.45 106.74 L210.42 106.87 L210.40 107.00 L210.37 107.12 L210.33 107.24 L210.29 107.36 L210.24 107.48 L210.19 107.59 L210.13 107.69 L210.07 107.79 L210.00 107.89 L209.93 107.98 L209.86 108.06 L209.78 108.14 L209.70 108.22 L209.62 108.28 L209.53 108.34 L209.44 108.40 L209.34 108.44 L209.25 108.48 L209.15 108.52 L209.05 108.55 L208.95 108.56 L208.85 108.58 L208.75 108.58 L208.64 108.58 L208.54 108.57 L208.44 108.56 L208.34 108.53 L208.25 108.50 L208.15 108.47 L208.06 108.42 L207.97 108.37 L207.88 108.32 L207.79 108.25 L207.71 108.18 L207.63 108.11 L207.56 108.03 L207.49 107.94 L207.42 107.85 L207.36 107.75 L207.31 107.65 L207.26 107.54 L207.21 107.43 L207.17 107.32 L207.14 107.20 L207.11 107.08 L207.09 106.95 L207.07 106.82 L207.05 106.69 L207.05 106.56 L207.04 106.43 L207.05 106.30 L207.05 106.16 L207.07 106.03 L207.08 105.89 L207.10 105.75 L207.13 105.62 L207.16 105.49 L207.20 105.35 L207.23 105.22 L207.28 105.09 L207.32 104.97 L207.37 104.84 L207.43 104.72 L207.48 104.61 L207.54 104.49 L207.60 104.38 L207.66 104.28 L207.73 104.18 L207.80 104.08 L207.86 103.99 L207.93 103.91 L208.01 103.83 L208.08 103.75 L208.15 103.69 L208.23 103.63 L208.30 103.57 L208.38 103.52 L208.46 103.48 L208.53 103.45 L208.61 103.42 L208.69 103.40 L208.76 103.38 L208.84 103.38 L208.92 103.38 L208.99 103.38 L209.07 103.40 L209.14 103.42 L209.22 103.45 L209.29 103.49 L209.37 103.53 L209.44 103.58 L209.51 103.63 L209.58 103.70 L209.65 103.76 L209.71 103.84 L209.78 103.92 L209.84 104.01 L209.90 104.10 L209.96 104.20 L210.02 104.30 L210.07 104.40 L210.12 104.52 L210.17 104.63 L210.22 104.75 L210.26 104.87 L210.30 105.00 L210.34 105.13 L210.37 105.26 L210.40 105.39 L210.42 105.52 L210.44 105.66 L210.46 105.79 L210.47 105.93Z" fill="#000" fill-opacity="0.07" stroke="#111" stroke-opacity="0.8" stroke-width="0.55" stroke-linejoin="round"/>
<ellipse cx="208.5" cy="107.2" rx="0.9" ry="2.3" fill="#fff"/>
<ellipse cx="213.3" cy="103.9" rx="24.4" ry="22.1" transform="rotate(0 213.3 103.9)" stroke="#000" stroke-opacity="1" stroke-width="1.6" fill="none"/>
<text x="228" y="108.1" font-size="8.2" font-weight="normal" text-anchor="start" style="stroke-width:0.12px">79</text>
<rect x="134.3" y="28.2" width="104.0" height="103.89999999999999" fill="none" stroke="#555" stroke-width="0.9"/>
<path d="M141.30 132.40v1.8M148.04 132.40v1.1M151.98 132.40v1.1M154.77 132.40v1.1M156.94 132.40v1.1M158.72 132.40v1.1M160.21 132.40v1.1M161.51 132.40v1.1M162.66 132.40v1.1M163.68 132.40v1.8M170.42 132.40v1.1M174.36 132.40v1.1M177.16 132.40v1.1M179.32 132.40v1.1M181.10 132.40v1.1M182.60 132.40v1.1M183.89 132.40v1.1M185.04 132.40v1.1M186.06 132.40v1.8M192.80 132.40v1.1M196.74 132.40v1.1M199.54 132.40v1.1M201.71 132.40v1.1M203.48 132.40v1.1M204.98 132.40v1.1M206.27 132.40v1.1M207.42 132.40v1.1M208.44 132.40v1.8M215.18 132.40v1.1M219.12 132.40v1.1M221.92 132.40v1.1M224.09 132.40v1.1M225.86 132.40v1.1M227.36 132.40v1.1M228.65 132.40v1.1M229.80 132.40v1.1M230.82 132.40v1.8M134.00 125.10h-1.8M134.00 118.37h-1.1M134.00 114.43h-1.1M134.00 111.64h-1.1M134.00 109.47h-1.1M134.00 107.70h-1.1M134.00 106.21h-1.1M134.00 104.91h-1.1M134.00 103.77h-1.1M134.00 102.74h-1.8M134.00 96.01h-1.1M134.00 92.08h-1.1M134.00 89.28h-1.1M134.00 87.12h-1.1M134.00 85.35h-1.1M134.00 83.85h-1.1M134.00 82.55h-1.1M134.00 81.41h-1.1M134.00 80.39h-1.8M134.00 73.66h-1.1M134.00 69.72h-1.1M134.00 66.93h-1.1M134.00 64.76h-1.1M134.00 62.99h-1.1M134.00 61.49h-1.1M134.00 60.20h-1.1M134.00 59.05h-1.1M134.00 58.03h-1.8M134.00 51.30h-1.1M134.00 47.36h-1.1M134.00 44.57h-1.1M134.00 42.40h-1.1M134.00 40.63h-1.1M134.00 39.13h-1.1M134.00 37.84h-1.1M134.00 36.69h-1.1M134.00 35.67h-1.8" stroke="#444" stroke-width="0.55" fill="none"/>
</g>
<g id="flowD">
<path d="M45.7 282.5h0M38.4 265.6h0M63.7 267.9h0M36.0 267.7h0M35.3 281.9h0M35.9 269.7h0M34.5 273.7h0M34.8 273.3h0M39.8 267.4h0M54.9 262.6h0M54.9 264.9h0M60.6 279.0h0M63.2 272.4h0M31.4 281.4h0M33.9 270.9h0M40.1 267.6h0M66.1 270.3h0M59.7 280.6h0M66.3 265.4h0M51.1 262.0h0M40.9 266.8h0M33.7 274.8h0M41.0 265.5h0M53.4 263.9h0M33.6 269.7h0M62.6 270.5h0M43.4 265.6h0M35.7 269.8h0M63.3 269.0h0M61.8 279.6h0M64.2 269.3h0M35.9 266.7h0M51.7 283.1h0M53.1 263.3h0M42.6 282.0h0M36.1 267.9h0M40.8 265.8h0M61.9 274.1h0M51.6 264.3h0M35.4 269.9h0M49.4 265.1h0M49.8 264.1h0M51.1 282.2h0M34.3 276.4h0M48.5 283.0h0M53.5 283.7h0M36.0 280.6h0M58.9 278.8h0M47.9 286.5h0M47.7 285.4h0M42.2 266.5h0M34.0 272.2h0M54.0 281.1h0M61.5 275.1h0M57.1 263.7h0M51.9 263.9h0M49.1 262.6h0M54.9 260.6h0M46.7 284.4h0M56.0 264.1h0M34.0 278.0h0M46.8 282.9h0M39.9 281.9h0M62.5 261.1h0M33.5 274.4h0M64.9 267.4h0M62.9 276.7h0M61.9 271.0h0M34.7 265.8h0M43.0 265.4h0M46.5 264.3h0M55.1 280.2h0M58.0 264.5h0M61.9 261.6h0M46.9 282.7h0M35.3 280.8h0M48.0 263.1h0M61.4 272.8h0M35.3 278.2h0M66.3 267.9h0M57.1 279.9h0M41.9 264.8h0M39.0 281.6h0M63.4 266.3h0M47.7 284.1h0M54.5 281.5h0M34.9 276.3h0M57.3 264.7h0M56.4 264.5h0M36.6 278.1h0M55.4 264.2h0M51.0 283.7h0M31.6 267.7h0M63.3 266.5h0M49.5 282.2h0M42.9 285.1h0M34.8 278.4h0M45.1 284.6h0M39.7 264.2h0M34.9 273.2h0M45.4 264.4h0M60.2 277.1h0M62.5 263.2h0M34.2 275.6h0M57.6 282.3h0M47.5 264.9h0M48.7 284.5h0M45.6 285.5h0M57.9 264.7h0M57.1 282.0h0M63.9 272.7h0M43.0 282.1h0M46.2 264.6h0M54.5 285.8h0M63.0 276.3h0M62.3 272.5h0M50.5 264.8h0M40.2 285.7h0M32.3 279.4h0M44.8 265.8h0M40.8 281.8h0M45.1 265.9h0M63.9 269.1h0M51.9 284.3h0M40.6 284.2h0M61.7 273.2h0M64.7 266.2h0M58.3 277.0h0M54.6 280.8h0M49.2 264.9h0M62.9 261.3h0M60.7 274.4h0M52.3 281.5h0M35.4 268.5h0M39.5 267.4h0M64.4 265.7h0M38.5 269.1h0M59.9 280.0h0M57.7 282.9h0M36.0 263.9h0M52.0 281.5h0M38.7 266.1h0M44.2 262.4h0M38.3 267.3h0M43.8 265.5h0M59.8 276.6h0M53.6 264.4h0M58.4 278.0h0M38.5 268.1h0M50.8 284.1h0M33.7 274.5h0M61.2 264.1h0M63.5 260.2h0M66.0 268.3h0M52.6 264.1h0M40.2 265.4h0M60.4 261.9h0M56.9 280.3h0M61.7 279.6h0M66.7 268.3h0M55.2 263.7h0M33.0 271.5h0M42.4 282.7h0M66.1 275.2h0M45.3 288.8h0M42.6 282.3h0M62.7 271.6h0M57.4 262.6h0M64.4 265.3h0M64.8 272.4h0M63.0 273.5h0M34.4 275.5h0M42.9 283.3h0M43.1 265.6h0M32.8 277.1h0M34.0 282.1h0M44.5 265.8h0M62.8 268.0h0M42.3 266.5h0M35.3 280.4h0M47.8 284.5h0M63.0 263.2h0M48.5 264.6h0M44.9 283.3h0M61.5 261.9h0M55.0 280.5h0M55.8 281.1h0M39.7 282.9h0M59.7 262.3h0M40.3 266.6h0M53.1 264.8h0M62.3 268.6h0M61.7 275.1h0M63.6 263.7h0M34.2 270.5h0M40.4 264.2h0M62.2 276.2h0M56.5 281.7h0M34.8 271.4h0M34.9 282.9h0M40.4 267.6h0M60.0 276.6h0M63.8 273.0h0M37.2 268.9h0M50.1 284.0h0M48.2 261.9h0M44.0 266.2h0M53.8 263.6h0M61.8 275.1h0M34.3 271.2h0M59.5 274.9h0M47.4 284.7h0M32.3 274.2h0M43.0 282.3h0M37.3 268.4h0M48.1 265.6h0M38.4 264.1h0M57.7 279.5h0M61.0 278.7h0M59.9 277.8h0M52.9 264.8h0M30.5 274.0h0M41.7 264.7h0M34.5 274.5h0M52.7 264.8h0M61.9 275.6h0M47.0 266.0h0M46.3 282.2h0M55.5 264.7h0M45.2 283.3h0M52.5 263.8h0M44.1 266.4h0M62.3 278.3h0M47.7 283.2h0M45.2 283.8h0M32.3 277.5h0M63.7 267.8h0M53.6 263.4h0M35.7 268.6h0M30.2 274.5h0M58.6 277.7h0M44.9 288.9h0M64.3 267.5h0M34.7 276.8h0M40.8 282.0h0M63.1 271.8h0M45.1 285.6h0M60.7 264.1h0M32.8 277.1h0M33.0 279.5h0M36.9 280.1h0M41.5 284.1h0M41.9 281.7h0M40.3 282.8h0M36.2 269.8h0M33.7 270.4h0M59.8 276.9h0M34.4 275.4h0M61.7 262.7h0M56.8 263.0h0M52.4 283.3h0M46.2 282.4h0M47.6 265.1h0M47.7 265.5h0M57.6 278.4h0M36.5 283.4h0M39.1 267.8h0M51.8 264.7h0M42.2 264.5h0M48.8 264.3h0M63.6 267.7h0M63.6 266.7h0M47.2 286.3h0M63.8 266.6h0M46.4 282.4h0M61.3 275.6h0M59.5 260.8h0M65.4 269.8h0M54.1 280.9h0M57.0 262.6h0M56.2 281.1h0M62.6 269.4h0M35.7 269.8h0M37.5 268.5h0M62.7 269.1h0M37.3 284.4h0M41.2 266.7h0M55.1 283.4h0M48.9 287.3h0M39.7 263.2h0M63.8 266.0h0M35.1 277.3h0M62.6 276.9h0M43.8 282.3h0M35.6 263.9h0M58.2 282.0h0M51.6 285.0h0M45.2 284.2h0M65.6 264.8h0M31.9 271.1h0M51.0 281.5h0M40.7 266.9h0M43.1 263.4h0M46.9 263.6h0M56.0 261.4h0M42.5 264.0h0M58.2 279.1h0M45.5 264.3h0M46.2 262.9h0M38.9 268.8h0M50.5 281.4h0M46.2 282.1h0M47.9 264.7h0M58.7 264.1h0M57.1 281.3h0M57.6 262.5h0M36.2 270.9h0M47.7 264.8h0M59.7 264.4h0M56.1 281.8h0M55.5 261.2h0M56.2 264.5h0M36.4 269.4h0M40.5 288.2h0M43.7 265.2h0M44.4 264.4h0M32.7 274.6h0M39.3 264.7h0M55.7 260.9h0M60.0 261.6h0M62.3 272.1h0M62.6 274.2h0M59.9 277.7h0M63.2 268.6h0M64.8 267.9h0M62.3 276.5h0M60.3 263.6h0M63.4 272.1h0M61.4 274.2h0M52.3 284.3h0M53.1 282.6h0M43.7 266.1h0M63.2 269.7h0M41.0 267.0h0M38.7 267.9h0M67.6 267.1h0M44.3 265.2h0M62.6 263.4h0M45.8 263.2h0M39.5 267.0h0M36.8 266.3h0M60.8 263.5h0M52.4 281.4h0M36.0 279.2h0M54.9 282.2h0M49.9 265.1h0M34.6 274.5h0M63.8 268.3h0M35.2 280.2h0M64.7 270.5h0M38.4 280.7h0M61.8 271.8h0M66.7 270.0h0M38.8 283.7h0M40.0 265.1h0M56.0 279.7h0M47.1 260.7h0M51.5 264.5h0M34.0 268.5h0M31.6 271.1h0M37.3 268.2h0M60.3 263.3h0M46.9 282.6h0M63.2 262.6h0M55.1 263.4h0M34.2 274.8h0M62.4 274.2h0M44.6 264.4h0M38.8 267.2h0M40.3 266.4h0M35.1 279.9h0M40.1 266.0h0M55.4 281.1h0M45.9 263.0h0M34.6 281.3h0M50.2 263.5h0M45.9 264.6h0M60.2 274.7h0M56.3 263.6h0M59.7 275.9h0M54.6 284.7h0M37.4 267.1h0M41.4 266.5h0M37.7 269.4h0M55.8 262.7h0M61.5 270.8h0M57.4 279.5h0M47.6 263.4h0M39.3 283.3h0M32.1 276.2h0M61.3 272.4h0M56.6 279.9h0M46.6 288.9h0M37.1 265.2h0M56.9 264.2h0M66.0 273.8h0M62.0 274.5h0M63.9 271.6h0M59.3 263.8h0M33.3 269.3h0M39.9 282.1h0M65.4 266.2h0M57.2 264.2h0M53.5 262.0h0M58.8 263.3h0M67.0 271.4h0M42.2 266.7h0M42.0 284.5h0M60.3 276.1h0M43.7 282.2h0M50.4 264.5h0M34.7 278.5h0M47.2 287.8h0M52.4 281.3h0M57.8 277.9h0M42.5 264.5h0M49.8 264.3h0M61.6 272.9h0M59.7 263.1h0M50.3 283.0h0M46.4 283.2h0M61.5 273.6h0M39.8 280.9h0M40.9 266.7h0M61.2 264.2h0M48.1 264.0h0M59.8 279.3h0M36.9 270.2h0M40.9 266.7h0M41.2 267.1h0M53.0 281.0h0M64.2 273.9h0M39.1 268.3h0M51.3 262.0h0M58.4 263.4h0M42.0 284.5h0M59.8 278.4h0M46.7 262.7h0M64.2 269.8h0M65.8 269.3h0M65.3 267.8h0M46.7 283.9h0M65.0 267.8h0M55.9 280.4h0M40.5 282.2h0M63.0 263.0h0M54.2 280.2h0M59.3 263.5h0M60.8 263.5h0M64.0 269.7h0M63.4 265.3h0M55.0 263.8h0M49.6 283.9h0M52.9 281.4h0M57.1 282.0h0M37.6 282.0h0M38.0 281.1h0M61.6 275.5h0M66.4 266.4h0M55.3 282.2h0M35.8 268.9h0M60.8 262.4h0M32.6 275.5h0M38.9 266.0h0M68.0 268.9h0M62.4 269.6h0M49.4 283.4h0M62.4 261.2h0M34.0 269.6h0M61.1 278.1h0M37.0 283.7h0M64.4 268.2h0M48.1 283.2h0M49.6 283.3h0M63.3 274.0h0M31.1 270.8h0M63.9 270.4h0M39.5 283.2h0M57.0 279.7h0M65.3 271.0h0M34.8 284.9h0M62.1 271.4h0M51.2 262.7h0M63.6 261.7h0M36.7 282.1h0M54.7 264.2h0M61.5 261.6h0M51.9 263.8h0M62.5 270.3h0M64.2 269.7h0M43.3 266.5h0M64.1 272.6h0M54.3 264.7h0M63.7 269.9h0M53.1 288.5h0M37.6 284.5h0M50.5 282.7h0M59.3 277.6h0M49.6 263.8h0M60.9 273.2h0M47.5 265.2h0M63.5 274.5h0M62.0 263.2h0M47.0 263.4h0M33.2 274.9h0M46.9 285.1h0M63.2 273.2h0M62.8 271.2h0M65.4 269.5h0M35.4 281.1h0M57.4 263.9h0M40.5 266.6h0M62.3 261.5h0M43.7 266.2h0M60.2 276.7h0M40.4 282.7h0M40.2 284.1h0M36.3 281.1h0M34.5 280.2h0M59.9 277.1h0M39.1 267.8h0M64.2 272.4h0M46.6 262.6h0M45.6 283.3h0M61.7 273.9h0M66.6 268.1h0M63.2 267.2h0M52.9 281.6h0M53.8 263.4h0M35.1 283.0h0M60.2 260.0h0M33.4 277.3h0M42.0 285.8h0M63.9 274.9h0M66.5 266.0h0M49.5 264.7h0M36.6 268.6h0M43.0 264.8h0M49.9 263.4h0M32.9 271.7h0M32.7 274.1h0M41.3 283.8h0M47.8 264.9h0M40.1 282.6h0M30.2 272.1h0M39.7 282.5h0M64.2 270.4h0M39.8 266.9h0M50.8 282.2h0M53.4 282.6h0M58.2 263.4h0M61.6 271.3h0M44.8 285.2h0M44.2 266.2h0M35.8 266.1h0M34.8 271.4h0M53.1 261.4h0M60.9 263.1h0M62.0 262.2h0M44.8 285.8h0M46.3 264.5h0M50.5 283.0h0M47.9 284.0h0M34.9 279.4h0M43.3 265.9h0M37.7 268.0h0M59.1 280.1h0M35.3 265.6h0M49.4 283.3h0M49.1 281.5h0M64.7 266.3h0M49.5 265.2h0M42.7 283.5h0M58.7 263.0h0M63.6 275.3h0M65.5 265.6h0M51.8 285.7h0M50.1 264.4h0M34.0 274.1h0M34.8 271.3h0M48.4 284.4h0M54.1 285.2h0M60.6 273.8h0M33.7 268.7h0M49.5 283.9h0M35.4 268.7h0M36.5 270.7h0M50.8 283.4h0M56.2 264.0h0M47.8 265.5h0M54.8 265.4h0M63.8 262.1h0M64.3 267.7h0M63.8 276.9h0M52.8 258.1h0M61.7 274.7h0M61.5 274.9h0M47.8 283.9h0M34.4 275.7h0M37.1 267.8h0M34.7 268.7h0M54.9 280.7h0M33.7 275.6h0M60.9 263.8h0M38.9 267.3h0M50.5 264.1h0M52.5 262.0h0M47.3 261.1h0M62.2 278.2h0M34.1 276.9h0M57.0 262.9h0M34.3 278.1h0M60.6 273.4h0M63.4 273.3h0M38.9 266.3h0M62.2 274.7h0M46.4 285.0h0M37.5 269.1h0M62.9 270.9h0M54.8 280.7h0M39.1 267.5h0M33.3 273.1h0M32.5 276.3h0M34.0 272.1h0M45.3 264.1h0M62.3 269.7h0M57.3 278.3h0M51.3 283.5h0M52.5 263.5h0M40.9 266.6h0M55.0 263.9h0M67.4 266.3h0M62.0 260.9h0M37.2 280.7h0M45.7 284.7h0M46.7 265.7h0M57.1 279.3h0M45.4 264.0h0M47.3 263.1h0M37.1 267.9h0M65.7 265.7h0M56.1 279.9h0M60.2 277.5h0M62.5 271.5h0M66.7 265.7h0M60.1 280.1h0M54.8 264.6h0M45.4 265.3h0M52.2 284.2h0M34.6 274.0h0M45.3 264.2h0M46.5 265.5h0M46.7 284.1h0M60.7 277.4h0M57.3 279.5h0M43.4 285.2h0M36.9 283.5h0M46.3 282.8h0M36.3 279.1h0M54.5 281.0h0M34.1 275.8h0M34.1 282.9h0M38.0 282.8h0M34.5 276.9h0M65.0 266.6h0M60.3 263.8h0M53.8 286.2h0M54.5 281.5h0M43.2 266.5h0M56.5 281.8h0M61.9 261.2h0M34.2 277.6h0M62.2 274.7h0M33.8 278.2h0M40.7 265.6h0M56.5 279.2h0M49.0 282.6h0M48.9 285.2h0M63.4 271.9h0M60.4 274.9h0M49.1 265.3h0M47.8 260.9h0M57.6 262.2h0M35.5 271.4h0M67.1 272.9h0M44.2 283.9h0M67.2 270.9h0M59.8 277.7h0M44.7 265.3h0M46.6 262.9h0M57.5 263.1h0M48.6 282.8h0M35.1 280.8h0M64.3 271.2h0M47.3 283.1h0M40.0 281.2h0M43.2 262.4h0M61.5 275.5h0M35.6 282.2h0M49.0 285.0h0M52.4 282.0h0M60.5 274.6h0M42.4 282.1h0M56.2 263.2h0M55.5 280.3h0M32.2 271.5h0M44.2 264.9h0M55.9 263.3h0M47.9 263.5h0M34.3 273.1h0M49.4 283.6h0M32.0 273.4h0M36.8 270.2h0M35.2 285.0h0M51.1 284.1h0M64.0 267.6h0M47.7 284.0h0M34.1 277.1h0M35.3 269.1h0M49.4 282.5h0M59.7 264.4h0M50.3 285.0h0M63.1 262.5h0M60.7 278.5h0M60.9 277.7h0M39.9 266.6h0M40.3 266.5h0M34.9 269.5h0M63.9 269.9h0M57.2 264.0h0M62.4 262.9h0M59.7 264.2h0M62.3 262.1h0M61.4 262.2h0M64.5 268.2h0M57.9 263.0h0M48.7 282.5h0M39.7 267.5h0M53.8 261.8h0M39.2 268.5h0M38.7 266.8h0M35.3 283.5h0M49.1 282.1h0M63.4 269.0h0M35.1 277.6h0M59.6 277.9h0M34.0 279.4h0M62.1 276.1h0M59.7 276.5h0M60.9 274.8h0M47.7 287.3h0M60.3 279.4h0M60.6 275.6h0M41.8 283.4h0M60.8 274.0h0M42.0 283.0h0M35.7 278.5h0M60.8 274.8h0M41.9 284.0h0M62.5 263.3h0M63.4 261.5h0M33.2 275.3h0M53.6 283.0h0M61.1 262.4h0M50.3 284.0h0M32.4 278.9h0M46.3 282.2h0M63.2 269.0h0M39.8 284.3h0M42.3 265.8h0M51.4 264.2h0M41.5 283.4h0M42.9 265.3h0M54.5 262.5h0M65.1 276.0h0M33.9 272.1h0M34.1 281.0h0M35.4 278.8h0M42.1 264.6h0M37.8 280.3h0M33.2 275.0h0M48.2 260.2h0M56.2 262.6h0M54.4 260.6h0M50.1 264.2h0M51.7 283.1h0M51.5 262.5h0M45.3 283.9h0M65.5 265.7h0M63.7 269.3h0M40.2 283.9h0M62.3 272.3h0M48.1 265.3h0M56.1 263.9h0M55.4 262.0h0M50.8 265.3h0M53.0 285.3h0M44.9 264.0h0M61.8 274.3h0M63.1 262.3h0M35.9 271.0h0M61.2 274.8h0M62.6 268.9h0M34.5 270.6h0M64.3 264.7h0M40.8 284.1h0M51.4 282.9h0M37.7 267.5h0M61.1 261.1h0M53.0 261.1h0M38.0 281.4h0M38.5 268.5h0M58.6 264.0h0M55.3 264.9h0M64.9 272.8h0M50.5 284.1h0M56.4 264.0h0M50.4 264.2h0M40.1 283.3h0M63.1 273.6h0M38.4 268.8h0M48.6 263.2h0M62.2 275.6h0M39.8 263.7h0M50.6 260.2h0M44.1 264.1h0M63.9 263.7h0M50.5 265.3h0M50.9 282.4h0M58.3 280.7h0M63.0 268.8h0M57.4 263.1h0M52.7 282.2h0M68.3 268.2h0M50.5 264.1h0M46.3 265.4h0M57.4 262.9h0M63.6 271.4h0M37.5 282.5h0M57.5 279.8h0M52.0 264.8h0M37.6 282.1h0M55.1 264.8h0M52.0 263.3h0M51.3 264.1h0M61.1 260.6h0M50.2 282.4h0M48.2 283.7h0M40.6 267.8h0M50.1 285.0h0M38.6 267.8h0M41.4 283.7h0M62.5 275.9h0M63.5 263.6h0M59.3 263.4h0M66.0 266.7h0M42.8 284.9h0M40.3 267.2h0M47.1 264.8h0M57.9 279.5h0M42.7 284.3h0M62.4 262.3h0M41.2 283.6h0M65.4 269.5h0M35.8 268.3h0M37.1 265.5h0M52.3 281.1h0M65.9 265.3h0M32.1 274.4h0M45.1 283.2h0M48.7 283.5h0M49.5 284.5h0M59.0 262.8h0M34.9 277.5h0M45.3 265.4h0M35.3 279.8h0M62.6 270.4h0M39.5 268.2h0M35.1 269.3h0M65.5 273.7h0M61.7 262.5h0M61.3 274.5h0M58.8 264.1h0M44.7 282.8h0M36.5 270.3h0M60.1 262.1h0M44.2 282.9h0M33.6 269.2h0M51.8 281.3h0M36.1 271.5h0M42.5 266.0h0M48.7 281.8h0M45.9 266.0h0M51.5 283.5h0M37.4 267.5h0M52.6 260.7h0M54.8 264.0h0M33.9 271.8h0M49.2 283.9h0M63.4 274.4h0M40.7 264.9h0M36.2 266.1h0M58.8 278.6h0M57.5 264.6h0M59.9 263.0h0M55.1 265.6h0M36.0 269.8h0M33.8 268.2h0M62.2 259.7h0M61.4 271.1h0M45.5 265.9h0M48.8 264.9h0M63.2 260.1h0M35.4 279.8h0M48.6 282.8h0M57.2 264.7h0M47.0 263.8h0M33.6 282.1h0M65.9 264.9h0M57.1 260.2h0M61.4 280.9h0M38.9 267.9h0M53.8 262.9h0M65.0 269.8h0M53.6 261.3h0M44.3 281.7h0M50.2 282.4h0M61.6 273.5h0M67.1 266.9h0M31.7 271.8h0M33.5 273.5h0M58.6 264.5h0M49.4 265.0h0M41.6 283.8h0M37.9 269.1h0M63.5 274.8h0M33.3 269.7h0M60.2 277.2h0M53.9 282.0h0M51.2 285.4h0M49.7 263.7h0M33.5 278.6h0M50.4 265.3h0M39.8 282.2h0M60.8 263.7h0M38.4 268.9h0M63.1 271.3h0M58.1 263.0h0M35.6 266.9h0M61.3 274.3h0M35.3 282.2h0M36.7 269.6h0M36.1 278.0h0M58.8 278.0h0M37.5 281.7h0M56.4 280.2h0M53.7 282.5h0M53.7 283.7h0M32.0 278.8h0M42.0 264.9h0M41.5 261.2h0M48.6 265.2h0M47.8 283.4h0M40.1 281.2h0M52.1 281.3h0M63.6 268.9h0M51.5 288.0h0M48.4 264.9h0M37.8 268.7h0M56.2 279.9h0M62.8 260.2h0M38.1 266.3h0M42.3 265.5h0M56.1 262.0h0M38.4 282.2h0M33.9 276.1h0M51.1 283.7h0M66.1 267.7h0M33.4 276.4h0M65.7 265.3h0M66.1 265.4h0M35.0 274.6h0M44.8 261.1h0M43.1 286.4h0M34.9 266.1h0M37.2 281.6h0M62.3 271.1h0M51.1 265.5h0M64.1 268.7h0M42.8 283.5h0M46.5 285.7h0M63.5 277.7h0M44.6 263.9h0M39.0 283.3h0M40.6 282.4h0M32.9 268.8h0M42.9 266.4h0M57.5 264.7h0M65.4 268.1h0M47.5 283.8h0M38.0 268.2h0M62.3 269.7h0M38.1 280.2h0M42.8 265.7h0M34.9 270.7h0M57.0 264.2h0M54.9 261.4h0M32.2 274.8h0M40.8 286.7h0M48.3 263.9h0M64.8 271.9h0M33.5 274.6h0M38.7 267.9h0M43.0 286.0h0M63.2 267.5h0M59.1 281.5h0M34.2 276.7h0M56.2 282.8h0M35.3 272.1h0M46.2 262.5h0M54.8 284.7h0M50.8 263.5h0M41.4 283.2h0M46.2 282.5h0M35.1 280.3h0M63.3 270.8h0M64.1 267.9h0M38.5 281.9h0M60.1 279.3h0M54.7 281.5h0M32.8 269.1h0M59.9 278.0h0M52.0 262.1h0M46.1 264.5h0M32.9 273.8h0M51.3 285.6h0M62.4 272.4h0M33.6 278.8h0M42.2 284.7h0M60.5 274.0h0M57.1 262.4h0M41.0 264.8h0M35.4 279.4h0M61.4 263.2h0M53.7 262.8h0M65.8 268.1h0M61.2 274.3h0M44.3 265.0h0M62.3 261.7h0M62.5 269.5h0M46.3 282.9h0M47.9 264.8h0M67.0 266.0h0M60.8 264.3h0M56.2 262.0h0M34.9 269.7h0M64.9 266.3h0M37.1 267.3h0M39.6 281.2h0M34.9 270.9h0M62.6 263.7h0M56.7 281.2h0M61.0 277.5h0M58.6 282.1h0M52.2 281.6h0M43.9 283.8h0M52.3 282.1h0M60.5 277.7h0M41.2 283.6h0M46.2 266.2h0M56.7 262.6h0M36.4 268.8h0M63.4 270.3h0M59.7 280.5h0M63.8 267.2h0M57.8 278.6h0M45.7 264.5h0M46.0 283.4h0M55.2 263.7h0M57.1 264.7h0M61.9 261.1h0M39.6 281.7h0M50.5 283.8h0M57.7 264.6h0M52.2 260.4h0M33.2 268.7h0M32.0 271.0h0M38.7 267.1h0M62.0 272.7h0M51.9 281.6h0M45.0 264.1h0M65.3 266.0h0M54.7 281.8h0M56.4 261.8h0M62.1 261.7h0M42.2 283.2h0M36.2 279.9h0M35.1 272.4h0M61.0 274.7h0M63.0 269.2h0M62.8 270.9h0M33.2 279.1h0M63.0 267.7h0M37.9 268.4h0M45.7 265.6h0M50.3 264.5h0M55.8 262.2h0M35.0 281.7h0M35.0 278.0h0M53.1 282.5h0M65.0 267.0h0M35.3 269.9h0M62.3 272.6h0M41.9 281.7h0M48.0 264.4h0M60.4 275.1h0M53.1 264.9h0M63.8 268.6h0M66.6 271.9h0M41.3 267.8h0M48.7 283.3h0M47.9 265.6h0M50.5 265.3h0M36.6 281.5h0M48.2 284.7h0M35.5 278.4h0M59.1 263.0h0M37.1 281.5h0M60.4 260.8h0M35.3 277.8h0M61.4 264.1h0M46.7 265.3h0M64.5 272.0h0M44.3 283.0h0M58.7 263.1h0M35.4 270.8h0M46.2 283.5h0M48.9 281.8h0M42.8 283.1h0M51.4 262.6h0M64.2 265.0h0M37.0 284.6h0M35.3 279.9h0M53.0 282.1h0M40.2 266.6h0M53.4 281.4h0M37.7 281.2h0M64.2 269.1h0M39.9 268.2h0M37.5 282.7h0M56.9 262.8h0M61.4 276.3h0M56.2 262.9h0M61.3 263.5h0M37.5 268.7h0M45.5 283.4h0M44.9 284.9h0M63.6 268.5h0M54.0 261.7h0M62.4 274.3h0M47.5 284.2h0M33.5 272.4h0M58.8 261.7h0M44.0 263.4h0M37.5 269.0h0M52.3 282.9h0M65.3 273.2h0M45.7 282.7h0M54.3 261.9h0M45.9 263.7h0M59.5 261.7h0M59.1 264.3h0M36.2 269.7h0M41.6 267.6h0M55.3 280.4h0M57.3 264.4h0M40.1 283.2h0M53.3 282.7h0M58.7 279.2h0M38.4 283.9h0M52.3 282.0h0M49.3 284.7h0M34.5 274.9h0M35.3 279.6h0M40.6 284.1h0M49.0 285.7h0M46.4 264.4h0M40.7 264.7h0M32.0 275.9h0M47.8 284.2h0M59.3 262.6h0M54.3 281.6h0M31.7 277.3h0M45.8 282.5h0M55.4 261.7h0M40.6 266.1h0M64.1 269.8h0M50.6 262.7h0M49.1 263.5h0M57.7 282.9h0M61.3 277.1h0M48.4 262.1h0M58.9 259.9h0M66.6 267.8h0M62.5 275.3h0M63.8 266.5h0M41.5 264.5h0M52.6 264.9h0M36.2 278.8h0M61.7 274.2h0M62.3 275.0h0M54.1 264.5h0M44.2 284.7h0M43.3 265.8h0M52.2 263.4h0M62.1 263.8h0M48.9 263.0h0M60.4 263.2h0M59.5 263.6h0M49.7 263.6h0M53.9 283.3h0M56.0 265.2h0M34.3 267.5h0M60.7 263.9h0M54.1 281.4h0M37.0 267.3h0M37.2 280.9h0M36.8 268.0h0M60.2 274.1h0M57.9 264.4h0M64.1 267.1h0M63.5 262.1h0M58.5 281.6h0M54.6 261.7h0M56.0 262.1h0M57.5 261.9h0M42.2 282.9h0M32.7 277.9h0M48.9 263.2h0M40.5 282.8h0M38.6 266.5h0M33.7 273.8h0M56.5 280.2h0M56.8 281.1h0M46.0 283.7h0M33.9 269.8h0M63.1 269.8h0M58.0 264.3h0M36.9 283.9h0M59.9 262.6h0M61.8 263.3h0M62.5 270.7h0M53.0 262.0h0M46.7 265.3h0M51.2 264.6h0M56.8 281.8h0M44.9 264.9h0M58.6 279.0h0M47.9 261.9h0M50.8 264.2h0M34.9 277.0h0M48.7 283.0h0M38.1 265.2h0M50.4 282.2h0M31.4 277.6h0M54.2 263.0h0M58.6 278.0h0M63.5 271.7h0M63.8 267.4h0M34.1 277.7h0M62.8 263.5h0M62.5 263.1h0M54.1 265.4h0M33.3 272.7h0M35.5 277.9h0M46.7 284.2h0M61.0 260.4h0M51.2 263.5h0M61.9 273.3h0M47.7 266.2h0M60.6 275.7h0M46.9 283.7h0M58.0 277.8h0M39.3 282.4h0M44.0 264.6h0M42.5 266.6h0M46.6 263.4h0M32.7 278.4h0M63.0 270.0h0M35.5 271.9h0M43.5 282.9h0M34.6 274.3h0M35.1 275.7h0M47.8 284.6h0M43.7 264.9h0M39.2 265.2h0M62.1 277.8h0M38.2 283.4h0M53.1 281.7h0M36.2 280.7h0M49.8 285.2h0M57.4 281.3h0M34.8 277.8h0M60.5 280.6h0M56.2 279.4h0M54.9 264.7h0M45.0 282.3h0M57.9 262.9h0M34.4 273.8h0M43.6 266.5h0M63.4 260.8h0M53.8 281.6h0M64.1 281.8h0M34.6 279.6h0M61.1 272.5h0M34.3 278.8h0M32.8 274.0h0M46.5 265.9h0M61.7 276.5h0M44.6 262.2h0M50.1 263.1h0M63.3 269.5h0M48.9 265.2h0M50.6 264.7h0M54.5 280.5h0M33.8 270.6h0M45.6 283.6h0M37.8 283.2h0M56.9 281.3h0M33.4 276.0h0M50.7 282.6h0M38.7 281.3h0M59.4 278.2h0M60.3 273.9h0M34.0 273.9h0M34.7 282.3h0M52.4 265.3h0M57.1 261.8h0M51.9 265.1h0M38.3 280.7h0M41.6 266.2h0M35.2 272.8h0M57.3 262.7h0M33.5 275.9h0M61.9 270.5h0M33.7 273.6h0M45.0 282.9h0M63.9 265.9h0M57.0 281.1h0M60.1 274.6h0M63.0 276.0h0M35.7 266.1h0M36.4 283.3h0M53.1 281.7h0M33.3 269.3h0M54.3 260.5h0M46.8 285.4h0M51.9 263.2h0M37.8 281.4h0M40.7 264.8h0M60.4 262.9h0M36.8 268.3h0M50.1 264.4h0M33.8 280.5h0M43.5 262.6h0M62.0 263.6h0M66.0 268.0h0M63.0 272.8h0M40.1 281.9h0M55.2 282.8h0M60.2 279.0h0M50.1 281.5h0M54.5 261.1h0M47.9 283.1h0M58.5 262.4h0M58.8 280.1h0M59.5 263.2h0M33.2 274.2h0M51.0 285.9h0M44.7 261.8h0M56.6 260.7h0M57.8 280.5h0M35.0 273.8h0M57.2 286.2h0M61.9 272.5h0M35.0 273.0h0M35.2 268.1h0M45.1 262.0h0M62.1 263.2h0M63.8 272.2h0M33.2 274.8h0M32.9 272.6h0M63.3 263.5h0M55.8 261.7h0M51.8 262.3h0M61.4 263.6h0M63.9 272.0h0M58.2 279.6h0M43.1 264.4h0M41.9 282.4h0M62.9 270.4h0M59.8 277.6h0M31.6 275.0h0M35.3 268.7h0M55.9 280.6h0M36.3 280.7h0M33.5 276.9h0M54.7 281.1h0M58.0 262.7h0M35.2 278.7h0M35.0 268.9h0M61.5 263.9h0M63.5 269.7h0M41.9 283.0h0M56.9 261.6h0M38.3 282.8h0M62.2 272.2h0M63.0 270.6h0M39.1 269.2h0M54.5 280.4h0M66.2 265.7h0M51.7 265.5h0M60.2 263.2h0M38.7 266.6h0M61.6 273.6h0M34.8 278.4h0M58.5 262.8h0M55.2 284.1h0M61.9 269.8h0M34.3 282.0h0M52.2 282.0h0M32.0 271.8h0M52.2 281.8h0M43.1 264.0h0M47.7 262.3h0M43.5 283.5h0M57.2 284.8h0M65.5 265.4h0M52.2 264.0h0M47.7 265.2h0M63.4 274.5h0M54.2 281.6h0M40.1 265.9h0M60.2 281.8h0M63.4 266.1h0M64.7 264.7h0M33.3 275.4h0M45.4 264.6h0M55.9 262.4h0M49.4 264.4h0M53.3 262.5h0M40.6 285.0h0M54.7 262.3h0M56.9 263.0h0M37.2 268.0h0M41.4 265.0h0M34.6 274.5h0M47.1 266.0h0M65.0 270.4h0M59.0 278.5h0M58.4 264.1h0M55.5 264.5h0M34.3 271.7h0M45.9 284.3h0M47.8 262.5h0M57.9 263.5h0M50.6 282.4h0M42.8 263.5h0M56.4 264.0h0M40.8 283.6h0M62.9 264.0h0M41.7 266.5h0M55.9 280.3h0M62.6 261.9h0M59.5 278.9h0M62.3 263.5h0M41.9 266.3h0M59.4 275.1h0M50.6 282.4h0M52.5 281.3h0M49.0 264.2h0M58.2 263.3h0M35.7 277.8h0M49.0 263.4h0M41.6 263.9h0M64.6 266.0h0M43.4 284.1h0M52.3 282.0h0M33.4 273.9h0M63.0 259.7h0M41.5 285.5h0M62.1 262.8h0M57.3 284.3h0M64.9 266.0h0M34.3 270.5h0M63.4 263.1h0M36.7 270.3h0M39.7 265.9h0M53.0 265.5h0M49.1 281.8h0M59.0 277.4h0M30.7 277.3h0M52.0 282.6h0M44.7 283.6h0M50.0 285.2h0M53.6 281.6h0M65.9 265.7h0M48.2 264.1h0M35.9 278.8h0M66.0 269.1h0M59.4 275.9h0M64.4 270.3h0M60.4 262.2h0M35.3 267.9h0M62.0 271.1h0M35.4 278.9h0M51.5 283.2h0M55.3 283.4h0M56.3 262.9h0M37.6 284.4h0M41.8 282.8h0M60.5 259.9h0M65.1 267.4h0M33.1 276.9h0M35.5 279.2h0M39.1 267.6h0M31.8 274.7h0M65.2 268.1h0M40.8 267.2h0M41.7 284.0h0M60.2 276.7h0M61.8 272.1h0M36.7 279.1h0M62.9 271.3h0M64.2 268.0h0M34.6 272.6h0M44.5 282.4h0M54.4 261.0h0M54.8 280.7h0M57.4 280.3h0M61.6 280.1h0M43.4 266.2h0M59.7 263.2h0M50.0 264.9h0M61.9 270.6h0M57.3 282.5h0M56.1 263.6h0M53.3 263.7h0M54.4 261.0h0M39.9 267.6h0M52.4 283.6h0M36.3 278.7h0M43.2 284.0h0M62.5 273.1h0M58.6 262.3h0M62.7 269.8h0M43.8 265.7h0M58.7 281.6h0M57.1 264.2h0M35.2 278.9h0M49.6 265.0h0M34.2 271.3h0M43.2 266.1h0M49.6 284.0h0M63.8 268.6h0M37.5 281.8h0M64.7 266.3h0M62.5 269.4h0M42.7 262.9h0M50.1 283.7h0M34.7 274.8h0M38.7 267.8h0M38.9 283.6h0M56.9 280.9h0M62.6 272.8h0M45.8 264.7h0M39.1 267.9h0M55.3 283.5h0M40.2 267.3h0M61.6 263.4h0M48.3 283.9h0M64.3 270.5h0M47.0 283.7h0M52.2 283.2h0M58.3 260.7h0M48.2 286.5h0M65.2 267.7h0M41.7 282.8h0M55.4 280.5h0M47.0 264.7h0M61.1 277.3h0M53.7 282.5h0M44.7 265.5h0M57.0 264.6h0M38.2 267.0h0M63.2 263.6h0M50.0 286.7h0M60.5 263.6h0M32.2 268.5h0M64.8 266.2h0M52.0 283.3h0M40.4 265.0h0M55.7 282.6h0M49.0 284.1h0M34.6 278.9h0M41.1 264.7h0M41.9 263.5h0M43.2 283.0h0M38.0 282.7h0M63.4 273.6h0M58.9 277.8h0M31.6 275.3h0M65.0 265.4h0M52.3 265.3h0M43.0 263.0h0M50.0 282.2h0M41.8 285.4h0M60.3 275.5h0M42.8 263.0h0M39.8 281.4h0M62.3 270.2h0M62.1 263.3h0M57.0 262.8h0M44.2 284.2h0M34.3 274.5h0M69.3 266.4h0M40.2 284.0h0M61.7 273.4h0M32.0 272.7h0M38.3 266.1h0M58.0 264.3h0M55.1 282.7h0M47.7 263.7h0M46.3 264.0h0M49.6 283.6h0M49.3 283.7h0M59.2 277.2h0M34.0 278.2h0M49.2 262.0h0M56.7 280.5h0M38.8 265.7h0M49.1 286.0h0M62.4 261.2h0M56.5 280.2h0M61.8 277.7h0M50.8 262.4h0M35.6 278.5h0M64.6 269.8h0M31.8 276.8h0M60.1 262.3h0M37.2 268.8h0M37.2 268.1h0M33.0 276.5h0M52.9 262.6h0M57.9 277.1h0M61.9 263.8h0M50.2 261.9h0M55.8 264.1h0M54.5 282.1h0M54.2 263.4h0M39.7 266.6h0M54.7 261.6h0M39.5 265.4h0M65.1 268.2h0M61.5 262.8h0M43.5 265.6h0M60.8 275.4h0M40.1 267.9h0M34.5 280.1h0M64.2 265.7h0M47.5 282.2h0M58.2 260.2h0M40.4 262.1h0M61.9 274.7h0M57.5 279.0h0M39.3 281.9h0M64.5 272.0h0M44.2 265.3h0M45.6 284.6h0M53.5 264.4h0M37.5 266.4h0M43.3 263.6h0M49.5 284.4h0M58.8 277.9h0M63.6 268.9h0M50.7 262.5h0M61.9 274.4h0M38.5 268.5h0M40.9 283.0h0M58.2 278.5h0M42.3 266.5h0M59.6 264.0h0M63.2 270.1h0M34.9 276.6h0M41.1 282.9h0M43.7 282.4h0M64.5 272.7h0M51.7 263.3h0M41.1 267.0h0M66.1 271.4h0M56.7 261.5h0M40.9 266.8h0M59.3 263.2h0M50.5 262.4h0M57.4 264.0h0M36.8 279.5h0M53.3 263.3h0M50.0 282.1h0M57.8 278.4h0M38.4 268.0h0M57.9 263.0h0M44.5 282.4h0M63.2 267.6h0M35.7 268.8h0M50.4 261.2h0M65.3 267.0h0M60.5 263.1h0M49.4 262.1h0M39.7 283.3h0M48.6 283.5h0M43.5 266.0h0M45.3 264.3h0M45.9 264.7h0M34.4 274.8h0M48.4 282.6h0M65.3 272.3h0M51.6 263.6h0M52.8 261.9h0M59.1 277.1h0M40.5 266.9h0M40.5 267.4h0M56.1 280.6h0M45.4 282.7h0M50.2 282.3h0M47.0 264.7h0M64.9 267.3h0M48.2 263.5h0M37.1 280.4h0M65.9 265.8h0M42.2 266.4h0M62.4 262.5h0M44.3 266.5h0M49.9 283.1h0M34.1 272.1h0M40.9 284.7h0M37.7 281.4h0M58.5 280.8h0M58.3 262.7h0M43.1 265.8h0M35.1 283.1h0M54.5 264.4h0M35.9 268.7h0M57.8 281.7h0M60.9 264.4h0M61.6 262.8h0M41.7 265.3h0M49.1 263.3h0M43.2 265.5h0M39.5 282.6h0M57.5 279.4h0M49.6 264.0h0M40.1 282.7h0M56.2 264.1h0M36.9 284.0h0M34.1 276.4h0M62.9 269.0h0M53.7 281.2h0M40.7 285.2h0M52.7 265.0h0M33.1 272.1h0M66.1 267.5h0M52.9 281.6h0M59.5 277.1h0M61.2 264.1h0M50.3 283.0h0M40.3 281.5h0M47.0 283.1h0M33.0 270.9h0M64.5 270.0h0M37.5 268.6h0M55.0 263.6h0M50.0 282.2h0M40.9 265.1h0M44.9 282.4h0M44.6 285.0h0M37.9 283.0h0M34.3 276.6h0M54.2 262.8h0M54.4 281.2h0M42.3 282.0h0M62.9 274.2h0M34.0 278.0h0M59.3 277.4h0M63.7 266.6h0M60.2 276.0h0M34.7 277.0h0M54.4 263.3h0M63.1 272.1h0M63.8 267.9h0M66.9 273.2h0M45.3 265.8h0M61.4 273.2h0M43.4 284.0h0M36.9 282.0h0M49.9 264.1h0M47.7 259.6h0M62.4 263.4h0M53.3 283.6h0M34.6 276.7h0M47.9 265.9h0M55.4 282.8h0M38.1 266.5h0M65.7 267.8h0M59.6 278.2h0M63.6 264.0h0M54.7 264.2h0M33.5 272.0h0M45.1 285.0h0M59.3 262.8h0M35.4 279.2h0M47.8 265.2h0M52.3 284.1h0M57.0 261.7h0M63.2 269.9h0M63.1 270.1h0M61.1 273.8h0M57.8 280.7h0M62.1 263.5h0M43.2 283.3h0M55.4 283.4h0M60.7 264.1h0M64.2 268.0h0M56.8 279.6h0M45.5 285.0h0M36.0 268.9h0M67.1 267.5h0M35.9 269.5h0M58.3 278.6h0M55.9 263.5h0M61.6 272.0h0M50.2 283.5h0M62.1 262.3h0M62.8 273.6h0M32.6 272.9h0M64.1 262.7h0M48.4 265.7h0M60.7 274.4h0M50.6 262.1h0M39.6 281.5h0M53.6 263.6h0M37.0 280.4h0M35.1 278.8h0M63.8 278.1h0M56.1 281.1h0M49.2 287.4h0M51.0 264.1h0M39.7 266.5h0M34.0 275.6h0M47.0 265.7h0M36.9 281.7h0M36.2 281.2h0M46.4 264.6h0M56.9 263.2h0M56.5 264.2h0M41.9 266.2h0M61.0 274.5h0M61.1 274.5h0M62.9 271.2h0M39.5 282.2h0M56.7 262.6h0M54.4 283.6h0M63.0 276.1h0M43.2 264.5h0M56.7 279.9h0M51.9 281.0h0M49.6 265.4h0M51.9 263.0h0M31.2 278.6h0M33.4 270.1h0M61.3 263.9h0M59.7 264.1h0M57.6 264.5h0M32.2 277.2h0M35.1 278.7h0M50.4 264.0h0M56.0 282.8h0M50.9 263.1h0M52.7 263.0h0M57.8 262.3h0M42.3 288.5h0M34.3 281.3h0M43.7 282.6h0M35.6 271.9h0M48.5 262.3h0M35.2 269.8h0M65.2 267.8h0M44.4 264.7h0M60.1 260.8h0M62.8 274.0h0M60.3 260.5h0M45.2 285.2h0M36.7 279.3h0M57.7 278.9h0M32.9 275.0h0M32.6 269.8h0M37.7 280.0h0M32.7 277.7h0M46.4 284.4h0M62.7 262.5h0M34.5 276.0h0M59.7 277.2h0M34.6 270.8h0M33.9 278.2h0M48.6 284.5h0M52.9 263.6h0M34.9 273.7h0M59.6 263.4h0M46.9 262.6h0M63.0 273.3h0M36.2 280.2h0M60.2 280.6h0M47.9 282.9h0M57.5 264.1h0M47.6 283.2h0M45.0 265.0h0M52.8 282.8h0M65.8 266.0h0M34.3 276.5h0M39.1 282.4h0M64.9 268.7h0M53.7 262.9h0M45.9 264.5h0M64.0 269.6h0M60.9 259.7h0M60.0 276.0h0M64.4 270.1h0M47.0 282.8h0M54.7 263.8h0M38.0 282.2h0M39.1 283.4h0M31.3 271.9h0M59.8 276.7h0M65.0 265.3h0M41.4 282.6h0M48.9 265.5h0M51.2 284.7h0M55.3 282.0h0M59.4 277.2h0M36.3 267.4h0M33.9 273.3h0M54.7 264.8h0M34.8 272.1h0M37.8 265.2h0M42.2 261.4h0M52.1 285.8h0M32.6 277.9h0M63.4 262.9h0M62.8 276.2h0M37.5 269.0h0M38.1 281.4h0M63.9 265.7h0M41.8 266.6h0M57.6 278.0h0M49.4 282.0h0M48.6 265.4h0M52.8 282.0h0M40.0 266.5h0M61.8 273.2h0M39.4 267.3h0M35.5 270.6h0M61.1 263.3h0M40.4 266.7h0M63.3 263.0h0M62.4 277.7h0M68.1 265.8h0M49.9 284.6h0M45.5 285.8h0M43.1 264.5h0M52.1 263.4h0M49.7 282.4h0M60.6 263.6h0M37.1 269.1h0M57.2 263.6h0M34.0 278.5h0M33.2 280.1h0M40.8 265.6h0M50.1 264.6h0M58.2 261.0h0M34.5 281.0h0M46.9 263.6h0M57.8 272.4h0M69.2 255.3h0M67.7 260.4h0M61.3 269.7h0M59.9 274.6h0M77.7 250.1h0M67.1 263.1h0M64.6 261.7h0M67.1 255.9h0M57.8 266.8h0M77.0 250.3h0M72.2 253.3h0M65.5 267.7h0M74.9 254.1h0M68.0 258.3h0M69.0 262.6h0M70.5 257.8h0M81.3 247.2h0M56.4 269.9h0M58.3 271.7h0M65.1 261.1h0M63.2 263.7h0M70.5 259.2h0M78.5 251.1h0M69.9 257.1h0M66.6 261.1h0M73.3 251.7h0M76.4 249.9h0M83.2 243.8h0M73.4 251.0h0M81.9 244.2h0M54.9 267.7h0M78.3 248.6h0M61.4 268.7h0M63.6 264.4h0M83.9 242.4h0M82.6 243.0h0M63.8 258.4h0M79.3 247.4h0M71.2 259.3h0M60.4 265.6h0M58.6 268.2h0M66.0 259.6h0M62.7 260.7h0M73.4 255.6h0M74.8 253.3h0M83.3 242.1h0M67.3 256.4h0M78.5 250.2h0M76.8 248.5h0M66.1 260.6h0M56.0 267.1h0M74.1 253.3h0M80.3 245.4h0M66.8 258.4h0M58.9 264.1h0M63.1 270.7h0M68.2 266.7h0M84.4 242.2h0M81.3 246.1h0M83.0 244.0h0M62.3 264.6h0M66.5 260.1h0M74.9 251.2h0M62.2 267.5h0M56.3 266.0h0M57.1 266.7h0M70.4 258.2h0M71.3 252.5h0M66.9 265.0h0M77.8 248.4h0M71.3 255.9h0M68.3 262.3h0M62.2 264.5h0M76.7 250.1h0M66.4 258.8h0M80.8 246.4h0M83.8 243.2h0M74.2 250.8h0M78.2 249.4h0M69.7 259.7h0M79.3 248.0h0M63.6 261.0h0M62.0 268.3h0M76.6 252.5h0M74.9 251.0h0M62.7 258.8h0M74.9 250.6h0M82.3 244.3h0M66.6 264.2h0M77.8 250.7h0M70.5 258.0h0M65.0 260.0h0M84.0 243.2h0M74.7 251.9h0M55.0 268.0h0M75.7 248.1h0M80.2 247.7h0M67.9 254.9h0M60.7 271.0h0M79.6 250.3h0M67.8 259.1h0M78.6 246.9h0M66.7 258.4h0M67.7 257.4h0M77.1 250.1h0M65.3 264.8h0M80.7 245.0h0M62.8 263.0h0M80.4 245.5h0M79.1 249.2h0M65.8 264.1h0M76.0 249.3h0M72.6 253.5h0M66.6 260.8h0M69.6 253.2h0M59.7 265.3h0M56.8 270.8h0M83.1 242.3h0M76.2 250.8h0M78.0 248.7h0M65.2 260.1h0M58.5 272.7h0M55.0 268.3h0M65.4 262.8h0M62.8 263.3h0M71.5 257.9h0M62.6 261.8h0M82.3 244.8h0M67.7 260.9h0M67.2 263.0h0M68.6 262.8h0M60.4 261.6h0M59.4 267.3h0M73.5 251.2h0M66.9 262.8h0M69.3 261.2h0M81.7 244.5h0M77.9 249.1h0M83.0 244.7h0M74.5 252.6h0M78.0 248.4h0M76.2 247.9h0M68.0 257.0h0M81.5 246.2h0M63.7 258.9h0M65.2 262.6h0M72.1 255.1h0M72.9 253.7h0M74.7 253.5h0M72.3 252.9h0M60.7 271.6h0M79.2 246.9h0M78.5 249.6h0M82.6 243.5h0M64.6 263.0h0M62.7 263.1h0M79.1 250.0h0M57.7 265.4h0M65.4 259.6h0M84.3 243.3h0M67.5 261.7h0M70.6 256.0h0M68.1 258.1h0M76.5 248.1h0M75.4 250.8h0M67.1 260.7h0M77.8 250.8h0M72.9 255.9h0M68.9 262.0h0M67.2 260.7h0M68.3 256.7h0M68.5 257.4h0M59.4 273.8h0M56.7 270.8h0M64.1 267.7h0M74.1 249.8h0M83.4 242.7h0M54.6 269.2h0M56.7 271.4h0M70.2 254.7h0M79.1 245.9h0M80.6 245.9h0M55.8 262.9h0M64.0 261.1h0M75.1 252.3h0M79.0 246.2h0M80.5 246.0h0M64.5 259.8h0M75.0 251.1h0M73.4 253.8h0M63.1 265.4h0M77.7 249.6h0M58.7 265.5h0M77.1 252.2h0M67.7 260.0h0M77.7 248.0h0M79.5 249.0h0M59.5 266.0h0M73.9 257.3h0M81.9 245.6h0M74.6 251.9h0M67.9 257.6h0M60.0 264.1h0M59.5 264.7h0M71.3 254.9h0M79.4 249.1h0M79.3 247.6h0M79.4 247.1h0M74.4 253.2h0M83.3 243.0h0M70.4 253.6h0M69.6 253.8h0M83.6 244.2h0M78.6 247.7h0M80.4 248.4h0M69.5 262.8h0M72.2 255.2h0M60.5 269.4h0M79.1 247.0h0M63.7 262.9h0M74.7 252.2h0M57.0 270.1h0M68.2 263.1h0M59.8 266.8h0M68.2 261.3h0M74.2 252.8h0M71.9 256.4h0M61.2 273.1h0M68.7 254.4h0M59.0 272.9h0M67.8 257.4h0M78.6 248.3h0M72.0 254.0h0M66.1 259.5h0M73.1 251.0h0M69.4 251.6h0M70.2 262.7h0M68.4 260.9h0M75.1 251.2h0M72.3 250.8h0M75.2 252.8h0M62.8 270.1h0M82.9 244.0h0M79.8 244.8h0M59.7 265.5h0M78.0 249.0h0M66.3 260.4h0M80.0 248.1h0M69.3 255.2h0M73.5 251.9h0M70.8 250.8h0M75.5 253.5h0M74.5 253.6h0M74.1 251.8h0M67.4 254.8h0M71.8 257.1h0M57.4 264.3h0M72.6 251.6h0M64.2 257.2h0M54.7 266.6h0M77.5 247.8h0M74.0 250.7h0M68.2 261.8h0M75.7 252.4h0M84.4 242.2h0M59.1 265.8h0M77.1 249.4h0M84.0 241.6h0M60.0 268.5h0M60.8 262.9h0M64.5 260.8h0M83.6 243.2h0M54.4 269.0h0M69.6 253.8h0M64.8 265.5h0M57.1 263.5h0M53.6 268.1h0M65.7 257.8h0M63.7 260.9h0M66.1 260.3h0M76.4 245.6h0M67.5 258.0h0M69.0 261.9h0M72.7 256.8h0M71.1 257.9h0M76.3 250.2h0M73.6 253.6h0M67.4 257.8h0M83.7 241.6h0M83.6 243.2h0M75.7 253.0h0M79.5 247.4h0M60.8 266.0h0M83.2 244.2h0M81.2 245.7h0M72.2 257.2h0M62.2 263.2h0M69.6 253.0h0M77.5 249.9h0M72.2 256.7h0M71.2 253.8h0M67.6 259.9h0M74.8 253.4h0M76.8 245.9h0M81.2 248.7h0M63.4 266.3h0M79.9 246.4h0M73.2 251.2h0M63.1 258.8h0M82.6 248.0h0M61.6 264.2h0M61.3 268.3h0M77.0 248.5h0M83.8 242.4h0M66.0 262.9h0M69.3 255.1h0M65.7 260.9h0M73.4 252.8h0M80.9 246.3h0M81.6 246.0h0M75.0 251.3h0M77.1 252.1h0M64.8 260.5h0M67.4 258.3h0M57.5 269.9h0M60.2 265.8h0M63.3 266.4h0M70.8 250.0h0M72.0 251.0h0M52.3 265.5h0M65.6 266.0h0M76.8 251.3h0M79.7 246.0h0M75.9 251.4h0M69.1 253.4h0M56.2 269.5h0M71.6 259.0h0M84.7 242.3h0M64.6 270.3h0M61.9 263.3h0M79.9 248.3h0M78.6 248.2h0M79.4 247.7h0M68.7 258.8h0M58.4 271.9h0M79.4 249.2h0M82.2 244.4h0M72.0 255.6h0M67.0 259.5h0M60.6 267.4h0M62.7 261.5h0M72.2 257.0h0M78.5 249.2h0M59.6 268.7h0M69.5 257.2h0M55.1 269.1h0M70.5 254.0h0M68.8 255.2h0M68.8 256.0h0M64.8 265.3h0M60.8 267.8h0M80.3 244.6h0M82.4 243.2h0M73.3 256.6h0M83.9 244.1h0M68.6 260.7h0M70.0 263.1h0M65.4 259.4h0M59.3 269.5h0M64.7 260.2h0M71.2 261.9h0M76.5 251.0h0M65.4 262.9h0M67.7 260.3h0M77.0 248.5h0M70.1 256.6h0M71.0 250.9h0M67.4 258.3h0M59.7 263.7h0M68.7 260.5h0M73.4 256.5h0M80.8 246.2h0M65.2 258.7h0M57.6 265.3h0M58.5 271.9h0M83.8 242.5h0M73.6 252.7h0M78.9 246.3h0M79.3 247.7h0M72.3 255.1h0M63.5 266.5h0M68.7 255.8h0M58.6 268.5h0M70.2 253.4h0M82.6 244.2h0M68.1 258.9h0M69.5 256.5h0M65.3 264.8h0M78.8 246.2h0M82.3 246.0h0M72.7 255.1h0M69.3 259.3h0M60.7 267.5h0M72.9 252.5h0M60.2 264.9h0M65.7 264.5h0M65.7 261.3h0M64.0 264.2h0M75.4 250.7h0M74.4 254.2h0M81.0 246.5h0M77.0 247.7h0M80.5 249.0h0M64.9 265.8h0M73.6 255.1h0M80.6 246.5h0M73.1 253.7h0M65.0 265.0h0M78.9 252.3h0M66.2 260.7h0M72.9 251.7h0M79.8 246.9h0M71.3 255.8h0M70.5 259.0h0M67.9 255.8h0M73.9 252.1h0M81.9 244.4h0M71.4 258.0h0M75.4 253.7h0M75.8 251.4h0M79.3 249.0h0M59.1 268.6h0M72.1 255.0h0M55.0 263.4h0M55.1 268.5h0M58.4 264.6h0M84.2 242.7h0M73.3 253.7h0M77.6 247.5h0M72.7 254.3h0M73.9 252.7h0M66.7 261.5h0M74.4 251.3h0M62.8 261.9h0M73.1 256.6h0M70.6 255.7h0M72.5 256.8h0M57.9 265.8h0M70.4 255.9h0M63.4 262.5h0M54.6 268.5h0M78.2 249.6h0M57.0 264.9h0M83.2 243.6h0M67.9 253.7h0M67.5 261.5h0M57.1 270.2h0M58.9 273.1h0M77.3 253.1h0M75.2 250.3h0M66.2 260.8h0M79.6 245.5h0M63.7 261.8h0M71.1 255.9h0M60.2 267.0h0M67.3 262.0h0M77.1 250.4h0M69.8 259.8h0M62.6 262.1h0M70.6 256.6h0M79.3 246.0h0M72.5 253.9h0M59.1 258.8h0M81.4 245.1h0M59.3 268.0h0M77.1 248.8h0M68.2 257.6h0M69.0 253.7h0M62.3 262.5h0M62.5 262.5h0M60.9 267.0h0M72.1 255.7h0M76.2 249.7h0M56.0 270.5h0M64.7 263.4h0M68.8 255.7h0M84.1 243.3h0M72.9 258.9h0M72.1 255.5h0M70.7 254.9h0M61.2 266.6h0M72.5 257.1h0M63.0 268.7h0M77.7 247.0h0M78.5 248.6h0M77.3 248.2h0M61.6 263.9h0M68.7 258.9h0M59.7 269.5h0M72.3 253.9h0M60.2 263.7h0M79.3 247.0h0M70.3 254.1h0M65.4 267.6h0M70.7 252.6h0M68.4 260.1h0M75.1 251.8h0M81.3 245.2h0M54.5 268.2h0M62.8 262.5h0M80.6 245.6h0M58.5 266.4h0M71.9 254.3h0M83.3 243.3h0M61.5 263.9h0M81.9 245.1h0M64.8 264.5h0M71.7 253.8h0M75.8 252.3h0M58.4 268.8h0M80.0 245.9h0M79.9 247.3h0M59.1 272.6h0M69.4 256.6h0M81.5 243.3h0M67.2 261.9h0M69.9 259.5h0M63.4 260.0h0M57.7 268.7h0M59.7 269.1h0M72.8 249.4h0M65.0 264.4h0M83.5 243.7h0M82.1 245.3h0M78.0 251.1h0M68.9 255.2h0M78.5 249.6h0M61.1 275.3h0M82.0 242.5h0M83.6 242.6h0M73.7 254.5h0M71.4 253.7h0M75.8 247.9h0M56.7 271.6h0M76.0 250.9h0M65.7 259.0h0M56.6 271.3h0M69.6 259.6h0M82.8 244.6h0M73.2 254.3h0M61.4 261.3h0M69.9 256.0h0M78.0 245.5h0M58.1 264.7h0M83.4 243.2h0M61.4 267.4h0M59.7 267.1h0M56.7 270.1h0M80.2 244.2h0M72.3 251.7h0M73.3 251.0h0M66.5 258.5h0M57.8 266.8h0M69.7 263.4h0M62.5 267.9h0M71.2 253.2h0M74.1 251.2h0M70.6 254.8h0M65.9 259.1h0M62.5 262.5h0M73.5 249.4h0M63.2 267.8h0M82.8 244.3h0M71.0 257.2h0M71.3 255.6h0M80.6 246.5h0M58.6 266.8h0M81.2 243.4h0M81.5 245.1h0M66.7 260.1h0M58.3 263.6h0M77.1 246.3h0M59.5 271.9h0M76.6 248.4h0M76.5 249.7h0M58.4 265.7h0M59.5 274.4h0M56.3 264.7h0M77.1 251.3h0M64.8 254.9h0M84.0 243.2h0M58.7 266.1h0M82.4 242.2h0M83.5 243.0h0M64.6 261.9h0M54.4 265.9h0M80.0 247.0h0M74.4 252.1h0M76.7 250.6h0M58.5 263.1h0M55.9 267.8h0M62.2 261.3h0M80.9 245.8h0M55.2 269.4h0M78.4 246.7h0M63.9 267.7h0M63.7 261.2h0M73.3 255.7h0M81.8 245.6h0M70.8 254.1h0M69.8 252.6h0M77.8 249.0h0M76.6 251.2h0M80.9 247.1h0M65.4 262.5h0M83.3 243.5h0M83.3 242.6h0M75.9 249.4h0M64.0 275.8h0M68.6 261.4h0M77.6 247.0h0M62.7 265.0h0M70.3 257.5h0M62.4 258.7h0M60.0 265.7h0M72.8 255.1h0M68.8 262.9h0M80.4 248.3h0M57.7 267.7h0M81.4 244.8h0M66.0 259.3h0M77.0 250.0h0M63.6 266.1h0M56.2 266.5h0M56.9 269.1h0M62.5 262.3h0M60.7 263.3h0M73.4 252.1h0M75.5 254.9h0M82.6 245.7h0M75.1 254.6h0M70.0 252.9h0M64.0 263.8h0M61.9 274.9h0M74.0 253.5h0M59.4 264.8h0M84.6 242.3h0M75.1 251.0h0M56.0 269.1h0M68.7 258.6h0M59.5 269.1h0M55.5 270.5h0M67.2 259.4h0M81.9 243.6h0M59.6 267.0h0M84.4 242.6h0M68.8 258.1h0M64.3 261.9h0M81.8 243.3h0M66.7 263.6h0M58.0 264.4h0M82.4 244.8h0M82.1 244.1h0M78.8 248.9h0M78.7 249.5h0M68.7 257.1h0M78.3 244.4h0M64.6 256.3h0M68.4 255.8h0M58.7 264.6h0M71.4 255.9h0M78.1 251.9h0M64.5 264.5h0M59.5 266.7h0M60.8 271.4h0M69.2 257.0h0M60.7 269.5h0M68.5 259.2h0M71.3 251.3h0M59.6 271.2h0M79.8 249.3h0M57.9 267.5h0M60.8 269.0h0M75.1 252.5h0M82.7 243.6h0M58.5 266.9h0M76.8 251.6h0M68.5 256.5h0M60.8 264.1h0M73.1 255.4h0M69.5 259.8h0M69.1 262.1h0M80.3 245.5h0M70.4 253.2h0M79.8 248.3h0M54.0 266.6h0M82.7 243.4h0M62.0 264.0h0M72.7 258.2h0M57.9 269.1h0M59.8 262.7h0M69.6 257.0h0M78.4 250.3h0M76.6 247.2h0M67.7 255.6h0M64.8 265.5h0M73.4 253.5h0M65.0 258.7h0M60.2 265.8h0M77.7 249.0h0M77.6 247.3h0M59.7 265.0h0M60.1 272.8h0M77.4 249.7h0M79.7 248.4h0M57.9 268.8h0M66.4 258.7h0M76.0 251.1h0M64.0 259.9h0M78.7 248.4h0M56.5 269.2h0M71.6 254.4h0M61.6 264.3h0M75.5 249.5h0M59.3 273.3h0M74.7 249.2h0M69.3 258.0h0M74.7 249.7h0M61.0 269.4h0M79.6 246.7h0M74.8 252.2h0M58.0 270.9h0M81.0 246.0h0M61.1 266.4h0M67.4 260.4h0M66.5 261.3h0M77.6 248.2h0M77.3 248.8h0M57.9 268.0h0M79.8 245.8h0M59.5 265.3h0M77.5 251.3h0M56.7 264.6h0M70.0 261.4h0M58.0 266.8h0M75.6 252.2h0M67.4 259.4h0M71.8 254.5h0M84.7 242.2h0M82.4 240.3h0M86.7 240.7h0M85.6 241.4h0M86.0 239.3h0M84.7 242.2h0M87.4 235.8h0M84.2 240.5h0M85.4 241.2h0M87.5 240.2h0M88.0 238.0h0M87.1 236.9h0M85.8 239.5h0M89.1 238.8h0M86.4 238.7h0M85.3 241.5h0M75.6 255.9h0M74.0 253.4h0M71.6 257.0h0M76.4 259.6h0M72.0 257.9h0M73.4 255.4h0M70.8 256.8h0M73.9 255.4h0M84.9 256.9h0M76.5 256.4h0M85.0 252.5h0M72.5 257.3h0M78.6 256.8h0M69.9 260.1h0M76.5 256.4h0M72.9 256.4h0M74.5 253.5h0M74.4 255.7h0M75.8 257.6h0M69.7 259.6h0M76.9 255.1h0M69.7 255.6h0M75.2 259.4h0M70.3 255.4h0M75.9 256.8h0M73.6 256.7h0M72.6 260.4h0M77.7 256.3h0M78.8 260.7h0M75.7 257.5h0M71.9 257.2h0M74.7 259.5h0M70.1 253.7h0M71.8 257.7h0M65.9 256.5h0M70.6 254.7h0M74.4 259.2h0M68.4 257.4h0M73.2 258.2h0M73.8 255.7h0M68.4 286.5h0M49.3 276.9h0M52.5 285.6h0M67.2 282.5h0M55.6 277.6h0M54.9 285.2h0M53.6 284.4h0M49.7 281.2h0M62.2 278.6h0M59.6 289.5h0M53.8 282.8h0M51.1 279.6h0M53.6 279.7h0M57.1 282.5h0M48.1 284.8h0M69.2 287.8h0M56.4 284.6h0M48.8 283.7h0M65.7 287.7h0M72.5 278.7h0M74.6 286.1h0M74.5 284.7h0M71.3 284.5h0M48.6 285.9h0M54.1 284.5h0M64.2 287.7h0M65.5 288.4h0M43.7 289.2h0M50.8 285.0h0M55.0 280.0h0M67.8 280.6h0M53.5 290.4h0M36.7 277.9h0M68.5 283.0h0M66.8 284.6h0M54.2 287.4h0M52.1 282.4h0M61.3 280.3h0M44.8 278.1h0M68.3 292.3h0M90.3 275.0h0M82.8 273.7h0M85.1 280.8h0M84.8 277.1h0M70.6 278.2h0M79.7 276.3h0M86.7 277.6h0M88.4 282.5h0M74.9 271.8h0M92.5 278.9h0M81.9 276.3h0M85.2 280.9h0M83.7 277.2h0M79.2 282.4h0M87.2 275.6h0M79.2 277.2h0M89.1 285.3h0M93.8 276.0h0M83.4 273.9h0M87.3 274.7h0M87.9 278.4h0M87.1 273.9h0M90.5 276.6h0M79.8 277.2h0M86.1 277.6h0M89.6 281.6h0M95.6 277.0h0M90.8 268.3h0M93.8 277.3h0M91.1 276.6h0M87.8 279.6h0M82.6 275.4h0M72.3 279.3h0M84.7 276.6h0M90.9 278.6h0M86.4 270.8h0M86.1 276.4h0M89.8 275.7h0M79.8 276.6h0M93.7 274.3h0M91.2 276.8h0M76.2 279.6h0M96.0 279.0h0M80.6 276.6h0M81.4 287.5h0M87.9 269.1h0M89.1 279.0h0M80.7 275.3h0M85.1 283.5h0M83.0 274.7h0M89.7 275.2h0M80.7 276.9h0M89.1 277.9h0M83.7 282.5h0M91.7 271.8h0M80.1 274.2h0M84.4 278.0h0M85.0 277.7h0M87.4 272.9h0M75.5 278.4h0M91.0 278.1h0M83.5 279.4h0M83.9 272.8h0M83.7 280.1h0M86.9 279.8h0M83.2 279.4h0M91.9 276.3h0M83.2 281.8h0M85.9 273.3h0M83.5 282.1h0M97.8 283.1h0M100.0 273.5h0M103.4 268.3h0M103.5 271.4h0M92.9 274.3h0M91.2 265.2h0M87.8 275.1h0M97.3 272.5h0M100.7 266.6h0M91.7 281.7h0M87.4 279.7h0M92.8 275.1h0M96.9 270.5h0M95.9 277.7h0M89.4 266.3h0" stroke="#000" stroke-opacity="0.6" stroke-width="0.9" stroke-linecap="round" fill="none"/>
<path d="M59.41 275.23 L59.29 275.47 L59.16 275.71 L59.02 275.96 L58.87 276.20 L58.71 276.43 L58.53 276.67 L58.35 276.90 L58.15 277.13 L57.95 277.36 L57.73 277.58 L57.50 277.80 L57.27 278.02 L57.02 278.23 L56.76 278.44 L56.50 278.64 L56.23 278.84 L55.94 279.04 L55.65 279.23 L55.36 279.41 L55.05 279.59 L54.74 279.76 L54.41 279.93 L54.09 280.09 L53.75 280.25 L53.41 280.40 L53.07 280.54 L52.71 280.68 L52.36 280.81 L52.00 280.93 L51.63 281.05 L51.26 281.16 L50.89 281.26 L50.51 281.36 L50.13 281.45 L49.75 281.53 L49.36 281.60 L48.97 281.67 L48.59 281.72 L48.20 281.77 L47.81 281.82 L47.42 281.85 L47.03 281.88 L46.64 281.90 L46.25 281.91 L45.86 281.92 L45.47 281.91 L45.09 281.90 L44.71 281.88 L44.33 281.86 L43.95 281.82 L43.58 281.78 L43.21 281.73 L42.85 281.67 L42.49 281.61 L42.13 281.53 L41.78 281.45 L41.44 281.37 L41.10 281.27 L40.77 281.17 L40.45 281.06 L40.13 280.94 L39.82 280.82 L39.51 280.69 L39.22 280.56 L38.93 280.41 L38.65 280.26 L38.38 280.11 L38.12 279.95 L37.87 279.78 L37.63 279.61 L37.40 279.43 L37.18 279.25 L36.96 279.06 L36.76 278.86 L36.57 278.66 L36.39 278.46 L36.22 278.25 L36.06 278.04 L35.92 277.83 L35.78 277.61 L35.66 277.38 L35.54 277.16 L35.44 276.93 L35.36 276.69 L35.28 276.46 L35.21 276.22 L35.16 275.98 L35.12 275.74 L35.09 275.50 L35.08 275.25 L35.07 275.01 L35.08 274.76 L35.10 274.51 L35.14 274.26 L35.18 274.01 L35.24 273.76 L35.31 273.52 L35.39 273.27 L35.49 273.02 L35.59 272.77 L35.71 272.53 L35.84 272.29 L35.98 272.04 L36.13 271.80 L36.29 271.57 L36.47 271.33 L36.65 271.10 L36.85 270.87 L37.05 270.64 L37.27 270.42 L37.50 270.20 L37.73 269.98 L37.98 269.77 L38.24 269.56 L38.50 269.36 L38.77 269.16 L39.06 268.96 L39.35 268.77 L39.64 268.59 L39.95 268.41 L40.26 268.24 L40.59 268.07 L40.91 267.91 L41.25 267.75 L41.59 267.60 L41.93 267.46 L42.29 267.32 L42.64 267.19 L43.00 267.07 L43.37 266.95 L43.74 266.84 L44.11 266.74 L44.49 266.64 L44.87 266.55 L45.25 266.47 L45.64 266.40 L46.03 266.33 L46.41 266.28 L46.80 266.23 L64.00 264.20Z" fill="#a6a6a6" fill-opacity="1" stroke="#fff" stroke-opacity="1" stroke-width="1.0" stroke-linejoin="round"/>
<path d="M57.96 272.35 L57.99 272.63 L57.99 272.91 L57.97 273.19 L57.92 273.48 L57.85 273.76 L57.75 274.04 L57.63 274.33 L57.49 274.61 L57.32 274.88 L57.14 275.16 L56.92 275.43 L56.69 275.69 L56.44 275.95 L56.16 276.20 L55.87 276.45 L55.56 276.68 L55.22 276.91 L54.88 277.13 L54.51 277.34 L54.13 277.54 L53.74 277.73 L53.34 277.91 L52.92 278.08 L52.49 278.23 L52.05 278.37 L51.61 278.50 L51.15 278.62 L50.70 278.72 L50.23 278.81 L49.77 278.88 L49.30 278.94 L48.83 278.98 L48.36 279.01 L47.89 279.02 L47.43 279.02 L46.97 279.01 L46.51 278.98 L46.07 278.93 L45.63 278.87 L45.20 278.80 L44.78 278.71 L44.37 278.61 L43.98 278.49 L43.60 278.37 L43.23 278.22 L42.88 278.07 L42.55 277.90 L42.23 277.72 L41.93 277.53 L41.66 277.33 L41.40 277.12 L41.16 276.90 L40.95 276.67 L40.75 276.43 L40.58 276.19 L40.44 275.93 L40.31 275.67 L40.21 275.41 L40.14 275.14 L40.09 274.87 L40.06 274.59 L40.06 274.31 L40.08 274.03 L40.13 273.74 L40.20 273.46 L40.30 273.18 L40.42 272.89 L40.56 272.61 L40.73 272.34 L40.91 272.06 L41.13 271.79 L41.36 271.53 L41.61 271.27 L41.89 271.02 L42.18 270.77 L42.49 270.54 L42.83 270.31 L43.17 270.09 L43.54 269.88 L43.92 269.68 L44.31 269.49 L44.71 269.31 L45.13 269.14 L45.56 268.99 L46.00 268.85 L46.44 268.72 L46.90 268.60 L47.35 268.50 L47.82 268.41 L48.28 268.34 L48.75 268.28 L49.22 268.24 L49.69 268.21 L50.16 268.20 L50.62 268.20 L51.08 268.21 L51.54 268.24 L51.98 268.29 L52.42 268.35 L52.85 268.42 L53.27 268.51 L53.68 268.61 L54.07 268.73 L54.45 268.85 L54.82 269.00 L55.17 269.15 L55.50 269.32 L55.82 269.50 L56.12 269.69 L56.39 269.89 L56.65 270.10 L56.89 270.32 L57.10 270.55 L57.30 270.79 L57.47 271.03 L57.61 271.29 L57.74 271.55 L57.84 271.81 L57.91 272.08Z" fill="none" fill-opacity="1" stroke="#fff" stroke-opacity="0.8" stroke-width="0.5" stroke-linejoin="round"/>
<path d="M56.18 272.66 L56.20 272.88 L56.20 273.10 L56.19 273.32 L56.15 273.54 L56.09 273.77 L56.02 273.99 L55.92 274.21 L55.81 274.44 L55.68 274.65 L55.53 274.87 L55.36 275.08 L55.18 275.29 L54.98 275.50 L54.76 275.70 L54.53 275.89 L54.28 276.08 L54.02 276.26 L53.75 276.43 L53.46 276.60 L53.16 276.76 L52.85 276.91 L52.53 277.05 L52.20 277.18 L51.86 277.30 L51.52 277.41 L51.16 277.51 L50.81 277.60 L50.44 277.68 L50.08 277.75 L49.71 277.81 L49.34 277.86 L48.97 277.89 L48.60 277.91 L48.23 277.92 L47.86 277.92 L47.50 277.91 L47.14 277.89 L46.79 277.85 L46.44 277.81 L46.10 277.75 L45.77 277.68 L45.45 277.60 L45.14 277.51 L44.84 277.40 L44.55 277.29 L44.27 277.17 L44.01 277.04 L43.76 276.90 L43.53 276.75 L43.31 276.59 L43.10 276.42 L42.92 276.25 L42.75 276.07 L42.60 275.88 L42.46 275.68 L42.35 275.48 L42.25 275.28 L42.17 275.07 L42.11 274.86 L42.07 274.64 L42.05 274.42 L42.05 274.20 L42.06 273.98 L42.10 273.76 L42.16 273.53 L42.23 273.31 L42.33 273.09 L42.44 272.86 L42.57 272.65 L42.72 272.43 L42.89 272.22 L43.07 272.01 L43.27 271.80 L43.49 271.60 L43.72 271.41 L43.97 271.22 L44.23 271.04 L44.50 270.87 L44.79 270.70 L45.09 270.54 L45.40 270.39 L45.72 270.25 L46.05 270.12 L46.39 270.00 L46.73 269.89 L47.09 269.79 L47.44 269.70 L47.81 269.62 L48.17 269.55 L48.54 269.49 L48.91 269.44 L49.28 269.41 L49.65 269.39 L50.02 269.38 L50.39 269.38 L50.75 269.39 L51.11 269.41 L51.46 269.45 L51.81 269.49 L52.15 269.55 L52.48 269.62 L52.80 269.70 L53.11 269.79 L53.41 269.90 L53.70 270.01 L53.98 270.13 L54.24 270.26 L54.49 270.40 L54.72 270.55 L54.94 270.71 L55.15 270.88 L55.33 271.05 L55.50 271.23 L55.65 271.42 L55.79 271.62 L55.90 271.82 L56.00 272.02 L56.08 272.23 L56.14 272.44Z" fill="none" fill-opacity="1" stroke="#444" stroke-opacity="0.8" stroke-width="0.5" stroke-linejoin="round"/>
<path d="M54.40 272.96 L54.41 273.12 L54.42 273.29 L54.40 273.45 L54.38 273.61 L54.33 273.78 L54.28 273.94 L54.21 274.10 L54.13 274.27 L54.03 274.43 L53.92 274.59 L53.80 274.74 L53.66 274.89 L53.52 275.04 L53.36 275.19 L53.19 275.33 L53.01 275.47 L52.81 275.60 L52.61 275.73 L52.40 275.85 L52.18 275.97 L51.96 276.08 L51.72 276.18 L51.48 276.28 L51.23 276.37 L50.98 276.45 L50.72 276.52 L50.46 276.59 L50.19 276.65 L49.92 276.70 L49.65 276.74 L49.38 276.77 L49.11 276.80 L48.84 276.82 L48.57 276.82 L48.30 276.82 L48.03 276.82 L47.77 276.80 L47.51 276.77 L47.26 276.74 L47.01 276.69 L46.77 276.64 L46.53 276.58 L46.30 276.52 L46.08 276.44 L45.87 276.36 L45.67 276.27 L45.47 276.17 L45.29 276.07 L45.12 275.96 L44.96 275.84 L44.81 275.72 L44.67 275.59 L44.55 275.46 L44.44 275.32 L44.34 275.18 L44.25 275.04 L44.18 274.89 L44.12 274.73 L44.08 274.58 L44.05 274.42 L44.04 274.26 L44.03 274.09 L44.05 273.93 L44.07 273.77 L44.12 273.60 L44.17 273.44 L44.24 273.28 L44.32 273.11 L44.42 272.95 L44.53 272.79 L44.65 272.64 L44.79 272.49 L44.93 272.34 L45.09 272.19 L45.26 272.05 L45.44 271.91 L45.64 271.78 L45.84 271.65 L46.05 271.53 L46.27 271.41 L46.49 271.30 L46.73 271.20 L46.97 271.10 L47.22 271.01 L47.47 270.93 L47.73 270.86 L47.99 270.79 L48.26 270.73 L48.53 270.68 L48.80 270.64 L49.07 270.61 L49.34 270.58 L49.61 270.56 L49.88 270.56 L50.15 270.56 L50.42 270.56 L50.68 270.58 L50.94 270.61 L51.19 270.64 L51.44 270.69 L51.68 270.74 L51.92 270.80 L52.15 270.86 L52.37 270.94 L52.58 271.02 L52.78 271.11 L52.98 271.21 L53.16 271.31 L53.33 271.42 L53.49 271.54 L53.64 271.66 L53.78 271.79 L53.90 271.92 L54.01 272.06 L54.11 272.20 L54.20 272.34 L54.27 272.49 L54.33 272.65 L54.37 272.80Z" fill="none" fill-opacity="1" stroke="#fff" stroke-opacity="0.8" stroke-width="0.5" stroke-linejoin="round"/>
<path d="M52.88 273.22 L52.90 273.33 L52.90 273.44 L52.89 273.56 L52.87 273.67 L52.84 273.78 L52.80 273.90 L52.75 274.01 L52.70 274.12 L52.63 274.23 L52.55 274.34 L52.47 274.45 L52.38 274.56 L52.27 274.66 L52.16 274.76 L52.05 274.86 L51.92 274.95 L51.79 275.05 L51.65 275.13 L51.51 275.22 L51.35 275.30 L51.20 275.37 L51.03 275.44 L50.87 275.51 L50.70 275.57 L50.52 275.63 L50.34 275.68 L50.16 275.73 L49.98 275.77 L49.79 275.80 L49.61 275.83 L49.42 275.85 L49.23 275.87 L49.04 275.88 L48.86 275.89 L48.67 275.89 L48.49 275.88 L48.31 275.87 L48.13 275.85 L47.95 275.83 L47.78 275.80 L47.61 275.76 L47.45 275.72 L47.29 275.68 L47.14 275.63 L46.99 275.57 L46.85 275.51 L46.72 275.44 L46.59 275.37 L46.47 275.29 L46.36 275.21 L46.26 275.13 L46.16 275.04 L46.08 274.95 L46.00 274.85 L45.93 274.75 L45.87 274.65 L45.83 274.55 L45.79 274.44 L45.76 274.34 L45.74 274.23 L45.72 274.12 L45.72 274.00 L45.73 273.89 L45.75 273.78 L45.78 273.66 L45.82 273.55 L45.87 273.44 L45.92 273.33 L45.99 273.21 L46.07 273.11 L46.15 273.00 L46.24 272.89 L46.35 272.79 L46.46 272.69 L46.57 272.59 L46.70 272.49 L46.83 272.40 L46.97 272.31 L47.11 272.23 L47.27 272.15 L47.42 272.07 L47.59 272.00 L47.75 271.94 L47.92 271.88 L48.10 271.82 L48.28 271.77 L48.46 271.72 L48.64 271.68 L48.83 271.65 L49.01 271.62 L49.20 271.59 L49.39 271.58 L49.58 271.56 L49.76 271.56 L49.95 271.56 L50.13 271.56 L50.31 271.58 L50.49 271.59 L50.67 271.62 L50.84 271.65 L51.01 271.68 L51.17 271.72 L51.33 271.77 L51.48 271.82 L51.63 271.88 L51.77 271.94 L51.90 272.01 L52.03 272.08 L52.15 272.15 L52.26 272.24 L52.36 272.32 L52.46 272.41 L52.54 272.50 L52.62 272.59 L52.69 272.69 L52.75 272.79 L52.79 272.90 L52.83 273.00 L52.86 273.11Z" fill="none" fill-opacity="1" stroke="#333" stroke-opacity="0.85" stroke-width="0.6" stroke-linejoin="round"/>
<ellipse cx="49.5" cy="273.8" rx="2" ry="1.1" fill="#fff"/>
<ellipse cx="93.3" cy="277.7" rx="24" ry="16.9" transform="rotate(0 93.3 277.7)" stroke="#000" stroke-opacity="1" stroke-width="1.6" fill="none"/>
<text x="105.7" y="280.8" font-size="7.5" font-weight="normal" text-anchor="start" style="stroke-width:0.12px">0.3</text>
<rect x="19.8" y="200.3" width="103.9" height="103.19999999999999" fill="none" stroke="#555" stroke-width="0.9"/>
<path d="M26.80 303.80v1.8M33.53 303.80v1.1M37.47 303.80v1.1M40.26 303.80v1.1M42.43 303.80v1.1M44.20 303.80v1.1M45.69 303.80v1.1M46.99 303.80v1.1M48.13 303.80v1.1M49.16 303.80v1.8M55.89 303.80v1.1M59.82 303.80v1.1M62.62 303.80v1.1M64.78 303.80v1.1M66.55 303.80v1.1M68.05 303.80v1.1M69.35 303.80v1.1M70.49 303.80v1.1M71.51 303.80v1.8M78.24 303.80v1.1M82.18 303.80v1.1M84.97 303.80v1.1M87.14 303.80v1.1M88.91 303.80v1.1M90.41 303.80v1.1M91.70 303.80v1.1M92.85 303.80v1.1M93.87 303.80v1.8M100.60 303.80v1.1M104.54 303.80v1.1M107.33 303.80v1.1M109.50 303.80v1.1M111.27 303.80v1.1M112.77 303.80v1.1M114.06 303.80v1.1M115.21 303.80v1.1M116.23 303.80v1.8M19.50 296.50h-1.8M19.50 289.82h-1.1M19.50 285.91h-1.1M19.50 283.14h-1.1M19.50 280.99h-1.1M19.50 279.23h-1.1M19.50 277.75h-1.1M19.50 276.46h-1.1M19.50 275.32h-1.1M19.50 274.31h-1.8M19.50 267.63h-1.1M19.50 263.72h-1.1M19.50 260.95h-1.1M19.50 258.80h-1.1M19.50 257.04h-1.1M19.50 255.56h-1.1M19.50 254.27h-1.1M19.50 253.13h-1.1M19.50 252.12h-1.8M19.50 245.44h-1.1M19.50 241.53h-1.1M19.50 238.76h-1.1M19.50 236.61h-1.1M19.50 234.85h-1.1M19.50 233.37h-1.1M19.50 232.08h-1.1M19.50 230.94h-1.1M19.50 229.93h-1.8M19.50 223.25h-1.1M19.50 219.34h-1.1M19.50 216.57h-1.1M19.50 214.42h-1.1M19.50 212.66h-1.1M19.50 211.18h-1.1M19.50 209.89h-1.1M19.50 208.75h-1.1M19.50 207.74h-1.8" stroke="#444" stroke-width="0.55" fill="none"/>
<path d="M166.2 263.7h0M158.5 261.4h0M146.2 275.7h0M175.3 272.2h0M173.7 277.5h0M147.8 281.2h0M180.7 258.0h0M152.6 265.1h0M152.0 263.7h0M185.1 257.9h0M168.1 282.8h0M148.7 270.2h0M164.2 285.5h0M162.8 264.7h0M146.6 270.7h0M155.5 265.5h0M176.8 273.5h0M147.2 271.8h0M181.2 262.7h0M149.8 282.7h0M183.9 255.0h0M149.2 284.7h0M165.7 262.0h0M172.5 276.9h0M147.1 282.9h0M167.9 262.8h0M153.0 286.7h0M154.2 287.2h0M154.8 288.0h0M181.0 255.4h0M147.5 273.7h0M169.0 260.9h0M181.8 257.7h0M173.4 260.0h0M173.3 275.4h0M176.7 272.3h0M163.0 262.7h0M186.2 257.8h0M158.9 286.8h0M175.8 271.3h0M170.5 282.3h0M162.2 285.8h0M182.0 261.9h0M172.3 279.3h0M180.0 264.1h0M162.4 260.9h0M147.7 269.9h0M181.9 261.0h0M164.1 284.1h0M157.3 286.8h0M167.3 284.3h0M186.0 253.7h0M174.4 275.7h0M186.2 257.6h0M166.5 286.2h0M173.1 261.1h0M183.5 255.9h0M171.6 278.3h0M155.3 286.6h0M163.9 284.3h0M155.0 266.1h0M154.7 264.4h0M164.3 262.8h0M170.9 262.3h0M154.5 266.8h0M149.9 283.9h0M184.2 260.5h0M148.1 273.1h0M178.8 259.1h0M185.7 257.1h0M169.6 281.0h0M165.6 283.0h0M159.2 265.2h0M172.7 260.1h0M156.3 287.0h0M184.1 254.7h0M179.3 265.6h0M147.0 280.6h0M183.0 257.5h0M150.4 270.2h0M181.8 262.2h0M162.9 264.1h0M162.9 263.4h0M173.3 261.3h0M181.9 257.4h0M158.7 262.2h0M164.5 284.5h0M147.6 278.0h0M152.0 285.7h0M176.8 269.7h0M165.1 263.2h0M147.4 276.8h0M164.7 262.3h0M150.8 288.1h0M175.5 258.4h0M176.2 258.3h0M152.5 266.2h0M175.3 274.3h0M170.1 261.0h0M171.1 261.5h0M148.1 268.4h0M156.1 264.4h0M157.9 265.1h0M146.4 279.3h0M179.6 263.1h0M147.8 284.3h0M172.3 261.1h0M187.0 258.0h0M154.1 286.3h0M170.3 279.6h0M179.6 265.7h0M177.7 272.4h0M148.1 270.7h0M148.1 282.5h0M150.0 283.6h0M173.9 278.4h0M179.0 257.0h0M172.0 261.5h0M168.2 260.5h0M158.8 263.5h0M145.7 273.7h0M145.6 276.7h0M185.1 254.0h0M187.8 257.6h0M166.7 263.5h0M187.2 257.7h0M145.8 280.1h0M171.0 261.4h0M151.0 285.4h0M168.5 261.8h0M183.5 261.8h0M177.6 270.3h0M155.0 265.9h0M159.3 286.6h0M157.2 264.1h0M175.8 260.5h0M182.8 262.8h0M156.7 287.9h0M159.2 287.7h0M176.7 259.5h0M179.0 270.3h0M167.3 263.7h0M178.8 256.6h0M175.3 261.0h0M184.8 264.1h0M181.2 256.5h0M144.7 279.9h0M175.5 260.2h0M159.0 288.0h0M148.8 286.2h0M156.7 287.4h0M148.6 281.8h0M160.8 287.0h0M183.1 256.5h0M179.2 266.7h0M166.4 284.1h0M186.4 255.9h0M170.0 282.4h0M170.7 283.0h0M176.4 269.1h0M163.1 262.3h0M177.7 260.0h0M157.8 287.6h0M177.3 259.7h0M180.3 264.0h0M159.6 265.2h0M182.9 260.0h0M152.8 287.3h0M174.7 274.5h0M155.6 287.7h0M162.6 286.2h0M184.1 256.2h0M156.0 265.5h0M162.8 285.9h0M149.7 286.6h0M174.1 273.8h0M169.7 261.2h0M168.6 282.1h0M185.8 258.1h0M156.3 265.1h0M178.6 257.6h0M171.9 276.7h0M180.6 263.5h0M180.5 263.2h0M162.7 261.5h0M185.8 258.1h0M162.3 264.5h0M177.1 267.3h0M183.6 261.5h0M148.4 272.9h0M184.2 259.1h0M161.2 261.9h0M170.6 281.1h0M151.6 285.7h0M176.7 269.9h0M175.1 269.8h0M157.0 263.0h0M163.5 264.3h0M151.5 268.5h0M158.0 286.3h0M145.1 282.9h0M152.0 285.6h0M175.7 272.1h0M173.6 274.6h0M176.8 269.7h0M151.6 289.0h0M165.7 286.1h0M183.2 260.4h0M185.4 258.9h0M166.6 283.4h0M162.1 263.2h0M177.1 270.0h0M179.1 258.4h0M175.5 273.6h0M179.6 258.8h0M165.4 264.0h0M163.4 286.5h0M181.2 261.9h0M172.7 277.0h0M179.7 266.9h0M158.8 286.9h0M168.7 281.8h0M148.5 280.9h0M173.1 276.3h0M164.5 284.4h0M156.3 287.9h0M175.8 273.9h0M147.7 280.7h0M153.9 263.6h0M155.4 263.0h0M186.2 260.9h0M171.8 281.6h0M177.7 272.4h0M151.6 288.9h0M176.3 271.3h0M176.6 259.0h0M166.1 261.2h0M148.5 280.3h0M175.9 271.5h0M146.9 277.7h0M175.1 261.2h0M186.1 257.6h0M182.4 254.6h0M149.1 281.2h0M171.2 261.3h0M171.0 261.6h0M148.4 278.0h0M171.8 278.6h0M183.9 256.4h0M148.1 270.4h0M177.9 270.0h0M162.9 263.9h0M159.7 265.1h0M163.9 284.5h0M147.4 276.4h0M147.6 284.8h0M156.0 288.1h0M165.0 263.2h0M164.6 262.1h0M185.3 258.0h0M148.3 271.1h0M163.6 286.7h0M182.4 260.5h0M161.4 288.0h0M162.1 286.8h0M176.0 270.1h0M171.4 279.5h0M145.7 279.0h0M171.5 261.2h0M168.0 263.0h0M185.3 259.3h0M159.0 264.1h0M174.8 273.8h0M149.8 287.3h0M176.6 270.0h0M174.5 259.3h0M177.4 267.2h0M176.4 269.9h0M146.1 274.3h0M169.5 279.5h0M169.3 261.9h0M171.6 261.7h0M151.1 269.4h0M165.7 284.2h0M168.4 281.9h0M163.4 262.8h0M182.0 256.2h0M170.9 281.0h0M186.1 258.8h0M177.1 272.2h0M185.3 255.0h0M165.0 284.2h0M165.5 283.8h0M171.7 279.7h0M154.3 266.9h0M184.7 259.7h0M177.4 265.8h0M150.0 270.7h0M175.3 269.1h0M164.5 284.2h0M178.0 267.2h0M150.1 283.9h0M167.9 262.5h0M170.6 282.4h0M169.9 280.7h0M169.2 282.8h0M187.0 256.7h0M178.7 269.1h0M163.5 288.0h0M147.2 278.8h0M178.5 258.6h0M173.3 261.3h0M159.6 262.9h0M167.5 259.7h0M169.6 261.9h0M177.4 257.3h0M170.7 260.4h0M157.2 265.1h0M178.4 267.4h0M178.2 267.4h0M174.5 260.7h0M172.6 277.0h0M170.6 262.1h0M188.7 257.9h0M152.9 267.0h0M149.8 270.7h0M178.7 266.3h0M163.6 285.3h0M146.7 279.8h0M151.4 267.7h0M146.7 273.9h0M182.0 256.1h0M175.2 275.5h0M152.3 288.1h0M182.5 256.0h0M181.8 262.9h0M147.6 276.8h0M165.7 263.7h0M152.7 288.5h0M170.8 262.4h0M155.8 286.7h0M162.1 264.3h0M163.4 263.1h0M176.8 259.3h0M179.4 257.9h0M184.8 255.6h0M185.7 256.7h0M176.2 269.0h0M171.6 261.7h0M182.2 264.3h0M181.4 265.4h0M169.9 282.3h0M147.6 279.2h0M181.2 263.2h0M159.7 286.9h0M156.9 288.2h0M179.0 265.1h0M148.8 282.8h0M151.9 268.5h0M171.5 260.1h0M171.4 282.6h0M149.4 266.4h0M157.3 263.9h0M150.6 270.0h0M156.2 286.1h0M181.8 255.0h0M167.6 262.2h0M159.0 286.2h0M173.5 276.1h0M166.9 263.5h0M162.6 262.2h0M170.6 278.9h0M148.8 281.7h0M163.2 264.9h0M145.5 277.7h0M152.0 285.1h0M175.1 273.6h0M156.2 266.1h0M160.0 263.6h0M170.0 261.9h0M161.4 265.1h0M163.9 284.7h0M148.7 280.0h0M183.7 255.7h0M166.3 262.6h0M170.7 261.8h0M151.6 286.9h0M177.0 275.2h0M151.9 286.8h0M168.5 282.4h0M168.5 263.6h0M164.5 262.7h0M166.7 285.1h0M154.7 286.6h0M150.2 267.2h0M167.4 261.2h0M173.8 259.7h0M173.3 276.9h0M164.6 263.7h0M187.0 259.1h0M183.7 259.6h0M156.8 289.5h0M146.0 274.6h0M184.6 259.2h0M184.0 260.3h0M179.6 256.0h0M149.2 267.9h0M181.6 257.0h0M172.2 278.9h0M148.2 279.2h0M147.5 282.9h0M151.9 287.0h0M155.8 288.4h0M148.9 270.4h0M152.8 286.4h0M166.3 262.4h0M161.3 287.0h0M170.1 281.1h0M161.0 286.5h0M185.3 258.1h0M192.2 247.6h0M202.4 240.4h0M199.7 244.9h0M183.3 256.7h0M199.7 245.4h0M186.8 254.9h0M193.0 245.7h0M179.6 257.3h0M188.7 250.5h0M188.0 249.6h0M194.6 250.3h0M189.9 251.3h0M183.2 255.4h0M201.1 242.8h0M189.5 250.9h0M183.9 259.4h0M199.3 246.9h0M197.5 244.2h0M180.2 256.5h0M180.4 254.1h0M183.5 262.7h0M193.0 248.8h0M192.0 246.6h0M202.4 239.1h0M185.0 250.6h0M185.9 258.7h0M201.4 241.1h0M183.5 254.5h0M191.7 244.1h0M185.8 261.8h0M198.4 243.2h0M178.1 252.2h0M180.5 256.3h0M184.0 255.3h0M200.3 241.7h0M189.9 246.7h0M195.6 248.9h0M185.6 256.1h0M201.1 240.6h0M200.3 239.4h0M185.3 248.2h0M196.4 243.3h0M201.4 239.7h0M190.8 245.8h0M191.5 249.8h0M195.8 247.6h0M179.7 257.3h0M181.7 255.9h0M192.1 248.3h0M192.1 253.9h0M188.8 256.3h0M189.2 245.5h0M190.3 248.3h0M193.8 255.4h0M199.7 240.8h0M186.2 260.0h0M201.4 241.6h0M200.0 245.1h0M185.1 253.1h0M193.5 247.4h0M198.2 244.7h0M192.7 247.8h0M183.5 255.6h0M190.7 254.5h0M192.2 247.8h0M197.7 247.5h0M189.8 248.4h0M193.6 246.1h0M197.8 245.5h0M198.4 244.4h0M198.8 245.4h0M190.7 249.8h0M199.9 241.6h0M182.8 254.7h0M190.6 244.7h0M183.2 254.6h0M184.8 258.6h0M192.2 248.1h0M193.8 247.6h0M202.1 243.1h0M196.3 242.1h0M197.9 244.3h0M190.1 248.3h0M191.6 252.6h0M195.2 241.5h0M199.1 241.4h0M184.6 253.0h0M182.2 255.7h0M186.3 251.5h0M192.3 254.5h0M202.4 238.8h0M198.3 242.6h0M196.6 240.4h0M200.6 237.6h0M199.5 239.9h0M181.9 252.8h0M186.4 255.1h0M197.3 242.2h0M200.6 239.8h0M188.4 251.1h0M201.7 237.7h0M181.7 252.8h0M179.6 256.7h0M201.7 240.6h0M187.5 252.0h0M180.4 255.4h0M202.9 243.3h0M187.1 254.0h0M199.9 243.5h0M203.8 242.2h0M187.3 249.5h0M189.8 253.7h0M196.2 245.6h0M185.7 254.9h0M199.4 238.0h0M201.4 238.2h0M180.7 258.3h0M198.9 242.4h0M189.3 256.2h0M189.4 249.5h0M185.0 255.5h0M198.4 242.0h0M191.6 244.8h0M194.2 245.5h0M196.3 245.0h0M191.5 254.8h0M201.5 243.6h0M179.8 257.0h0M190.1 247.3h0M190.8 249.5h0M190.1 248.3h0M196.6 252.2h0M196.6 247.0h0M186.4 253.2h0M191.7 247.1h0M185.8 250.2h0M202.6 239.1h0M196.4 237.6h0M179.5 257.9h0M180.6 256.7h0M189.5 255.9h0M193.8 241.8h0M204.0 240.4h0M200.6 240.2h0M181.7 260.4h0M183.3 253.4h0M203.1 239.9h0M192.0 251.2h0M197.6 251.5h0M189.7 247.9h0M192.3 247.9h0M182.0 256.8h0M198.2 241.5h0M189.4 250.5h0M192.7 248.0h0M186.8 251.9h0M181.7 251.4h0M186.2 254.5h0M187.9 247.4h0M183.3 255.8h0M197.7 246.5h0M183.9 251.1h0M201.2 240.2h0M200.2 241.9h0M201.7 240.0h0M193.3 246.0h0M193.4 247.4h0M189.3 253.2h0M178.8 256.1h0M197.9 243.0h0M195.4 247.8h0M186.2 251.5h0M191.6 245.2h0M201.4 242.4h0M185.3 256.9h0M184.0 259.1h0M189.8 250.4h0M184.2 253.0h0M203.5 242.5h0M201.4 243.8h0M184.3 258.1h0M187.1 251.1h0M196.9 244.6h0M190.0 247.5h0M200.3 238.6h0M201.5 240.6h0M180.8 259.5h0M202.5 240.9h0M183.0 256.8h0M187.9 259.5h0M195.6 242.6h0M197.5 247.7h0M182.7 255.2h0M203.3 241.1h0M189.5 247.8h0M197.4 250.6h0M186.2 258.8h0M197.6 239.3h0M201.2 244.2h0M188.1 252.6h0M170.6 289.0h0M158.6 285.7h0M154.7 289.0h0M140.8 286.7h0M160.3 290.1h0M155.0 292.4h0M154.3 290.5h0M175.4 287.2h0M173.7 288.7h0M150.5 292.9h0M179.3 288.3h0M172.8 291.5h0M160.2 294.4h0M159.1 287.5h0M160.8 288.8h0M155.5 288.4h0M145.0 290.6h0M144.8 291.8h0M168.6 288.2h0M156.1 287.5h0M160.6 293.4h0M164.4 288.1h0M181.0 288.2h0M156.5 294.3h0M168.4 292.0h0M167.9 290.4h0M168.6 291.0h0M186.3 286.3h0M143.5 289.5h0M146.9 289.2h0M173.5 287.9h0M152.1 291.1h0M151.9 288.9h0M159.0 286.0h0M171.6 286.5h0M171.1 290.1h0M148.2 288.3h0M170.6 288.4h0M186.3 286.7h0M206.1 261.7h0M198.4 274.8h0M186.8 273.6h0M191.0 265.7h0M194.0 268.6h0M195.6 268.1h0M191.6 259.9h0M209.9 277.6h0M202.1 268.4h0M192.9 272.5h0M200.5 265.9h0M198.7 273.5h0M201.2 269.5h0M199.6 266.8h0M199.0 270.5h0M194.2 270.5h0M206.2 273.5h0M183.5 266.5h0M206.3 270.8h0M201.2 263.6h0M200.2 272.5h0M201.6 266.5h0M195.6 272.1h0M201.5 275.5h0M183.6 270.2h0M206.7 263.7h0M201.1 276.2h0M192.7 272.7h0M211.2 262.3h0M186.7 277.0h0M195.9 270.5h0M200.7 275.4h0M198.0 274.7h0M204.4 269.1h0M206.6 270.2h0M200.9 283.3h0M184.9 267.5h0M192.0 269.5h0M200.2 268.9h0M214.1 265.1h0M191.9 271.4h0M195.9 268.5h0M205.7 270.3h0M206.0 264.1h0M203.3 269.4h0M193.8 264.0h0M197.7 265.1h0M204.4 271.2h0M204.5 281.6h0M206.2 259.7h0M203.3 270.3h0M200.2 267.6h0M203.2 256.7h0M190.6 274.3h0M201.1 273.8h0M196.1 268.2h0M204.5 269.8h0M188.1 276.2h0M192.4 275.2h0M200.8 272.3h0M205.2 264.4h0M203.5 269.0h0M197.4 270.4h0M195.7 270.8h0M200.2 267.0h0M206.6 269.1h0M191.9 273.3h0M201.5 263.2h0M200.8 268.0h0M200.7 269.0h0M201.8 270.4h0M183.7 273.1h0M203.4 272.5h0M207.7 270.0h0M208.6 272.2h0M195.3 267.6h0M208.3 271.6h0M186.4 267.5h0M207.1 269.3h0M187.7 274.0h0M206.3 271.7h0M198.6 269.2h0M195.1 268.4h0M202.9 280.7h0M216.5 266.2h0M188.9 271.4h0M197.0 269.3h0M187.7 271.7h0M194.7 271.0h0M188.6 272.0h0M190.2 267.8h0M194.2 268.4h0M194.9 268.2h0M194.3 267.7h0M194.9 269.2h0M212.6 271.8h0M193.9 264.7h0M206.8 268.6h0M202.3 274.7h0M185.6 269.6h0M201.4 275.9h0M198.5 270.5h0M198.8 269.9h0M199.6 267.3h0M193.9 269.2h0M204.2 274.4h0M199.7 268.7h0M207.9 271.0h0M204.0 268.6h0M196.6 272.7h0M198.9 275.3h0M193.3 272.5h0M198.4 265.6h0M195.9 265.9h0M196.5 269.3h0M216.3 262.3h0M203.1 267.2h0M201.3 268.1h0M194.7 277.2h0M205.4 261.1h0M197.8 268.6h0M188.4 272.7h0M202.6 269.6h0M203.6 277.2h0M197.0 276.0h0M211.7 254.7h0M198.6 276.2h0M200.9 267.0h0M209.5 272.2h0M188.8 275.6h0M198.1 271.2h0M191.6 273.8h0M199.5 265.8h0M198.0 276.7h0M208.4 261.7h0M202.4 268.2h0M195.9 271.8h0M209.9 270.7h0M192.7 271.5h0M203.1 274.4h0M198.8 270.8h0M201.3 272.7h0M187.5 278.4h0M201.4 269.8h0M192.0 272.6h0M212.2 265.1h0M188.5 274.0h0M199.4 269.9h0M189.2 273.8h0M200.3 250.4h0M200.9 273.3h0M191.5 261.8h0M201.5 279.4h0M203.4 279.5h0M201.4 268.7h0M195.0 277.2h0M189.7 269.0h0M196.6 271.9h0M198.4 263.5h0M192.6 279.0h0M199.9 270.0h0M197.1 271.8h0M195.0 275.9h0M205.1 269.0h0M205.4 268.3h0M197.2 275.0h0M198.0 266.7h0M210.0 267.4h0M203.5 276.2h0M190.4 270.3h0M205.7 267.7h0M196.1 270.0h0M197.0 269.1h0M202.1 270.0h0M211.3 269.5h0M210.9 268.7h0M211.1 267.5h0M207.8 269.4h0M209.8 264.8h0M196.5 272.4h0M193.9 277.7h0M198.6 272.7h0M206.9 271.6h0M193.3 265.2h0M187.3 268.2h0M193.6 267.6h0M201.4 263.6h0M188.4 272.9h0M210.8 263.9h0M198.5 270.1h0M207.4 272.6h0M197.0 274.7h0M200.4 273.6h0M210.0 258.4h0M188.6 265.9h0M190.9 272.1h0M201.5 277.6h0M209.2 269.7h0M198.9 273.2h0M201.8 267.5h0M203.6 267.1h0M198.5 269.5h0M194.7 268.0h0M199.6 269.5h0M192.1 278.8h0M212.0 275.2h0M207.1 268.2h0M192.0 266.8h0M187.1 270.7h0M187.5 272.6h0M200.5 267.4h0M195.4 270.4h0M202.7 267.9h0M209.9 264.1h0M194.5 268.7h0M197.9 271.2h0M202.5 268.0h0M208.4 260.0h0M200.9 269.9h0M188.7 265.4h0M200.6 274.8h0M201.6 269.2h0M196.4 268.2h0M196.7 273.2h0M206.6 271.0h0M194.7 273.2h0M204.4 260.8h0M200.6 267.2h0M198.7 264.3h0M191.6 270.7h0M194.8 268.4h0M193.2 272.8h0M205.3 264.5h0M200.2 267.7h0M201.4 274.4h0M200.4 269.1h0M192.6 276.0h0M208.3 259.7h0M202.5 268.5h0M191.5 278.8h0M203.9 278.3h0M193.1 268.8h0M188.8 272.0h0M187.2 270.5h0M206.8 270.8h0M205.3 269.3h0M203.8 268.5h0M190.6 273.4h0M197.7 266.5h0M192.3 276.4h0M187.1 268.2h0M201.6 272.1h0M199.2 263.1h0M205.9 268.1h0M189.7 276.3h0M196.7 262.1h0M180.8 272.3h0M194.7 271.8h0M199.1 266.3h0M201.7 270.3h0M192.2 274.5h0M199.9 268.8h0M200.4 266.0h0M193.3 270.4h0M193.6 277.5h0M200.9 272.7h0M211.8 274.0h0M212.2 263.7h0M209.5 266.2h0M197.6 271.1h0M199.4 269.8h0M202.1 276.2h0M183.1 266.3h0M190.5 272.8h0M200.0 271.5h0M211.7 267.9h0M189.8 273.5h0M212.7 276.4h0M198.7 270.7h0M201.7 272.2h0M197.7 268.1h0M210.6 274.8h0M198.7 267.5h0M194.0 265.8h0M190.6 270.3h0M194.4 272.1h0M194.9 266.6h0M194.5 259.7h0M201.3 268.5h0M207.8 266.4h0M197.3 266.2h0M213.2 268.7h0M206.9 267.1h0M202.2 265.2h0M194.6 269.4h0M193.5 274.2h0M205.5 274.1h0M192.4 268.5h0M199.1 272.8h0M190.3 270.3h0M190.5 282.1h0M204.1 273.0h0M206.1 278.6h0M190.2 273.6h0M186.7 276.8h0M201.2 284.2h0M190.6 271.4h0M203.1 272.1h0M202.8 285.4h0M202.1 283.7h0M190.4 274.8h0M196.3 269.3h0M200.5 270.5h0M207.2 276.6h0M203.0 271.5h0M188.6 277.6h0M188.7 278.2h0M188.1 274.3h0M190.3 282.8h0M200.7 270.7h0M204.2 284.8h0M197.5 269.8h0M203.1 283.8h0M196.1 285.4h0M188.5 278.6h0M205.1 274.3h0M208.6 274.9h0M200.4 272.1h0M187.8 275.8h0M193.8 271.5h0M202.1 286.6h0M191.1 270.8h0M203.4 272.5h0M191.8 272.4h0M189.2 278.4h0M192.1 285.0h0M188.9 282.0h0M189.3 283.8h0M189.8 275.1h0M205.1 275.3h0M190.8 284.0h0M186.3 275.7h0M197.8 270.9h0M198.9 284.8h0M190.7 272.5h0M188.8 275.1h0M199.2 268.9h0M195.5 271.6h0M205.9 279.2h0M195.5 285.5h0M207.6 279.8h0M194.9 271.7h0M193.1 270.9h0M189.9 273.2h0M201.8 271.0h0M204.5 273.6h0M193.8 283.9h0M202.1 273.2h0M188.9 277.6h0M206.6 274.5h0M206.2 281.3h0M202.8 283.8h0M192.6 270.2h0M201.4 283.6h0M193.9 271.2h0M203.4 284.5h0M202.9 272.7h0M187.5 276.2h0M207.3 280.3h0M194.8 285.7h0M186.5 279.0h0M195.9 271.0h0M195.6 284.8h0M195.2 271.5h0M193.2 271.9h0M205.4 270.6h0M190.5 283.1h0M204.0 283.5h0M198.8 285.0h0M200.9 272.0h0M188.4 278.9h0M189.1 275.3h0M193.8 284.8h0M201.4 271.4h0M206.2 280.5h0M207.4 277.9h0M197.4 271.8h0M198.8 284.4h0M194.6 271.7h0M199.2 286.3h0M195.9 286.5h0M191.6 274.1h0M188.4 274.5h0M200.5 270.2h0M193.0 271.0h0M207.6 278.8h0M202.3 285.4h0M209.7 279.7h0M196.2 269.8h0M192.0 270.9h0M206.1 275.7h0M187.5 275.0h0M191.0 272.2h0M194.0 271.5h0M199.4 285.3h0M188.5 282.8h0M193.6 270.9h0M188.4 283.0h0M187.9 275.9h0M206.9 278.8h0M191.0 284.8h0M188.6 285.5h0M197.1 269.4h0M198.2 268.3h0M202.4 272.0h0M195.3 272.2h0M189.1 279.4h0M193.7 271.4h0M187.1 278.2h0M188.6 281.5h0M192.6 283.9h0M203.7 272.1h0M197.6 284.5h0M206.4 282.8h0M205.9 279.8h0M195.1 288.2h0M205.4 280.0h0M197.3 270.9h0M203.4 286.0h0M196.6 285.3h0M195.2 272.1h0M202.7 272.6h0M198.3 271.0h0M192.2 272.9h0M196.1 270.9h0M193.8 285.0h0M205.6 276.6h0M189.5 281.8h0M193.7 271.0h0M189.0 277.8h0M189.9 282.2h0M200.2 285.9h0M208.4 275.9h0M192.7 273.2h0M199.3 271.1h0M189.6 275.7h0M193.1 284.1h0M189.2 275.9h0M191.3 272.5h0M191.8 284.8h0M208.4 280.8h0M203.2 272.0h0M194.4 283.9h0M205.5 275.4h0M203.7 271.5h0M205.2 274.5h0M206.2 281.1h0M190.5 274.8h0M197.8 268.9h0M203.2 283.3h0M191.9 272.5h0M202.7 273.0h0M199.7 272.0h0M207.7 277.7h0M202.0 272.9h0M201.6 284.7h0M188.6 274.3h0M188.0 282.9h0M195.3 272.3h0M197.8 270.2h0M196.6 272.0h0M210.3 278.0h0M188.9 275.7h0M204.0 269.1h0M192.0 271.9h0M192.6 271.1h0M203.4 282.8h0M196.4 272.1h0M200.6 270.1h0M195.0 285.3h0M191.5 272.1h0M189.9 273.8h0M204.8 281.6h0M191.9 284.6h0M197.2 271.4h0M201.7 283.8h0M187.2 280.2h0M192.9 272.9h0M192.8 272.2h0M198.5 286.1h0M190.1 282.4h0M195.5 270.1h0M190.8 273.7h0M198.7 272.4h0M192.5 273.0h0M198.0 267.6h0M193.2 285.3h0M194.5 272.2h0M198.2 271.3h0M189.2 282.2h0M204.4 285.8h0M208.0 287.2h0M205.2 281.9h0M203.2 285.6h0M202.9 273.4h0M203.0 280.2h0M207.9 281.5h0M215.6 284.3h0M213.8 288.6h0M214.3 286.7h0M205.1 284.8h0M207.4 286.1h0M204.5 285.7h0M205.0 286.0h0M215.5 288.0h0M205.6 288.4h0M197.6 283.7h0M199.4 283.1h0M200.9 282.9h0M203.8 288.2h0M221.2 286.5h0M214.3 285.0h0M207.6 282.2h0M201.1 279.9h0M213.0 281.4h0M210.5 279.5h0M222.1 288.6h0M207.6 290.7h0M211.3 287.6h0M207.3 281.3h0" stroke="#000" stroke-opacity="0.4" stroke-width="0.84" stroke-linecap="round" fill="none"/>
<path d="M148.40 278.00 L148.33 276.76 L148.37 275.58 L148.54 274.46 L148.81 273.41 L149.18 272.43 L149.66 271.51 L150.22 270.65 L150.88 269.85 L151.61 269.12 L152.43 268.45 L153.31 267.84 L154.25 267.30 L155.26 266.82 L156.32 266.40 L157.43 266.05 L158.58 265.75 L159.77 265.52 L160.99 265.35 L162.23 265.25 L163.50 265.20 L164.75 264.87 L165.98 264.53 L167.21 264.16 L168.43 263.78 L169.64 263.38 L170.85 262.97 L172.04 262.53 L173.23 262.08 L174.41 261.61 L175.57 261.12 L176.74 260.62 L177.89 260.10 L179.03 259.56 L180.17 259.00 L181.29 258.43 L182.41 257.84 L183.52 257.23 L184.62 256.61 L185.72 255.96 L186.80 255.30 L186.03 256.02 L185.27 256.75 L184.53 257.48 L183.81 258.21 L183.11 258.95 L182.42 259.69 L181.74 260.44 L181.09 261.19 L180.45 261.94 L179.82 262.70 L179.22 263.46 L178.63 264.23 L178.05 265.00 L177.50 265.77 L176.96 266.55 L176.43 267.33 L175.92 268.12 L175.43 268.91 L174.96 269.70 L174.50 270.50 L174.01 271.97 L173.44 273.38 L172.80 274.73 L172.09 276.01 L171.31 277.23 L170.48 278.37 L169.59 279.45 L168.64 280.45 L167.66 281.38 L166.62 282.23 L165.56 282.99 L164.46 283.68 L163.33 284.29 L162.17 284.81 L161.00 285.24 L159.81 285.58 L158.61 285.83 L157.41 285.98 L156.20 286.04 L155.00 286.00 L154.28 285.89 L153.61 285.72 L152.98 285.52 L152.41 285.27 L151.89 284.99 L151.41 284.67 L150.97 284.32 L150.57 283.93 L150.22 283.52 L149.90 283.09 L149.62 282.63 L149.37 282.16 L149.15 281.66 L148.97 281.16 L148.81 280.64 L148.68 280.12 L148.58 279.59 L148.50 279.06 L148.44 278.53Z" fill="#fff" fill-opacity="1" stroke="#000" stroke-opacity="0.9" stroke-width="0.75" stroke-linejoin="round"/>
<path d="M150.40 278.00 L150.35 276.97 L150.39 276.00 L150.54 275.07 L150.78 274.19 L151.10 273.36 L151.52 272.58 L152.01 271.85 L152.58 271.17 L153.22 270.55 L153.94 269.97 L154.72 269.45 L155.56 268.99 L156.45 268.57 L157.40 268.21 L158.40 267.90 L159.45 267.65 L160.53 267.45 L161.66 267.31 L162.81 267.23 L164.00 267.20 L164.90 266.97 L165.79 266.73 L166.68 266.48 L167.56 266.21 L168.44 265.92 L169.31 265.63 L170.18 265.32 L171.04 264.99 L171.90 264.65 L172.75 264.30 L173.60 263.93 L174.44 263.55 L175.28 263.16 L176.11 262.75 L176.94 262.32 L177.76 261.89 L178.58 261.44 L179.39 260.97 L180.20 260.49 L181.00 260.00 L180.46 260.50 L179.93 261.01 L179.41 261.52 L178.91 262.04 L178.43 262.56 L177.95 263.09 L177.49 263.62 L177.05 264.16 L176.62 264.70 L176.20 265.25 L175.80 265.80 L175.41 266.36 L175.03 266.92 L174.67 267.49 L174.32 268.06 L173.99 268.64 L173.67 269.22 L173.37 269.81 L173.08 270.40 L172.80 271.00 L172.35 272.32 L171.84 273.57 L171.27 274.76 L170.65 275.89 L169.98 276.94 L169.26 277.93 L168.50 278.86 L167.69 279.71 L166.85 280.49 L165.97 281.20 L165.07 281.84 L164.13 282.40 L163.17 282.90 L162.19 283.31 L161.18 283.66 L160.17 283.92 L159.14 284.11 L158.10 284.22 L157.05 284.25 L156.00 284.20 L155.39 284.10 L154.83 283.96 L154.31 283.80 L153.82 283.61 L153.38 283.40 L152.98 283.16 L152.61 282.90 L152.27 282.62 L151.97 282.32 L151.70 282.00 L151.46 281.66 L151.25 281.31 L151.06 280.93 L150.90 280.55 L150.77 280.15 L150.66 279.74 L150.56 279.32 L150.49 278.89 L150.44 278.45Z" fill="none" fill-opacity="1" stroke="#000" stroke-opacity="0.75" stroke-width="0.5" stroke-linejoin="round"/>
<path d="M170.39 271.36 L170.52 271.68 L170.63 272.02 L170.71 272.37 L170.76 272.72 L170.79 273.08 L170.79 273.45 L170.77 273.82 L170.72 274.20 L170.65 274.58 L170.55 274.96 L170.43 275.35 L170.28 275.73 L170.11 276.11 L169.91 276.49 L169.69 276.87 L169.45 277.24 L169.18 277.61 L168.90 277.97 L168.59 278.33 L168.26 278.68 L167.92 279.01 L167.55 279.34 L167.17 279.66 L166.78 279.96 L166.37 280.25 L165.94 280.53 L165.51 280.80 L165.06 281.05 L164.60 281.28 L164.13 281.50 L163.66 281.70 L163.18 281.88 L162.69 282.05 L162.20 282.20 L161.71 282.33 L161.22 282.44 L160.73 282.53 L160.24 282.60 L159.75 282.65 L159.27 282.68 L158.80 282.69 L158.33 282.68 L157.87 282.65 L157.42 282.60 L156.98 282.53 L156.55 282.44 L156.13 282.33 L155.73 282.21 L155.35 282.06 L154.98 281.90 L154.63 281.71 L154.30 281.51 L153.99 281.30 L153.70 281.06 L153.42 280.81 L153.18 280.55 L152.95 280.27 L152.75 279.98 L152.57 279.68 L152.41 279.36 L152.28 279.04 L152.17 278.70 L152.09 278.35 L152.04 278.00 L152.01 277.64 L152.01 277.27 L152.03 276.90 L152.08 276.52 L152.15 276.14 L152.25 275.76 L152.37 275.37 L152.52 274.99 L152.69 274.61 L152.89 274.23 L153.11 273.85 L153.35 273.48 L153.62 273.11 L153.90 272.75 L154.21 272.39 L154.54 272.04 L154.88 271.71 L155.25 271.38 L155.63 271.06 L156.02 270.76 L156.43 270.47 L156.86 270.19 L157.29 269.92 L157.74 269.67 L158.20 269.44 L158.67 269.22 L159.14 269.02 L159.62 268.84 L160.11 268.67 L160.60 268.52 L161.09 268.39 L161.58 268.28 L162.07 268.19 L162.56 268.12 L163.05 268.07 L163.53 268.04 L164.00 268.03 L164.47 268.04 L164.93 268.07 L165.38 268.12 L165.82 268.19 L166.25 268.28 L166.67 268.39 L167.07 268.51 L167.45 268.66 L167.82 268.82 L168.17 269.01 L168.50 269.21 L168.81 269.42 L169.10 269.66 L169.38 269.91 L169.62 270.17 L169.85 270.45 L170.05 270.74 L170.23 271.04Z" fill="none" fill-opacity="1" stroke="#000" stroke-opacity="0.8" stroke-width="0.55" stroke-linejoin="round"/>
<path d="M169.47 271.54 L169.58 271.82 L169.67 272.12 L169.74 272.42 L169.79 272.73 L169.82 273.05 L169.82 273.37 L169.80 273.70 L169.76 274.03 L169.69 274.36 L169.61 274.69 L169.50 275.03 L169.37 275.36 L169.22 275.70 L169.05 276.03 L168.85 276.36 L168.64 276.69 L168.41 277.01 L168.16 277.33 L167.89 277.64 L167.60 277.94 L167.30 278.24 L166.98 278.52 L166.65 278.80 L166.31 279.07 L165.95 279.32 L165.57 279.57 L165.19 279.80 L164.80 280.02 L164.40 280.22 L163.99 280.41 L163.58 280.59 L163.16 280.75 L162.73 280.89 L162.30 281.02 L161.87 281.13 L161.44 281.23 L161.01 281.31 L160.59 281.37 L160.16 281.42 L159.74 281.44 L159.32 281.45 L158.91 281.44 L158.51 281.42 L158.11 281.38 L157.73 281.31 L157.36 281.24 L156.99 281.14 L156.64 281.03 L156.31 280.90 L155.98 280.76 L155.68 280.60 L155.39 280.42 L155.11 280.23 L154.86 280.03 L154.62 279.81 L154.40 279.58 L154.21 279.34 L154.03 279.08 L153.87 278.82 L153.73 278.54 L153.62 278.26 L153.53 277.96 L153.46 277.66 L153.41 277.35 L153.38 277.03 L153.38 276.71 L153.40 276.38 L153.44 276.05 L153.51 275.72 L153.59 275.39 L153.70 275.05 L153.83 274.72 L153.98 274.38 L154.15 274.05 L154.35 273.72 L154.56 273.39 L154.79 273.07 L155.04 272.75 L155.31 272.44 L155.60 272.14 L155.90 271.84 L156.22 271.56 L156.55 271.28 L156.89 271.01 L157.25 270.76 L157.63 270.51 L158.01 270.28 L158.40 270.06 L158.80 269.86 L159.21 269.67 L159.62 269.49 L160.04 269.33 L160.47 269.19 L160.90 269.06 L161.33 268.95 L161.76 268.85 L162.19 268.77 L162.61 268.71 L163.04 268.66 L163.46 268.64 L163.88 268.63 L164.29 268.64 L164.69 268.66 L165.09 268.70 L165.47 268.77 L165.84 268.84 L166.21 268.94 L166.56 269.05 L166.89 269.18 L167.22 269.32 L167.52 269.48 L167.81 269.66 L168.09 269.85 L168.34 270.05 L168.58 270.27 L168.80 270.50 L168.99 270.74 L169.17 271.00 L169.33 271.26Z" fill="none" fill-opacity="1" stroke="#000" stroke-opacity="0.8" stroke-width="0.55" stroke-linejoin="round"/>
<path d="M168.54 271.72 L168.64 271.96 L168.72 272.22 L168.78 272.48 L168.82 272.74 L168.84 273.01 L168.85 273.29 L168.83 273.57 L168.79 273.85 L168.74 274.14 L168.66 274.42 L168.57 274.71 L168.46 275.00 L168.33 275.28 L168.18 275.57 L168.02 275.85 L167.83 276.13 L167.64 276.41 L167.42 276.68 L167.19 276.95 L166.95 277.21 L166.69 277.46 L166.41 277.71 L166.13 277.94 L165.83 278.17 L165.53 278.39 L165.21 278.60 L164.88 278.80 L164.54 278.99 L164.20 279.16 L163.85 279.32 L163.49 279.48 L163.13 279.61 L162.77 279.74 L162.40 279.85 L162.04 279.94 L161.67 280.03 L161.30 280.09 L160.93 280.15 L160.57 280.19 L160.20 280.21 L159.85 280.22 L159.50 280.21 L159.15 280.19 L158.81 280.15 L158.48 280.10 L158.16 280.03 L157.85 279.95 L157.55 279.85 L157.26 279.75 L156.99 279.62 L156.72 279.48 L156.47 279.33 L156.24 279.17 L156.02 279.00 L155.82 278.81 L155.63 278.61 L155.46 278.41 L155.31 278.19 L155.17 277.96 L155.06 277.72 L154.96 277.48 L154.88 277.22 L154.82 276.96 L154.78 276.70 L154.76 276.43 L154.75 276.15 L154.77 275.87 L154.81 275.59 L154.86 275.30 L154.94 275.02 L155.03 274.73 L155.14 274.44 L155.27 274.16 L155.42 273.87 L155.58 273.59 L155.77 273.31 L155.96 273.03 L156.18 272.76 L156.41 272.49 L156.65 272.23 L156.91 271.98 L157.19 271.73 L157.47 271.50 L157.77 271.27 L158.07 271.05 L158.39 270.84 L158.72 270.64 L159.06 270.45 L159.40 270.28 L159.75 270.12 L160.11 269.96 L160.47 269.83 L160.83 269.70 L161.20 269.59 L161.56 269.50 L161.93 269.41 L162.30 269.35 L162.67 269.29 L163.03 269.25 L163.40 269.23 L163.75 269.22 L164.10 269.23 L164.45 269.25 L164.79 269.29 L165.12 269.34 L165.44 269.41 L165.75 269.49 L166.05 269.59 L166.34 269.69 L166.61 269.82 L166.88 269.96 L167.13 270.11 L167.36 270.27 L167.58 270.44 L167.78 270.63 L167.97 270.83 L168.14 271.03 L168.29 271.25 L168.43 271.48Z" fill="none" fill-opacity="1" stroke="#000" stroke-opacity="0.8" stroke-width="0.55" stroke-linejoin="round"/>
<path d="M167.62 271.90 L167.70 272.10 L167.77 272.31 L167.82 272.53 L167.85 272.75 L167.87 272.98 L167.87 273.21 L167.86 273.44 L167.83 273.68 L167.78 273.91 L167.72 274.15 L167.64 274.39 L167.55 274.63 L167.44 274.87 L167.32 275.11 L167.18 275.34 L167.03 275.58 L166.86 275.81 L166.68 276.03 L166.49 276.26 L166.29 276.47 L166.07 276.68 L165.85 276.89 L165.61 277.09 L165.36 277.28 L165.10 277.46 L164.84 277.63 L164.57 277.80 L164.29 277.95 L164.00 278.10 L163.71 278.24 L163.41 278.36 L163.11 278.48 L162.81 278.58 L162.50 278.67 L162.20 278.75 L161.89 278.82 L161.58 278.88 L161.28 278.92 L160.97 278.95 L160.67 278.97 L160.37 278.98 L160.08 278.97 L159.79 278.96 L159.51 278.93 L159.24 278.88 L158.97 278.83 L158.71 278.76 L158.46 278.68 L158.22 278.59 L157.99 278.48 L157.77 278.37 L157.56 278.25 L157.37 278.11 L157.18 277.96 L157.02 277.81 L156.86 277.64 L156.72 277.47 L156.59 277.29 L156.48 277.10 L156.38 276.90 L156.30 276.70 L156.23 276.49 L156.18 276.27 L156.15 276.05 L156.13 275.82 L156.13 275.59 L156.14 275.36 L156.17 275.12 L156.22 274.89 L156.28 274.65 L156.36 274.41 L156.45 274.17 L156.56 273.93 L156.68 273.69 L156.82 273.46 L156.97 273.22 L157.14 272.99 L157.32 272.77 L157.51 272.54 L157.71 272.33 L157.93 272.12 L158.15 271.91 L158.39 271.71 L158.64 271.52 L158.90 271.34 L159.16 271.17 L159.43 271.00 L159.71 270.85 L160.00 270.70 L160.29 270.56 L160.59 270.44 L160.89 270.32 L161.19 270.22 L161.50 270.13 L161.80 270.05 L162.11 269.98 L162.42 269.92 L162.72 269.88 L163.03 269.85 L163.33 269.83 L163.63 269.82 L163.92 269.83 L164.21 269.84 L164.49 269.87 L164.76 269.92 L165.03 269.97 L165.29 270.04 L165.54 270.12 L165.78 270.21 L166.01 270.32 L166.23 270.43 L166.44 270.55 L166.63 270.69 L166.82 270.84 L166.98 270.99 L167.14 271.16 L167.28 271.33 L167.41 271.51 L167.52 271.70Z" fill="none" fill-opacity="1" stroke="#000" stroke-opacity="0.8" stroke-width="0.55" stroke-linejoin="round"/>
<path d="M166.69 272.08 L166.76 272.24 L166.81 272.41 L166.85 272.58 L166.88 272.76 L166.90 272.94 L166.90 273.13 L166.89 273.31 L166.86 273.50 L166.83 273.69 L166.78 273.88 L166.71 274.07 L166.64 274.27 L166.55 274.46 L166.45 274.65 L166.34 274.84 L166.22 275.02 L166.09 275.21 L165.95 275.39 L165.79 275.56 L165.63 275.74 L165.46 275.91 L165.28 276.07 L165.09 276.23 L164.89 276.38 L164.68 276.53 L164.47 276.67 L164.25 276.80 L164.03 276.92 L163.80 277.04 L163.57 277.15 L163.33 277.25 L163.09 277.34 L162.85 277.42 L162.60 277.50 L162.36 277.56 L162.11 277.62 L161.87 277.66 L161.62 277.70 L161.38 277.72 L161.14 277.74 L160.90 277.74 L160.66 277.74 L160.43 277.72 L160.21 277.70 L159.99 277.67 L159.77 277.62 L159.57 277.57 L159.37 277.50 L159.17 277.43 L158.99 277.35 L158.82 277.26 L158.65 277.16 L158.49 277.05 L158.35 276.93 L158.21 276.81 L158.09 276.68 L157.97 276.54 L157.87 276.39 L157.78 276.24 L157.71 276.08 L157.64 275.92 L157.59 275.75 L157.55 275.58 L157.52 275.40 L157.50 275.22 L157.50 275.03 L157.51 274.85 L157.54 274.66 L157.57 274.47 L157.62 274.28 L157.69 274.09 L157.76 273.89 L157.85 273.70 L157.95 273.51 L158.06 273.32 L158.18 273.14 L158.31 272.95 L158.45 272.77 L158.61 272.60 L158.77 272.42 L158.94 272.25 L159.12 272.09 L159.31 271.93 L159.51 271.78 L159.72 271.63 L159.93 271.49 L160.15 271.36 L160.37 271.24 L160.60 271.12 L160.83 271.01 L161.07 270.91 L161.31 270.82 L161.55 270.74 L161.80 270.66 L162.04 270.60 L162.29 270.54 L162.53 270.50 L162.78 270.46 L163.02 270.44 L163.26 270.42 L163.50 270.42 L163.74 270.42 L163.97 270.44 L164.19 270.46 L164.41 270.49 L164.63 270.54 L164.83 270.59 L165.03 270.66 L165.23 270.73 L165.41 270.81 L165.58 270.90 L165.75 271.00 L165.91 271.11 L166.05 271.23 L166.19 271.35 L166.31 271.48 L166.43 271.62 L166.53 271.77 L166.62 271.92Z" fill="none" fill-opacity="1" stroke="#000" stroke-opacity="0.8" stroke-width="0.55" stroke-linejoin="round"/>
<path d="M165.77 272.26 L165.82 272.38 L165.86 272.51 L165.89 272.64 L165.91 272.77 L165.92 272.91 L165.92 273.04 L165.91 273.18 L165.90 273.33 L165.87 273.47 L165.83 273.61 L165.79 273.76 L165.73 273.90 L165.66 274.04 L165.59 274.19 L165.51 274.33 L165.42 274.47 L165.32 274.60 L165.21 274.74 L165.10 274.87 L164.97 275.00 L164.84 275.13 L164.71 275.25 L164.56 275.37 L164.42 275.49 L164.26 275.60 L164.10 275.70 L163.94 275.80 L163.77 275.89 L163.60 275.98 L163.42 276.06 L163.25 276.14 L163.07 276.21 L162.89 276.27 L162.70 276.32 L162.52 276.37 L162.33 276.41 L162.15 276.45 L161.97 276.47 L161.78 276.49 L161.60 276.50 L161.42 276.51 L161.25 276.50 L161.08 276.49 L160.91 276.48 L160.74 276.45 L160.58 276.42 L160.43 276.38 L160.28 276.33 L160.13 276.27 L159.99 276.21 L159.86 276.14 L159.74 276.07 L159.62 275.99 L159.51 275.90 L159.41 275.81 L159.32 275.71 L159.23 275.60 L159.15 275.49 L159.09 275.38 L159.03 275.26 L158.98 275.14 L158.94 275.01 L158.91 274.88 L158.89 274.75 L158.88 274.61 L158.88 274.48 L158.89 274.34 L158.90 274.19 L158.93 274.05 L158.97 273.91 L159.01 273.76 L159.07 273.62 L159.14 273.48 L159.21 273.33 L159.29 273.19 L159.38 273.05 L159.48 272.92 L159.59 272.78 L159.70 272.65 L159.83 272.52 L159.96 272.39 L160.09 272.27 L160.24 272.15 L160.38 272.03 L160.54 271.92 L160.70 271.82 L160.86 271.72 L161.03 271.63 L161.20 271.54 L161.38 271.46 L161.55 271.38 L161.73 271.31 L161.91 271.25 L162.10 271.20 L162.28 271.15 L162.47 271.11 L162.65 271.07 L162.83 271.05 L163.02 271.03 L163.20 271.02 L163.38 271.01 L163.55 271.02 L163.72 271.03 L163.89 271.04 L164.06 271.07 L164.22 271.10 L164.37 271.14 L164.52 271.19 L164.67 271.25 L164.81 271.31 L164.94 271.38 L165.06 271.45 L165.18 271.53 L165.29 271.62 L165.39 271.71 L165.48 271.81 L165.57 271.92 L165.65 272.03 L165.71 272.14Z" fill="none" fill-opacity="1" stroke="#000" stroke-opacity="0.8" stroke-width="0.55" stroke-linejoin="round"/>
<path d="M164.85 272.44 L164.88 272.52 L164.91 272.61 L164.93 272.69 L164.94 272.78 L164.95 272.87 L164.95 272.96 L164.94 273.06 L164.93 273.15 L164.91 273.25 L164.89 273.34 L164.86 273.44 L164.82 273.53 L164.78 273.63 L164.73 273.72 L164.67 273.82 L164.61 273.91 L164.55 274.00 L164.47 274.09 L164.40 274.18 L164.32 274.27 L164.23 274.35 L164.14 274.44 L164.04 274.51 L163.94 274.59 L163.84 274.66 L163.74 274.73 L163.63 274.80 L163.51 274.86 L163.40 274.92 L163.28 274.97 L163.16 275.03 L163.04 275.07 L162.92 275.11 L162.80 275.15 L162.68 275.18 L162.56 275.21 L162.43 275.23 L162.31 275.25 L162.19 275.26 L162.07 275.27 L161.95 275.27 L161.83 275.27 L161.72 275.26 L161.60 275.25 L161.49 275.23 L161.39 275.21 L161.28 275.18 L161.18 275.15 L161.09 275.12 L161.00 275.07 L160.91 275.03 L160.82 274.98 L160.75 274.92 L160.67 274.87 L160.61 274.80 L160.54 274.74 L160.49 274.67 L160.44 274.60 L160.39 274.52 L160.35 274.44 L160.32 274.36 L160.29 274.27 L160.27 274.19 L160.26 274.10 L160.25 274.01 L160.25 273.92 L160.26 273.82 L160.27 273.73 L160.29 273.63 L160.31 273.54 L160.34 273.44 L160.38 273.35 L160.42 273.25 L160.47 273.16 L160.53 273.06 L160.59 272.97 L160.65 272.88 L160.73 272.79 L160.80 272.70 L160.88 272.61 L160.97 272.53 L161.06 272.44 L161.16 272.37 L161.26 272.29 L161.36 272.22 L161.46 272.15 L161.57 272.08 L161.69 272.02 L161.80 271.96 L161.92 271.91 L162.04 271.85 L162.16 271.81 L162.28 271.77 L162.40 271.73 L162.52 271.70 L162.64 271.67 L162.77 271.65 L162.89 271.63 L163.01 271.62 L163.13 271.61 L163.25 271.61 L163.37 271.61 L163.48 271.62 L163.60 271.63 L163.71 271.65 L163.81 271.67 L163.92 271.70 L164.02 271.73 L164.11 271.76 L164.20 271.81 L164.29 271.85 L164.38 271.90 L164.45 271.96 L164.53 272.01 L164.59 272.08 L164.66 272.14 L164.71 272.21 L164.76 272.28 L164.81 272.36Z" fill="none" fill-opacity="1" stroke="#000" stroke-opacity="0.8" stroke-width="0.55" stroke-linejoin="round"/>
<path d="M205.80 278.30 L205.79 278.61 L205.76 278.92 L205.70 279.22 L205.62 279.53 L205.52 279.83 L205.40 280.12 L205.26 280.41 L205.09 280.70 L204.91 280.98 L204.70 281.25 L204.48 281.51 L204.23 281.77 L203.97 282.01 L203.69 282.25 L203.40 282.47 L203.09 282.68 L202.76 282.89 L202.42 283.07 L202.07 283.25 L201.70 283.41 L201.32 283.56 L200.94 283.69 L200.54 283.81 L200.13 283.91 L199.72 284.00 L199.30 284.07 L198.88 284.13 L198.46 284.17 L198.03 284.19 L197.60 284.20 L197.17 284.19 L196.74 284.17 L196.32 284.13 L195.90 284.07 L195.48 284.00 L195.07 283.91 L194.66 283.81 L194.26 283.69 L193.88 283.56 L193.50 283.41 L193.13 283.25 L192.78 283.07 L192.44 282.89 L192.11 282.68 L191.80 282.47 L191.51 282.25 L191.23 282.01 L190.97 281.77 L190.72 281.51 L190.50 281.25 L190.29 280.98 L190.11 280.70 L189.94 280.41 L189.80 280.12 L189.68 279.83 L189.58 279.53 L189.50 279.22 L189.44 278.92 L189.41 278.61 L189.40 278.30 L189.41 277.99 L189.44 277.68 L189.50 277.38 L189.58 277.07 L189.68 276.77 L189.80 276.48 L189.94 276.19 L190.11 275.90 L190.29 275.62 L190.50 275.35 L190.72 275.09 L190.97 274.83 L191.23 274.59 L191.51 274.35 L191.80 274.13 L192.11 273.92 L192.44 273.71 L192.78 273.53 L193.13 273.35 L193.50 273.19 L193.88 273.04 L194.26 272.91 L194.66 272.79 L195.07 272.69 L195.48 272.60 L195.90 272.53 L196.32 272.47 L196.74 272.43 L197.17 272.41 L197.60 272.40 L198.03 272.41 L198.46 272.43 L198.88 272.47 L199.30 272.53 L199.72 272.60 L200.13 272.69 L200.54 272.79 L200.94 272.91 L201.32 273.04 L201.70 273.19 L202.07 273.35 L202.42 273.53 L202.76 273.71 L203.09 273.92 L203.40 274.13 L203.69 274.35 L203.97 274.59 L204.23 274.83 L204.48 275.09 L204.70 275.35 L204.91 275.62 L205.09 275.90 L205.26 276.19 L205.40 276.48 L205.52 276.77 L205.62 277.07 L205.70 277.38 L205.76 277.68 L205.79 277.99Z" fill="#fff" fill-opacity="1" stroke="#000" stroke-opacity="0.85" stroke-width="0.6" stroke-linejoin="round"/>
<path d="M203.80 278.48 L203.79 278.71 L203.77 278.94 L203.72 279.17 L203.67 279.40 L203.59 279.62 L203.50 279.84 L203.39 280.06 L203.27 280.27 L203.13 280.48 L202.98 280.69 L202.81 280.89 L202.63 281.08 L202.43 281.26 L202.22 281.44 L202.00 281.60 L201.77 281.76 L201.52 281.91 L201.26 282.05 L201.00 282.19 L200.72 282.31 L200.44 282.42 L200.15 282.52 L199.85 282.61 L199.55 282.68 L199.24 282.75 L198.93 282.80 L198.61 282.85 L198.29 282.88 L197.97 282.89 L197.65 282.90 L197.33 282.89 L197.01 282.88 L196.69 282.85 L196.37 282.80 L196.06 282.75 L195.75 282.68 L195.45 282.61 L195.15 282.52 L194.86 282.42 L194.57 282.31 L194.30 282.19 L194.04 282.05 L193.78 281.91 L193.53 281.76 L193.30 281.60 L193.08 281.44 L192.87 281.26 L192.67 281.08 L192.49 280.89 L192.32 280.69 L192.17 280.48 L192.03 280.27 L191.91 280.06 L191.80 279.84 L191.71 279.62 L191.63 279.40 L191.58 279.17 L191.53 278.94 L191.51 278.71 L191.50 278.48 L191.51 278.24 L191.53 278.01 L191.58 277.78 L191.63 277.55 L191.71 277.33 L191.80 277.11 L191.91 276.89 L192.03 276.68 L192.17 276.47 L192.32 276.26 L192.49 276.06 L192.67 275.87 L192.87 275.69 L193.08 275.51 L193.30 275.35 L193.53 275.19 L193.78 275.04 L194.04 274.90 L194.30 274.76 L194.57 274.64 L194.86 274.53 L195.15 274.43 L195.45 274.34 L195.75 274.27 L196.06 274.20 L196.37 274.15 L196.69 274.10 L197.01 274.07 L197.33 274.06 L197.65 274.05 L197.97 274.06 L198.29 274.07 L198.61 274.10 L198.93 274.15 L199.24 274.20 L199.55 274.27 L199.85 274.34 L200.15 274.43 L200.44 274.53 L200.72 274.64 L201.00 274.76 L201.26 274.90 L201.52 275.04 L201.77 275.19 L202.00 275.35 L202.22 275.51 L202.43 275.69 L202.63 275.87 L202.81 276.06 L202.98 276.26 L203.13 276.47 L203.27 276.68 L203.39 276.89 L203.50 277.11 L203.59 277.33 L203.67 277.55 L203.72 277.78 L203.77 278.01 L203.79 278.24Z" fill="none" fill-opacity="1" stroke="#000" stroke-opacity="0.8" stroke-width="0.55" stroke-linejoin="round"/>
<path d="M201.96 278.64 L201.95 278.80 L201.94 278.96 L201.91 279.12 L201.87 279.27 L201.81 279.43 L201.75 279.58 L201.68 279.74 L201.59 279.88 L201.50 280.03 L201.39 280.17 L201.27 280.31 L201.15 280.44 L201.01 280.57 L200.86 280.69 L200.71 280.81 L200.55 280.92 L200.38 281.02 L200.20 281.12 L200.02 281.21 L199.83 281.29 L199.63 281.37 L199.43 281.44 L199.22 281.50 L199.01 281.55 L198.80 281.60 L198.58 281.64 L198.36 281.67 L198.14 281.69 L197.92 281.70 L197.70 281.70 L197.47 281.70 L197.25 281.69 L197.03 281.67 L196.81 281.64 L196.59 281.60 L196.38 281.55 L196.17 281.50 L195.96 281.44 L195.76 281.37 L195.56 281.29 L195.37 281.21 L195.19 281.12 L195.01 281.02 L194.84 280.92 L194.68 280.81 L194.53 280.69 L194.38 280.57 L194.25 280.44 L194.12 280.31 L194.00 280.17 L193.90 280.03 L193.80 279.88 L193.72 279.74 L193.64 279.58 L193.58 279.43 L193.53 279.27 L193.48 279.12 L193.46 278.96 L193.44 278.80 L193.43 278.64 L193.44 278.48 L193.46 278.32 L193.48 278.16 L193.53 278.00 L193.58 277.84 L193.64 277.69 L193.72 277.54 L193.80 277.39 L193.90 277.24 L194.00 277.10 L194.12 276.97 L194.25 276.83 L194.38 276.71 L194.53 276.58 L194.68 276.47 L194.84 276.36 L195.01 276.25 L195.19 276.15 L195.37 276.06 L195.56 275.98 L195.76 275.90 L195.96 275.83 L196.17 275.77 L196.38 275.72 L196.59 275.67 L196.81 275.64 L197.03 275.61 L197.25 275.58 L197.47 275.57 L197.70 275.57 L197.92 275.57 L198.14 275.58 L198.36 275.61 L198.58 275.64 L198.80 275.67 L199.01 275.72 L199.22 275.77 L199.43 275.83 L199.63 275.90 L199.83 275.98 L200.02 276.06 L200.20 276.15 L200.38 276.25 L200.55 276.36 L200.71 276.47 L200.86 276.58 L201.01 276.71 L201.15 276.83 L201.27 276.97 L201.39 277.10 L201.50 277.24 L201.59 277.39 L201.68 277.54 L201.75 277.69 L201.81 277.84 L201.87 278.00 L201.91 278.16 L201.94 278.32 L201.95 278.48Z" fill="none" fill-opacity="1" stroke="#000" stroke-opacity="0.8" stroke-width="0.55" stroke-linejoin="round"/>
<path d="M200.20 278.79 L200.20 278.88 L200.19 278.98 L200.17 279.07 L200.15 279.16 L200.12 279.25 L200.08 279.34 L200.04 279.42 L199.99 279.51 L199.93 279.59 L199.87 279.68 L199.80 279.75 L199.73 279.83 L199.65 279.90 L199.57 279.97 L199.48 280.04 L199.39 280.11 L199.29 280.17 L199.19 280.22 L199.08 280.27 L198.97 280.32 L198.86 280.37 L198.74 280.41 L198.62 280.44 L198.50 280.47 L198.38 280.50 L198.25 280.52 L198.12 280.54 L198.00 280.55 L197.87 280.56 L197.74 280.56 L197.61 280.56 L197.48 280.55 L197.36 280.54 L197.23 280.52 L197.10 280.50 L196.98 280.47 L196.86 280.44 L196.74 280.41 L196.62 280.37 L196.51 280.32 L196.40 280.27 L196.29 280.22 L196.19 280.17 L196.09 280.11 L196.00 280.04 L195.91 279.97 L195.83 279.90 L195.75 279.83 L195.68 279.75 L195.61 279.68 L195.55 279.59 L195.49 279.51 L195.44 279.42 L195.40 279.34 L195.36 279.25 L195.33 279.16 L195.31 279.07 L195.29 278.98 L195.28 278.88 L195.28 278.79 L195.28 278.70 L195.29 278.60 L195.31 278.51 L195.33 278.42 L195.36 278.33 L195.40 278.24 L195.44 278.16 L195.49 278.07 L195.55 277.99 L195.61 277.91 L195.68 277.83 L195.75 277.75 L195.83 277.68 L195.91 277.61 L196.00 277.54 L196.09 277.47 L196.19 277.41 L196.29 277.36 L196.40 277.31 L196.51 277.26 L196.62 277.21 L196.74 277.17 L196.86 277.14 L196.98 277.11 L197.10 277.08 L197.23 277.06 L197.36 277.04 L197.48 277.03 L197.61 277.02 L197.74 277.02 L197.87 277.02 L198.00 277.03 L198.12 277.04 L198.25 277.06 L198.38 277.08 L198.50 277.11 L198.62 277.14 L198.74 277.17 L198.86 277.21 L198.97 277.26 L199.08 277.31 L199.19 277.36 L199.29 277.41 L199.39 277.47 L199.48 277.54 L199.57 277.61 L199.65 277.68 L199.73 277.75 L199.80 277.83 L199.87 277.91 L199.93 277.99 L199.99 278.07 L200.04 278.16 L200.08 278.24 L200.12 278.33 L200.15 278.42 L200.17 278.51 L200.19 278.60 L200.20 278.70Z" fill="none" fill-opacity="1" stroke="#000" stroke-opacity="0.8" stroke-width="0.55" stroke-linejoin="round"/>
<ellipse cx="207" cy="276.7" rx="23.5" ry="17.2" transform="rotate(0 207 276.7)" stroke="#000" stroke-opacity="1" stroke-width="1.6" fill="none"/>
<text x="219.8" y="279.4" font-size="7.0" font-weight="normal" text-anchor="start" style="stroke-width:0.12px">14</text>
<rect x="134.4" y="200.3" width="103.9" height="103.19999999999999" fill="none" stroke="#555" stroke-width="0.9"/>
<path d="M141.40 303.80v1.8M148.13 303.80v1.1M152.07 303.80v1.1M154.86 303.80v1.1M157.03 303.80v1.1M158.80 303.80v1.1M160.29 303.80v1.1M161.59 303.80v1.1M162.73 303.80v1.1M163.76 303.80v1.8M170.49 303.80v1.1M174.42 303.80v1.1M177.22 303.80v1.1M179.38 303.80v1.1M181.15 303.80v1.1M182.65 303.80v1.1M183.95 303.80v1.1M185.09 303.80v1.1M186.11 303.80v1.8M192.84 303.80v1.1M196.78 303.80v1.1M199.57 303.80v1.1M201.74 303.80v1.1M203.51 303.80v1.1M205.01 303.80v1.1M206.30 303.80v1.1M207.45 303.80v1.1M208.47 303.80v1.8M215.20 303.80v1.1M219.14 303.80v1.1M221.93 303.80v1.1M224.10 303.80v1.1M225.87 303.80v1.1M227.37 303.80v1.1M228.66 303.80v1.1M229.81 303.80v1.1M230.83 303.80v1.8M134.10 296.50h-1.8M134.10 289.82h-1.1M134.10 285.91h-1.1M134.10 283.14h-1.1M134.10 280.99h-1.1M134.10 279.23h-1.1M134.10 277.75h-1.1M134.10 276.46h-1.1M134.10 275.32h-1.1M134.10 274.31h-1.8M134.10 267.63h-1.1M134.10 263.72h-1.1M134.10 260.95h-1.1M134.10 258.80h-1.1M134.10 257.04h-1.1M134.10 255.56h-1.1M134.10 254.27h-1.1M134.10 253.13h-1.1M134.10 252.12h-1.8M134.10 245.44h-1.1M134.10 241.53h-1.1M134.10 238.76h-1.1M134.10 236.61h-1.1M134.10 234.85h-1.1M134.10 233.37h-1.1M134.10 232.08h-1.1M134.10 230.94h-1.1M134.10 229.93h-1.8M134.10 223.25h-1.1M134.10 219.34h-1.1M134.10 216.57h-1.1M134.10 214.42h-1.1M134.10 212.66h-1.1M134.10 211.18h-1.1M134.10 209.89h-1.1M134.10 208.75h-1.1M134.10 207.74h-1.8" stroke="#444" stroke-width="0.55" fill="none"/>
</g>
<text x="75.6" y="21.5" font-size="11.2" font-weight="bold" text-anchor="middle">M</text>
<text x="187.8" y="21.7" font-size="11.2" font-weight="bold" text-anchor="middle">F</text>
<text x="75.6" y="191.7" font-size="11.2" font-weight="bold" text-anchor="middle">M</text>
<text x="187.8" y="191.89999999999998" font-size="11.2" font-weight="bold" text-anchor="middle">F</text>
<text x="11.3" y="81.7" font-size="9.95" font-weight="bold" text-anchor="middle" transform="rotate(-90 11.3 81.7)" style="stroke-width:0.35px">Auto-Fluorescence</text>
<text x="11.1" y="248.6" font-size="9.45" font-weight="bold" text-anchor="middle" transform="rotate(-90 11.1 248.6)" style="stroke-width:0.35px">Auto-Fluorescence</text>
<text x="18.2" y="147.1" font-size="9.55" font-weight="bold" text-anchor="start" style="stroke-width:0.35px" letter-spacing="0.1">human CD45</text>
<line x1="82" y1="144.5" x2="104" y2="144.5" stroke="#000" stroke-width="1.3"/>
<path d="M103.5 140.5 L114 144.5 L103.5 148.5Z" fill="#000"/>
<text x="18.2" y="317.1" font-size="9.55" font-weight="bold" text-anchor="start" style="stroke-width:0.35px" letter-spacing="0.1">human CD45</text>
<line x1="85.2" y1="314.5" x2="106.5" y2="314.5" stroke="#000" stroke-width="1.3"/>
<path d="M106.0 310.5 L116.5 314.5 L106.0 318.5Z" fill="#000"/>
<g id="B">
<line x1="285" y1="39.6" x2="285" y2="125.1" stroke="#000" stroke-width="1.4"/>
<line x1="281.6" y1="40.1" x2="285" y2="40.1" stroke="#000" stroke-width="1.1"/>
<text x="280.8" y="42.7" font-size="7.4" font-weight="bold" text-anchor="end">100</text>
<line x1="281.6" y1="57.1" x2="285" y2="57.1" stroke="#000" stroke-width="1.1"/>
<text x="280.8" y="59.7" font-size="7.4" font-weight="bold" text-anchor="end">80</text>
<line x1="281.6" y1="74.1" x2="285" y2="74.1" stroke="#000" stroke-width="1.1"/>
<text x="280.8" y="76.69999999999999" font-size="7.4" font-weight="bold" text-anchor="end">60</text>
<line x1="281.6" y1="91.1" x2="285" y2="91.1" stroke="#000" stroke-width="1.1"/>
<text x="280.8" y="93.69999999999999" font-size="7.4" font-weight="bold" text-anchor="end">40</text>
<line x1="281.6" y1="108.1" x2="285" y2="108.1" stroke="#000" stroke-width="1.1"/>
<text x="280.8" y="110.69999999999999" font-size="7.4" font-weight="bold" text-anchor="end">20</text>
<line x1="281.6" y1="125.1" x2="285" y2="125.1" stroke="#000" stroke-width="1.1"/>
<text x="280.8" y="127.69999999999999" font-size="7.4" font-weight="bold" text-anchor="end">0</text>
<text x="263.1" y="81" font-size="8.2" font-weight="bold" text-anchor="middle" transform="rotate(-90 263.1 81)">% human engraftment</text>
<line x1="285" y1="125.1" x2="414" y2="125.1" stroke="#000" stroke-width="1.4"/>
<circle cx="291" cy="55.8" r="1.45" fill="#fff" stroke="#000" stroke-width="0.95"/>
<circle cx="296.2" cy="57.2" r="1.45" fill="#fff" stroke="#000" stroke-width="0.95"/>
<circle cx="293.5" cy="61.3" r="1.45" fill="#fff" stroke="#000" stroke-width="0.95"/>
<circle cx="288.3" cy="63.3" r="1.45" fill="#fff" stroke="#000" stroke-width="0.95"/>
<circle cx="291" cy="65.6" r="1.45" fill="#fff" stroke="#000" stroke-width="0.95"/>
<circle cx="296" cy="65" r="1.45" fill="#fff" stroke="#000" stroke-width="0.95"/>
<circle cx="291" cy="75.2" r="1.45" fill="#fff" stroke="#000" stroke-width="0.95"/>
<circle cx="296.2" cy="79.5" r="1.45" fill="#fff" stroke="#000" stroke-width="0.95"/>
<circle cx="288.3" cy="91.2" r="1.45" fill="#fff" stroke="#000" stroke-width="0.95"/>
<circle cx="293.5" cy="93.2" r="1.45" fill="#fff" stroke="#000" stroke-width="0.95"/>
<circle cx="293.5" cy="95.4" r="1.45" fill="#fff" stroke="#000" stroke-width="0.95"/>
<circle cx="293.7" cy="102.3" r="1.45" fill="#fff" stroke="#000" stroke-width="0.95"/>
<circle cx="288.1" cy="107.1" r="1.45" fill="#fff" stroke="#000" stroke-width="0.95"/>
<circle cx="293.7" cy="110.5" r="1.45" fill="#fff" stroke="#000" stroke-width="0.95"/>
<circle cx="293.7" cy="116.6" r="1.45" fill="#fff" stroke="#000" stroke-width="0.95"/>
<circle cx="291.5" cy="121.5" r="1.45" fill="#fff" stroke="#000" stroke-width="0.95"/>
<circle cx="292" cy="122.6" r="1.45" fill="#fff" stroke="#000" stroke-width="0.95"/>
<circle cx="289.5" cy="123.8" r="1.45" fill="#fff" stroke="#000" stroke-width="0.95"/>
<circle cx="294.5" cy="123.5" r="1.45" fill="#fff" stroke="#000" stroke-width="0.95"/>
<circle cx="323" cy="73.9" r="1.45" fill="#fff" stroke="#000" stroke-width="0.95"/>
<circle cx="328.2" cy="75.7" r="1.45" fill="#fff" stroke="#000" stroke-width="0.95"/>
<circle cx="328.2" cy="78.5" r="1.45" fill="#fff" stroke="#000" stroke-width="0.95"/>
<circle cx="323" cy="81.9" r="1.45" fill="#fff" stroke="#000" stroke-width="0.95"/>
<circle cx="325.7" cy="87.7" r="1.45" fill="#fff" stroke="#000" stroke-width="0.95"/>
<circle cx="323" cy="94.1" r="1.45" fill="#fff" stroke="#000" stroke-width="0.95"/>
<circle cx="328.2" cy="93.6" r="1.45" fill="#fff" stroke="#000" stroke-width="0.95"/>
<circle cx="320.6" cy="101.2" r="1.45" fill="#fff" stroke="#000" stroke-width="0.95"/>
<circle cx="325.8" cy="98.1" r="1.45" fill="#fff" stroke="#000" stroke-width="0.95"/>
<circle cx="326" cy="103" r="1.45" fill="#fff" stroke="#000" stroke-width="0.95"/>
<circle cx="328.2" cy="108.8" r="1.45" fill="#fff" stroke="#000" stroke-width="0.95"/>
<circle cx="323" cy="111.4" r="1.45" fill="#fff" stroke="#000" stroke-width="0.95"/>
<circle cx="320.6" cy="115.4" r="1.45" fill="#fff" stroke="#000" stroke-width="0.95"/>
<circle cx="323" cy="118.5" r="1.45" fill="#fff" stroke="#000" stroke-width="0.95"/>
<circle cx="326" cy="116.6" r="1.45" fill="#fff" stroke="#000" stroke-width="0.95"/>
<circle cx="328.2" cy="119.2" r="1.45" fill="#fff" stroke="#000" stroke-width="0.95"/>
<circle cx="323" cy="122.4" r="1.45" fill="#fff" stroke="#000" stroke-width="0.95"/>
<circle cx="326" cy="121.8" r="1.45" fill="#fff" stroke="#000" stroke-width="0.95"/>
<circle cx="355" cy="91.2" r="1.45" fill="#fff" stroke="#000" stroke-width="0.95"/>
<circle cx="360.5" cy="91.2" r="1.45" fill="#fff" stroke="#000" stroke-width="0.95"/>
<circle cx="357.5" cy="95.5" r="1.45" fill="#fff" stroke="#000" stroke-width="0.95"/>
<circle cx="355" cy="98.5" r="1.45" fill="#fff" stroke="#000" stroke-width="0.95"/>
<circle cx="360.5" cy="100.8" r="1.45" fill="#fff" stroke="#000" stroke-width="0.95"/>
<circle cx="355" cy="106.3" r="1.45" fill="#fff" stroke="#000" stroke-width="0.95"/>
<circle cx="360.5" cy="106.8" r="1.45" fill="#fff" stroke="#000" stroke-width="0.95"/>
<circle cx="357.5" cy="109.4" r="1.45" fill="#fff" stroke="#000" stroke-width="0.95"/>
<circle cx="358" cy="119.1" r="1.45" fill="#fff" stroke="#000" stroke-width="0.95"/>
<circle cx="358" cy="121.3" r="1.45" fill="#fff" stroke="#000" stroke-width="0.95"/>
<circle cx="390.2" cy="53" r="1.45" fill="#fff" stroke="#000" stroke-width="0.95"/>
<circle cx="384.8" cy="61.2" r="1.45" fill="#fff" stroke="#000" stroke-width="0.95"/>
<circle cx="390.2" cy="61" r="1.45" fill="#fff" stroke="#000" stroke-width="0.95"/>
<circle cx="390" cy="100.6" r="1.45" fill="#fff" stroke="#000" stroke-width="0.95"/>
<circle cx="390" cy="115.9" r="1.45" fill="#fff" stroke="#000" stroke-width="0.95"/>
<circle cx="388" cy="122.5" r="1.45" fill="#fff" stroke="#000" stroke-width="0.95"/>
<circle cx="309.6" cy="49.7" r="1.5" fill="#000"/>
<circle cx="312.3" cy="54.6" r="1.5" fill="#000"/>
<circle cx="306.9" cy="57.2" r="1.5" fill="#000"/>
<circle cx="312.3" cy="58" r="1.5" fill="#000"/>
<circle cx="306.9" cy="59.5" r="1.5" fill="#000"/>
<circle cx="309.6" cy="80.8" r="1.5" fill="#000"/>
<circle cx="307" cy="101" r="1.5" fill="#000"/>
<circle cx="307" cy="103.6" r="1.5" fill="#000"/>
<circle cx="312.3" cy="99" r="1.5" fill="#000"/>
<circle cx="312.3" cy="107.1" r="1.5" fill="#000"/>
<circle cx="307" cy="119.2" r="1.5" fill="#000"/>
<circle cx="336.5" cy="69.2" r="1.5" fill="#000"/>
<circle cx="341.9" cy="68.2" r="1.5" fill="#000"/>
<circle cx="344.5" cy="70.8" r="1.5" fill="#000"/>
<circle cx="339.2" cy="72.7" r="1.5" fill="#000"/>
<circle cx="339.2" cy="78.4" r="1.5" fill="#000"/>
<circle cx="344.5" cy="81.1" r="1.5" fill="#000"/>
<circle cx="341.7" cy="104.1" r="1.5" fill="#000"/>
<circle cx="339.2" cy="112.4" r="1.5" fill="#000"/>
<circle cx="344.5" cy="114.3" r="1.5" fill="#000"/>
<circle cx="337" cy="123.5" r="1.5" fill="#000"/>
<circle cx="341.9" cy="122.5" r="1.5" fill="#000"/>
<circle cx="344" cy="123.5" r="1.5" fill="#000"/>
<circle cx="374" cy="62.5" r="1.5" fill="#000"/>
<circle cx="374" cy="74.2" r="1.5" fill="#000"/>
<circle cx="371.4" cy="83.5" r="1.5" fill="#000"/>
<circle cx="376.5" cy="82.9" r="1.5" fill="#000"/>
<circle cx="371.4" cy="87.8" r="1.5" fill="#000"/>
<circle cx="376.5" cy="90.4" r="1.5" fill="#000"/>
<circle cx="374" cy="100.4" r="1.5" fill="#000"/>
<circle cx="374" cy="111.5" r="1.5" fill="#000"/>
<circle cx="372.5" cy="119" r="1.5" fill="#000"/>
<circle cx="376" cy="120.5" r="1.5" fill="#000"/>
<circle cx="403.4" cy="42.3" r="1.5" fill="#000"/>
<circle cx="403.4" cy="44.8" r="1.5" fill="#000"/>
<circle cx="408.7" cy="43.2" r="1.5" fill="#000"/>
<circle cx="405.9" cy="111.6" r="1.5" fill="#000"/>
<circle cx="288.60" cy="124.00" r="1.4" fill="none" stroke="#000" stroke-width="1.0"/>
<circle cx="289.33" cy="125.20" r="1.4" fill="none" stroke="#000" stroke-width="1.0"/>
<circle cx="290.07" cy="124.00" r="1.4" fill="none" stroke="#000" stroke-width="1.0"/>
<circle cx="290.80" cy="125.20" r="1.4" fill="none" stroke="#000" stroke-width="1.0"/>
<circle cx="291.53" cy="124.00" r="1.4" fill="none" stroke="#000" stroke-width="1.0"/>
<circle cx="292.27" cy="125.20" r="1.4" fill="none" stroke="#000" stroke-width="1.0"/>
<circle cx="293.00" cy="124.00" r="1.4" fill="none" stroke="#000" stroke-width="1.0"/>
<circle cx="293.73" cy="125.20" r="1.4" fill="none" stroke="#000" stroke-width="1.0"/>
<circle cx="294.47" cy="124.00" r="1.4" fill="none" stroke="#000" stroke-width="1.0"/>
<circle cx="295.20" cy="125.20" r="1.4" fill="none" stroke="#000" stroke-width="1.0"/>
<circle cx="291.3" cy="121.4" r="1.45" fill="#fff" stroke="#000" stroke-width="0.95"/>
<circle cx="309.6" cy="123.4" r="1.5" fill="#000"/>
<circle cx="310.9" cy="123.4" r="1.5" fill="#000"/>
<circle cx="312.2" cy="123.4" r="1.5" fill="#000"/>
<circle cx="320.30" cy="124.00" r="1.4" fill="none" stroke="#000" stroke-width="1.0"/>
<circle cx="321.11" cy="125.20" r="1.4" fill="none" stroke="#000" stroke-width="1.0"/>
<circle cx="321.92" cy="124.00" r="1.4" fill="none" stroke="#000" stroke-width="1.0"/>
<circle cx="322.73" cy="125.20" r="1.4" fill="none" stroke="#000" stroke-width="1.0"/>
<circle cx="323.54" cy="124.00" r="1.4" fill="none" stroke="#000" stroke-width="1.0"/>
<circle cx="324.36" cy="125.20" r="1.4" fill="none" stroke="#000" stroke-width="1.0"/>
<circle cx="325.17" cy="124.00" r="1.4" fill="none" stroke="#000" stroke-width="1.0"/>
<circle cx="325.98" cy="125.20" r="1.4" fill="none" stroke="#000" stroke-width="1.0"/>
<circle cx="326.79" cy="124.00" r="1.4" fill="none" stroke="#000" stroke-width="1.0"/>
<circle cx="327.60" cy="125.20" r="1.4" fill="none" stroke="#000" stroke-width="1.0"/>
<circle cx="323.5" cy="122.2" r="1.45" fill="#fff" stroke="#000" stroke-width="0.95"/>
<circle cx="336.8" cy="123.4" r="1.5" fill="#000"/>
<circle cx="338.73" cy="123.4" r="1.5" fill="#000"/>
<circle cx="340.67" cy="123.4" r="1.5" fill="#000"/>
<circle cx="342.6" cy="123.4" r="1.5" fill="#000"/>
<circle cx="354.60" cy="124.00" r="1.4" fill="none" stroke="#000" stroke-width="1.0"/>
<circle cx="355.35" cy="125.20" r="1.4" fill="none" stroke="#000" stroke-width="1.0"/>
<circle cx="356.10" cy="124.00" r="1.4" fill="none" stroke="#000" stroke-width="1.0"/>
<circle cx="356.85" cy="125.20" r="1.4" fill="none" stroke="#000" stroke-width="1.0"/>
<circle cx="357.60" cy="124.00" r="1.4" fill="none" stroke="#000" stroke-width="1.0"/>
<circle cx="358.35" cy="125.20" r="1.4" fill="none" stroke="#000" stroke-width="1.0"/>
<circle cx="359.10" cy="124.00" r="1.4" fill="none" stroke="#000" stroke-width="1.0"/>
<circle cx="359.85" cy="125.20" r="1.4" fill="none" stroke="#000" stroke-width="1.0"/>
<circle cx="360.60" cy="124.00" r="1.4" fill="none" stroke="#000" stroke-width="1.0"/>
<circle cx="357.5" cy="121.5" r="1.45" fill="#fff" stroke="#000" stroke-width="0.95"/>
<circle cx="372.0" cy="124.0" r="1.5" fill="#000"/>
<circle cx="374.2" cy="124.0" r="1.5" fill="#000"/>
<circle cx="376.4" cy="124.0" r="1.5" fill="#000"/>
<circle cx="372.3" cy="120.6" r="1.5" fill="#000"/>
<circle cx="374.6" cy="120.9" r="1.5" fill="#000"/>
<circle cx="384.60" cy="124.00" r="1.4" fill="none" stroke="#000" stroke-width="1.0"/>
<circle cx="385.51" cy="125.20" r="1.4" fill="none" stroke="#000" stroke-width="1.0"/>
<circle cx="386.42" cy="124.00" r="1.4" fill="none" stroke="#000" stroke-width="1.0"/>
<circle cx="387.33" cy="125.20" r="1.4" fill="none" stroke="#000" stroke-width="1.0"/>
<circle cx="388.24" cy="124.00" r="1.4" fill="none" stroke="#000" stroke-width="1.0"/>
<circle cx="389.16" cy="125.20" r="1.4" fill="none" stroke="#000" stroke-width="1.0"/>
<circle cx="390.07" cy="124.00" r="1.4" fill="none" stroke="#000" stroke-width="1.0"/>
<circle cx="390.98" cy="125.20" r="1.4" fill="none" stroke="#000" stroke-width="1.0"/>
<circle cx="391.89" cy="124.00" r="1.4" fill="none" stroke="#000" stroke-width="1.0"/>
<circle cx="392.80" cy="125.20" r="1.4" fill="none" stroke="#000" stroke-width="1.0"/>
<circle cx="388" cy="121.4" r="1.45" fill="#fff" stroke="#000" stroke-width="0.95"/>
<circle cx="403.5" cy="124.3" r="1.5" fill="#000"/>
<circle cx="405.2" cy="124.3" r="1.5" fill="#000"/>
<circle cx="406.9" cy="124.3" r="1.5" fill="#000"/>
<circle cx="408.6" cy="124.3" r="1.5" fill="#000"/>
<line x1="288.8" y1="98" x2="299" y2="98" stroke="#000" stroke-width="1.1"/>
<line x1="304" y1="87.3" x2="314.5" y2="87.3" stroke="#000" stroke-width="1.1"/>
<line x1="320" y1="107.1" x2="331" y2="107.1" stroke="#000" stroke-width="1.1"/>
<line x1="335.5" y1="97.3" x2="347" y2="97.3" stroke="#000" stroke-width="1.1"/>
<line x1="352" y1="110.9" x2="363" y2="110.9" stroke="#000" stroke-width="1.1"/>
<line x1="368.5" y1="100.4" x2="380" y2="100.4" stroke="#000" stroke-width="1.1"/>
<line x1="384.5" y1="103.5" x2="395.5" y2="103.5" stroke="#000" stroke-width="1.1"/>
<line x1="401" y1="89.9" x2="410.7" y2="89.9" stroke="#000" stroke-width="1.1"/>
<text x="293.4" y="138.9" font-size="8" font-weight="bold" text-anchor="middle">M</text>
<text x="309.2" y="138.9" font-size="8" font-weight="bold" text-anchor="middle">F</text>
<text x="325.3" y="138.9" font-size="8" font-weight="bold" text-anchor="middle">M</text>
<text x="341.1" y="138.9" font-size="8" font-weight="bold" text-anchor="middle">F</text>
<text x="357.8" y="138.9" font-size="8" font-weight="bold" text-anchor="middle">M</text>
<text x="373.6" y="138.9" font-size="8" font-weight="bold" text-anchor="middle">F</text>
<text x="390" y="138.9" font-size="8" font-weight="bold" text-anchor="middle">M</text>
<text x="406" y="138.9" font-size="8" font-weight="bold" text-anchor="middle">F</text>
<line x1="286.5" y1="144.2" x2="313" y2="144.2" stroke="#000" stroke-width="1.2"/>
<text x="300.05" y="155.7" font-size="7.6" font-weight="bold" text-anchor="middle">IF</text>
<line x1="319" y1="144.2" x2="346" y2="144.2" stroke="#000" stroke-width="1.2"/>
<text x="332.8" y="155.7" font-size="7.6" font-weight="bold" text-anchor="middle">BM</text>
<line x1="351" y1="144.2" x2="378" y2="144.2" stroke="#000" stroke-width="1.2"/>
<text x="364.8" y="155.7" font-size="7.6" font-weight="bold" text-anchor="middle">SP</text>
<line x1="384" y1="144.2" x2="411" y2="144.2" stroke="#000" stroke-width="1.2"/>
<text x="397.8" y="155.7" font-size="7.6" font-weight="bold" text-anchor="middle">TH</text>
</g>
<g id="E">
<line x1="286" y1="204.3" x2="286" y2="244.4" stroke="#000" stroke-width="1.4"/>
<line x1="284.6" y1="244.4" x2="287.8" y2="244.4" stroke="#000" stroke-width="1.2"/>
<line x1="286" y1="251.6" x2="286" y2="291.7" stroke="#000" stroke-width="1.4"/>
<line x1="286" y1="251.6" x2="288" y2="251.6" stroke="#000" stroke-width="1.2"/>
<line x1="282.6" y1="204.8" x2="286" y2="204.8" stroke="#000" stroke-width="1.1"/>
<text x="281.9" y="207.3" font-size="7.9" font-weight="bold" text-anchor="end">80</text>
<line x1="282.6" y1="216.3" x2="286" y2="216.3" stroke="#000" stroke-width="1.1"/>
<text x="281.9" y="218.8" font-size="7.9" font-weight="bold" text-anchor="end">60</text>
<line x1="282.6" y1="227.7" x2="286" y2="227.7" stroke="#000" stroke-width="1.1"/>
<text x="281.9" y="230.2" font-size="7.9" font-weight="bold" text-anchor="end">40</text>
<line x1="282.6" y1="239.1" x2="286" y2="239.1" stroke="#000" stroke-width="1.1"/>
<text x="281.9" y="241.6" font-size="7.9" font-weight="bold" text-anchor="end">20</text>
<line x1="282.6" y1="252.1" x2="286" y2="252.1" stroke="#000" stroke-width="1.1"/>
<text x="281.9" y="254.6" font-size="7.9" font-weight="bold" text-anchor="end">10</text>
<line x1="282.6" y1="271.8" x2="286" y2="271.8" stroke="#000" stroke-width="1.1"/>
<text x="281.9" y="274.3" font-size="7.9" font-weight="bold" text-anchor="end">5</text>
<line x1="282.6" y1="291.5" x2="286" y2="291.5" stroke="#000" stroke-width="1.1"/>
<text x="281.9" y="294.0" font-size="7.9" font-weight="bold" text-anchor="end">0</text>
<text x="267.8" y="246.3" font-size="8.45" font-weight="bold" text-anchor="middle" transform="rotate(-90 267.8 246.3)">% human engraftment</text>
<line x1="282.6" y1="291.7" x2="417" y2="291.7" stroke="#000" stroke-width="1.4"/>
<circle cx="294.4" cy="242.3" r="1.45" fill="#fff" stroke="#000" stroke-width="0.95"/>
<circle cx="292" cy="289.3" r="1.45" fill="#fff" stroke="#000" stroke-width="0.95"/>
<circle cx="295" cy="289.5" r="1.45" fill="#fff" stroke="#000" stroke-width="0.95"/>
<circle cx="325.2" cy="288.9" r="1.45" fill="#fff" stroke="#000" stroke-width="0.95"/>
<circle cx="360" cy="286.2" r="1.45" fill="#fff" stroke="#000" stroke-width="0.95"/>
<circle cx="310.8" cy="216.1" r="1.5" fill="#000"/>
<circle cx="310.8" cy="228.3" r="1.5" fill="#000"/>
<circle cx="310.8" cy="233.8" r="1.5" fill="#000"/>
<circle cx="305.6" cy="237.8" r="1.5" fill="#000"/>
<circle cx="306.3" cy="239.7" r="1.5" fill="#000"/>
<circle cx="305.3" cy="242" r="1.5" fill="#000"/>
<circle cx="308.8" cy="241.2" r="1.5" fill="#000"/>
<circle cx="311.3" cy="243.2" r="1.5" fill="#000"/>
<circle cx="310.8" cy="264.5" r="1.5" fill="#000"/>
<circle cx="310.8" cy="272.7" r="1.5" fill="#000"/>
<circle cx="305.6" cy="282" r="1.5" fill="#000"/>
<circle cx="310" cy="282" r="1.5" fill="#000"/>
<circle cx="308.8" cy="285.5" r="1.5" fill="#000"/>
<circle cx="313.8" cy="285" r="1.5" fill="#000"/>
<circle cx="313.8" cy="288" r="1.5" fill="#000"/>
<circle cx="343.6" cy="225.6" r="1.5" fill="#000"/>
<circle cx="346.4" cy="240" r="1.5" fill="#000"/>
<circle cx="341.1" cy="243.1" r="1.5" fill="#000"/>
<circle cx="343.6" cy="252.2" r="1.5" fill="#000"/>
<circle cx="343.8" cy="259.6" r="1.5" fill="#000"/>
<circle cx="338.2" cy="264.6" r="1.5" fill="#000"/>
<circle cx="343.8" cy="265" r="1.5" fill="#000"/>
<circle cx="338.7" cy="276.3" r="1.5" fill="#000"/>
<circle cx="343.8" cy="275.2" r="1.5" fill="#000"/>
<circle cx="343.8" cy="279.5" r="1.5" fill="#000"/>
<circle cx="343.8" cy="283.1" r="1.5" fill="#000"/>
<circle cx="338.7" cy="283.4" r="1.5" fill="#000"/>
<circle cx="343.3" cy="286.9" r="1.5" fill="#000"/>
<circle cx="347.6" cy="286.9" r="1.5" fill="#000"/>
<circle cx="341.3" cy="288.3" r="1.5" fill="#000"/>
<circle cx="373.8" cy="243.2" r="1.5" fill="#000"/>
<circle cx="379.3" cy="243.5" r="1.5" fill="#000"/>
<circle cx="376.4" cy="255.5" r="1.5" fill="#000"/>
<circle cx="373.5" cy="265" r="1.5" fill="#000"/>
<circle cx="378.8" cy="265" r="1.5" fill="#000"/>
<circle cx="376.2" cy="265" r="1.5" fill="#000"/>
<circle cx="373.8" cy="275.5" r="1.5" fill="#000"/>
<circle cx="379.4" cy="275.5" r="1.5" fill="#000"/>
<circle cx="373.8" cy="280.5" r="1.5" fill="#000"/>
<circle cx="373.8" cy="284" r="1.5" fill="#000"/>
<circle cx="379.4" cy="281.8" r="1.5" fill="#000"/>
<circle cx="379.4" cy="285" r="1.5" fill="#000"/>
<circle cx="376.5" cy="288" r="1.5" fill="#000"/>
<circle cx="409.5" cy="236.2" r="1.5" fill="#000"/>
<circle cx="409.4" cy="256.5" r="1.5" fill="#000"/>
<circle cx="409.4" cy="264.4" r="1.5" fill="#000"/>
<circle cx="409.4" cy="277.5" r="1.5" fill="#000"/>
<circle cx="290.80" cy="290.70" r="1.4" fill="none" stroke="#000" stroke-width="1.0"/>
<circle cx="291.54" cy="291.90" r="1.4" fill="none" stroke="#000" stroke-width="1.0"/>
<circle cx="292.29" cy="290.70" r="1.4" fill="none" stroke="#000" stroke-width="1.0"/>
<circle cx="293.03" cy="291.90" r="1.4" fill="none" stroke="#000" stroke-width="1.0"/>
<circle cx="293.78" cy="290.70" r="1.4" fill="none" stroke="#000" stroke-width="1.0"/>
<circle cx="294.52" cy="291.90" r="1.4" fill="none" stroke="#000" stroke-width="1.0"/>
<circle cx="295.27" cy="290.70" r="1.4" fill="none" stroke="#000" stroke-width="1.0"/>
<circle cx="296.01" cy="291.90" r="1.4" fill="none" stroke="#000" stroke-width="1.0"/>
<circle cx="296.76" cy="290.70" r="1.4" fill="none" stroke="#000" stroke-width="1.0"/>
<circle cx="297.50" cy="291.90" r="1.4" fill="none" stroke="#000" stroke-width="1.0"/>
<circle cx="305.4" cy="290.6" r="1.5" fill="#000"/>
<circle cx="307.45" cy="290.6" r="1.5" fill="#000"/>
<circle cx="309.5" cy="290.6" r="1.5" fill="#000"/>
<circle cx="311.55" cy="290.6" r="1.5" fill="#000"/>
<circle cx="313.6" cy="290.6" r="1.5" fill="#000"/>
<circle cx="322.00" cy="290.70" r="1.4" fill="none" stroke="#000" stroke-width="1.0"/>
<circle cx="322.89" cy="291.90" r="1.4" fill="none" stroke="#000" stroke-width="1.0"/>
<circle cx="323.78" cy="290.70" r="1.4" fill="none" stroke="#000" stroke-width="1.0"/>
<circle cx="324.67" cy="291.90" r="1.4" fill="none" stroke="#000" stroke-width="1.0"/>
<circle cx="325.56" cy="290.70" r="1.4" fill="none" stroke="#000" stroke-width="1.0"/>
<circle cx="326.44" cy="291.90" r="1.4" fill="none" stroke="#000" stroke-width="1.0"/>
<circle cx="327.33" cy="290.70" r="1.4" fill="none" stroke="#000" stroke-width="1.0"/>
<circle cx="328.22" cy="291.90" r="1.4" fill="none" stroke="#000" stroke-width="1.0"/>
<circle cx="329.11" cy="290.70" r="1.4" fill="none" stroke="#000" stroke-width="1.0"/>
<circle cx="330.00" cy="291.90" r="1.4" fill="none" stroke="#000" stroke-width="1.0"/>
<circle cx="337.6" cy="290.6" r="1.5" fill="#000"/>
<circle cx="339.85" cy="290.6" r="1.5" fill="#000"/>
<circle cx="342.1" cy="290.6" r="1.5" fill="#000"/>
<circle cx="344.35" cy="290.6" r="1.5" fill="#000"/>
<circle cx="346.6" cy="290.6" r="1.5" fill="#000"/>
<circle cx="356.00" cy="290.70" r="1.4" fill="none" stroke="#000" stroke-width="1.0"/>
<circle cx="356.91" cy="291.90" r="1.4" fill="none" stroke="#000" stroke-width="1.0"/>
<circle cx="357.82" cy="290.70" r="1.4" fill="none" stroke="#000" stroke-width="1.0"/>
<circle cx="358.73" cy="291.90" r="1.4" fill="none" stroke="#000" stroke-width="1.0"/>
<circle cx="359.64" cy="290.70" r="1.4" fill="none" stroke="#000" stroke-width="1.0"/>
<circle cx="360.56" cy="291.90" r="1.4" fill="none" stroke="#000" stroke-width="1.0"/>
<circle cx="361.47" cy="290.70" r="1.4" fill="none" stroke="#000" stroke-width="1.0"/>
<circle cx="362.38" cy="291.90" r="1.4" fill="none" stroke="#000" stroke-width="1.0"/>
<circle cx="363.29" cy="290.70" r="1.4" fill="none" stroke="#000" stroke-width="1.0"/>
<circle cx="364.20" cy="291.90" r="1.4" fill="none" stroke="#000" stroke-width="1.0"/>
<circle cx="373.4" cy="290.6" r="1.5" fill="#000"/>
<circle cx="375.47" cy="290.6" r="1.5" fill="#000"/>
<circle cx="377.53" cy="290.6" r="1.5" fill="#000"/>
<circle cx="379.6" cy="290.6" r="1.5" fill="#000"/>
<circle cx="387.60" cy="290.70" r="1.4" fill="none" stroke="#000" stroke-width="1.0"/>
<circle cx="388.40" cy="291.90" r="1.4" fill="none" stroke="#000" stroke-width="1.0"/>
<circle cx="389.20" cy="290.70" r="1.4" fill="none" stroke="#000" stroke-width="1.0"/>
<circle cx="390.00" cy="291.90" r="1.4" fill="none" stroke="#000" stroke-width="1.0"/>
<circle cx="390.80" cy="290.70" r="1.4" fill="none" stroke="#000" stroke-width="1.0"/>
<circle cx="391.60" cy="291.90" r="1.4" fill="none" stroke="#000" stroke-width="1.0"/>
<circle cx="392.40" cy="290.70" r="1.4" fill="none" stroke="#000" stroke-width="1.0"/>
<circle cx="393.20" cy="291.90" r="1.4" fill="none" stroke="#000" stroke-width="1.0"/>
<circle cx="394.00" cy="290.70" r="1.4" fill="none" stroke="#000" stroke-width="1.0"/>
<circle cx="394.80" cy="291.90" r="1.4" fill="none" stroke="#000" stroke-width="1.0"/>
<circle cx="395.60" cy="290.70" r="1.4" fill="none" stroke="#000" stroke-width="1.0"/>
<circle cx="396.40" cy="291.90" r="1.4" fill="none" stroke="#000" stroke-width="1.0"/>
<circle cx="404.0" cy="290.8" r="1.5" fill="#000"/>
<circle cx="406.0" cy="290.8" r="1.5" fill="#000"/>
<circle cx="408.0" cy="290.8" r="1.5" fill="#000"/>
<circle cx="410.0" cy="290.8" r="1.5" fill="#000"/>
<circle cx="412.0" cy="290.8" r="1.5" fill="#000"/>
<line x1="289" y1="288.6" x2="300" y2="288.6" stroke="#000" stroke-width="1.1"/>
<line x1="305.6" y1="259.5" x2="316.8" y2="259.5" stroke="#000" stroke-width="1.1"/>
<line x1="339" y1="272.8" x2="349.4" y2="272.8" stroke="#000" stroke-width="1.1"/>
<line x1="371.5" y1="278.8" x2="382" y2="278.8" stroke="#000" stroke-width="1.1"/>
<line x1="404" y1="283.75" x2="415" y2="283.75" stroke="#000" stroke-width="1.1"/>
<line x1="294.6" y1="209.1" x2="311.9" y2="209.1" stroke="#000" stroke-width="1.3"/>
<text x="303" y="207.6" font-size="10" font-weight="bold" text-anchor="middle">***</text>
<line x1="327.9" y1="218.1" x2="345.2" y2="218.1" stroke="#000" stroke-width="1.3"/>
<text x="336.4" y="216.6" font-size="10" font-weight="bold" text-anchor="middle">***</text>
<line x1="361.3" y1="236.9" x2="379" y2="236.9" stroke="#000" stroke-width="1.3"/>
<text x="370" y="235.4" font-size="10" font-weight="bold" text-anchor="middle">***</text>
<line x1="394.2" y1="228.8" x2="411.6" y2="228.8" stroke="#000" stroke-width="1.3"/>
<text x="402.8" y="227.3" font-size="10" font-weight="bold" text-anchor="middle">*</text>
<text x="294.2" y="305.5" font-size="7.8" font-weight="bold" text-anchor="middle">M</text>
<text x="310.8" y="305.5" font-size="7.8" font-weight="bold" text-anchor="middle">F</text>
<text x="327.3" y="305.5" font-size="7.8" font-weight="bold" text-anchor="middle">M</text>
<text x="343.1" y="305.5" font-size="7.8" font-weight="bold" text-anchor="middle">F</text>
<text x="360.3" y="305.5" font-size="7.8" font-weight="bold" text-anchor="middle">M</text>
<text x="376.4" y="305.5" font-size="7.8" font-weight="bold" text-anchor="middle">F</text>
<text x="393.1" y="305.5" font-size="7.8" font-weight="bold" text-anchor="middle">M</text>
<text x="409.2" y="305.5" font-size="7.8" font-weight="bold" text-anchor="middle">F</text>
<line x1="287" y1="311.1" x2="315" y2="311.1" stroke="#000" stroke-width="1.2"/>
<text x="301.3" y="323.4" font-size="7.9" font-weight="bold" text-anchor="middle">IF</text>
<line x1="320.4" y1="311.1" x2="348" y2="311.1" stroke="#000" stroke-width="1.2"/>
<text x="334.5" y="323.4" font-size="7.9" font-weight="bold" text-anchor="middle">BM</text>
<line x1="353.4" y1="311.1" x2="381" y2="311.1" stroke="#000" stroke-width="1.2"/>
<text x="367.5" y="323.4" font-size="7.9" font-weight="bold" text-anchor="middle">SP</text>
<line x1="387" y1="311.1" x2="414.6" y2="311.1" stroke="#000" stroke-width="1.2"/>
<text x="401.1" y="323.4" font-size="7.9" font-weight="bold" text-anchor="middle">TH</text>
</g>
<g id="C">
<line x1="471" y1="43.1" x2="471" y2="129.7" stroke="#000" stroke-width="1.4"/>
<line x1="467.6" y1="43.6" x2="471" y2="43.6" stroke="#000" stroke-width="1.1"/>
<text x="467.2" y="45.9" font-size="6.6" font-weight="bold" text-anchor="end">2.0</text>
<line x1="467.6" y1="65.12" x2="471" y2="65.12" stroke="#000" stroke-width="1.1"/>
<text x="467.2" y="67.42" font-size="6.6" font-weight="bold" text-anchor="end">1.5</text>
<line x1="467.6" y1="86.64" x2="471" y2="86.64" stroke="#000" stroke-width="1.1"/>
<text x="467.2" y="88.94" font-size="6.6" font-weight="bold" text-anchor="end">1.0</text>
<line x1="467.6" y1="108.16" x2="471" y2="108.16" stroke="#000" stroke-width="1.1"/>
<text x="467.2" y="110.46" font-size="6.6" font-weight="bold" text-anchor="end">0.5</text>
<line x1="467.6" y1="129.68" x2="471" y2="129.68" stroke="#000" stroke-width="1.1"/>
<text x="467.2" y="131.98000000000002" font-size="6.6" font-weight="bold" text-anchor="end">0.0</text>
<rect x="472.3" y="69.6" width="8.199999999999989" height="60.099999999999994" fill="#000"/>
<rect x="483.2" y="62" width="8.300000000000011" height="67.69999999999999" fill="#000"/>
<rect x="494.2" y="54" width="8.199999999999989" height="75.69999999999999" fill="#000"/>
<rect x="505" y="59.9" width="8.100000000000023" height="69.79999999999998" fill="#000"/>
<line x1="467.6" y1="129.7" x2="513.4" y2="129.7" stroke="#000" stroke-width="1.4"/>
<text x="478.70000000000005" y="133.5" font-size="6" font-weight="bold" text-anchor="end" transform="rotate(-90 478.70000000000005 133.5)">IF</text>
<text x="489.8" y="133.5" font-size="6" font-weight="bold" text-anchor="end" transform="rotate(-90 489.8 133.5)">BM</text>
<text x="499.90000000000003" y="133.5" font-size="6" font-weight="bold" text-anchor="end" transform="rotate(-90 499.90000000000003 133.5)">SP</text>
<text x="510.90000000000003" y="133.5" font-size="6" font-weight="bold" text-anchor="end" transform="rotate(-90 510.90000000000003 133.5)">TH</text>
<text x="443.5" y="85" font-size="7.0" font-weight="bold" text-anchor="middle" transform="rotate(-90 443.5 85)">Fold Difference engraftment</text>
<text x="450.6" y="84.3" font-size="7.2" font-weight="bold" text-anchor="middle" transform="rotate(-90 450.6 84.3)">(female/male)</text>
</g>
<g id="Fbar">
<line x1="471.4" y1="199.3" x2="471.4" y2="291.8" stroke="#000" stroke-width="1.4"/>
<line x1="468" y1="199.8" x2="471.4" y2="199.8" stroke="#000" stroke-width="1.1"/>
<text x="467.8" y="202.0" font-size="6.3" font-weight="bold" text-anchor="end">100</text>
<line x1="468" y1="218.20000000000002" x2="471.4" y2="218.20000000000002" stroke="#000" stroke-width="1.1"/>
<text x="467.8" y="220.4" font-size="6.3" font-weight="bold" text-anchor="end">80</text>
<line x1="468" y1="236.60000000000002" x2="471.4" y2="236.60000000000002" stroke="#000" stroke-width="1.1"/>
<text x="467.8" y="238.8" font-size="6.3" font-weight="bold" text-anchor="end">60</text>
<line x1="468" y1="255.0" x2="471.4" y2="255.0" stroke="#000" stroke-width="1.1"/>
<text x="467.8" y="257.2" font-size="6.3" font-weight="bold" text-anchor="end">40</text>
<line x1="468" y1="273.4" x2="471.4" y2="273.4" stroke="#000" stroke-width="1.1"/>
<text x="467.8" y="275.59999999999997" font-size="6.3" font-weight="bold" text-anchor="end">20</text>
<line x1="468" y1="291.8" x2="471.4" y2="291.8" stroke="#000" stroke-width="1.1"/>
<text x="467.8" y="294.0" font-size="6.3" font-weight="bold" text-anchor="end">0</text>
<rect x="474.2" y="280.8" width="8.100000000000023" height="11.0" fill="#000"/>
<rect x="485.3" y="220.9" width="8.699999999999989" height="70.9" fill="#000"/>
<rect x="496.3" y="266.3" width="9.300000000000011" height="25.5" fill="#000"/>
<text x="512.4" y="284.6" font-size="8" font-weight="normal" text-anchor="middle">∞</text>
<line x1="468" y1="291.8" x2="518.5" y2="291.8" stroke="#000" stroke-width="1.4"/>
<text x="479.5" y="295.7" font-size="6.2" font-weight="bold" text-anchor="end" transform="rotate(-90 479.5 295.7)">IF</text>
<text x="491.20000000000005" y="295.7" font-size="6.2" font-weight="bold" text-anchor="end" transform="rotate(-90 491.20000000000005 295.7)">BM</text>
<text x="502.20000000000005" y="295.7" font-size="6.2" font-weight="bold" text-anchor="end" transform="rotate(-90 502.20000000000005 295.7)">SP</text>
<text x="513.7" y="295.7" font-size="6.2" font-weight="bold" text-anchor="end" transform="rotate(-90 513.7 295.7)">TH</text>
<text x="443.5" y="244.3" font-size="7.35" font-weight="bold" text-anchor="middle" transform="rotate(-90 443.5 244.3)">Fold Difference engraftment</text>
<text x="451.2" y="244.3" font-size="7.6" font-weight="bold" text-anchor="middle" transform="rotate(-90 451.2 244.3)">(female/male)</text>
</g>
</svg></body></html>
